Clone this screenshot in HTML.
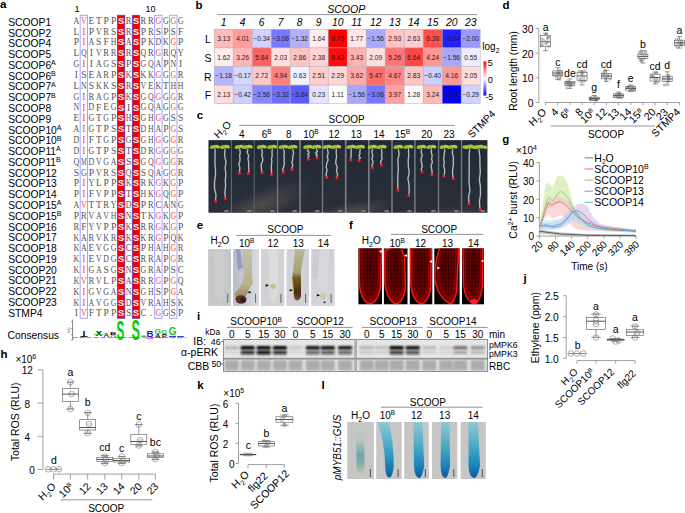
<!DOCTYPE html><html><head><meta charset="utf-8"><style>html,body{margin:0;padding:0;background:#fff;overflow:hidden}svg{display:block}</style></head><body>
<svg width="685" height="513" viewBox="0 0 685 513" font-family="Liberation Sans, sans-serif">
<rect width="685" height="513" fill="#fff"/>
<text x="0.00" y="7.70" font-size="11.5" fill="#000" font-weight="bold">a</text>
<rect x="117.40" y="15.30" width="7.40" height="303.00" fill="#f20000" stroke="#5a3cc8" stroke-width="0.8"/>
<rect x="132.30" y="15.30" width="7.40" height="303.00" fill="#f20000" stroke="#5a3cc8" stroke-width="0.8"/>
<rect x="80.15" y="15.30" width="7.40" height="303.00" fill="none" stroke="#9a9aff" stroke-width="0.9"/>
<rect x="154.65" y="15.30" width="7.40" height="303.00" fill="none" stroke="#9a9aff" stroke-width="0.9"/>
<rect x="169.55" y="15.30" width="7.40" height="303.00" fill="none" stroke="#9a9aff" stroke-width="0.9"/>
<text x="8.20" y="25.80" font-size="10.3">SCOOP1</text>
<text x="8.20" y="36.58" font-size="10.3">SCOOP2</text>
<text x="8.20" y="47.35" font-size="10.3">SCOOP4</text>
<text x="8.20" y="58.12" font-size="10.3">SCOOP5</text>
<text x="8.20" y="68.90" font-size="10.3">SCOOP6<tspan font-size="7.0" dy="-3.7">A</tspan></text>
<text x="8.20" y="79.67" font-size="10.3">SCOOP6<tspan font-size="7.0" dy="-3.7">B</tspan></text>
<text x="8.20" y="90.45" font-size="10.3">SCOOP7<tspan font-size="7.0" dy="-3.7">A</tspan></text>
<text x="8.20" y="101.22" font-size="10.3">SCOOP7<tspan font-size="7.0" dy="-3.7">B</tspan></text>
<text x="8.20" y="112.00" font-size="10.3">SCOOP8</text>
<text x="8.20" y="122.78" font-size="10.3">SCOOP9</text>
<text x="8.20" y="133.55" font-size="10.3">SCOOP10<tspan font-size="7.0" dy="-3.7">A</tspan></text>
<text x="8.20" y="144.33" font-size="10.3">SCOOP10<tspan font-size="7.0" dy="-3.7">B</tspan></text>
<text x="8.20" y="155.10" font-size="10.3">SCOOP11<tspan font-size="7.0" dy="-3.7">A</tspan></text>
<text x="8.20" y="165.88" font-size="10.3">SCOOP11<tspan font-size="7.0" dy="-3.7">B</tspan></text>
<text x="8.20" y="176.65" font-size="10.3">SCOOP12</text>
<text x="8.20" y="187.43" font-size="10.3">SCOOP13</text>
<text x="8.20" y="198.20" font-size="10.3">SCOOP14</text>
<text x="8.20" y="208.98" font-size="10.3">SCOOP15<tspan font-size="7.0" dy="-3.7">A</tspan></text>
<text x="8.20" y="219.75" font-size="10.3">SCOOP15<tspan font-size="7.0" dy="-3.7">B</tspan></text>
<text x="8.20" y="230.53" font-size="10.3">SCOOP16</text>
<text x="8.20" y="241.30" font-size="10.3">SCOOP17</text>
<text x="8.20" y="252.08" font-size="10.3">SCOOP18</text>
<text x="8.20" y="262.85" font-size="10.3">SCOOP19</text>
<text x="8.20" y="273.62" font-size="10.3">SCOOP20</text>
<text x="8.20" y="284.40" font-size="10.3">SCOOP21</text>
<text x="8.20" y="295.18" font-size="10.3">SCOOP22</text>
<text x="8.20" y="305.95" font-size="10.3">SCOOP23</text>
<text x="8.20" y="316.73" font-size="10.3">STMP4</text>
<text x="76.40" y="23.80" font-size="9.6" text-anchor="middle" fill="#555" font-family="Liberation Serif, serif" transform="translate(76.40 23.80) scale(0.822 1) translate(-76.40 -23.80)">A</text>
<text x="83.85" y="23.80" font-size="9.6" text-anchor="middle" fill="#ff4646" font-family="Liberation Serif, serif" transform="translate(83.85 23.80) scale(0.822 1) translate(-83.85 -23.80)">V</text>
<text x="91.30" y="23.80" font-size="9.6" text-anchor="middle" fill="#555" font-family="Liberation Serif, serif" transform="translate(91.30 23.80) scale(0.972 1) translate(-91.30 -23.80)">E</text>
<text x="98.75" y="23.80" font-size="9.6" text-anchor="middle" fill="#555" font-family="Liberation Serif, serif" transform="translate(98.75 23.80) scale(0.972 1) translate(-98.75 -23.80)">T</text>
<text x="106.20" y="23.80" font-size="9.6" text-anchor="middle" fill="#555" font-family="Liberation Serif, serif">P</text>
<text x="113.65" y="23.80" font-size="9.6" text-anchor="middle" fill="#555" font-family="Liberation Serif, serif">P</text>
<text x="121.10" y="23.80" font-size="9.2" text-anchor="middle" fill="#fff" font-weight="bold" font-family="Liberation Sans, sans-serif">S</text>
<text x="128.55" y="23.80" font-size="9.6" text-anchor="middle" fill="#555" font-family="Liberation Serif, serif" transform="translate(128.55 23.80) scale(0.890 1) translate(-128.55 -23.80)">R</text>
<text x="136.00" y="23.80" font-size="9.2" text-anchor="middle" fill="#fff" font-weight="bold" font-family="Liberation Sans, sans-serif">S</text>
<text x="143.45" y="23.80" font-size="9.6" text-anchor="middle" fill="#555" font-family="Liberation Serif, serif" transform="translate(143.45 23.80) scale(0.890 1) translate(-143.45 -23.80)">R</text>
<text x="150.90" y="23.80" font-size="9.6" text-anchor="middle" fill="#555" font-family="Liberation Serif, serif" transform="translate(150.90 23.80) scale(0.890 1) translate(-150.90 -23.80)">R</text>
<text x="158.35" y="23.80" font-size="9.6" text-anchor="middle" fill="#ff4646" font-family="Liberation Serif, serif" transform="translate(158.35 23.80) scale(0.822 1) translate(-158.35 -23.80)">G</text>
<text x="165.80" y="23.80" font-size="9.6" text-anchor="middle" fill="#555" font-family="Liberation Serif, serif" transform="translate(165.80 23.80) scale(0.822 1) translate(-165.80 -23.80)">G</text>
<text x="173.25" y="23.80" font-size="9.6" text-anchor="middle" fill="#ff4646" font-family="Liberation Serif, serif" transform="translate(173.25 23.80) scale(0.822 1) translate(-173.25 -23.80)">G</text>
<text x="180.70" y="23.80" font-size="9.6" text-anchor="middle" fill="#555" font-family="Liberation Serif, serif" transform="translate(180.70 23.80) scale(0.822 1) translate(-180.70 -23.80)">G</text>
<text x="76.40" y="34.64" font-size="9.6" text-anchor="middle" fill="#555" font-family="Liberation Serif, serif" transform="translate(76.40 34.64) scale(0.972 1) translate(-76.40 -34.64)">L</text>
<text x="83.85" y="34.64" font-size="9.6" text-anchor="middle" fill="#ff4646" font-family="Liberation Serif, serif">I</text>
<text x="91.30" y="34.64" font-size="9.6" text-anchor="middle" fill="#555" font-family="Liberation Serif, serif">P</text>
<text x="98.75" y="34.64" font-size="9.6" text-anchor="middle" fill="#555" font-family="Liberation Serif, serif" transform="translate(98.75 34.64) scale(0.822 1) translate(-98.75 -34.64)">V</text>
<text x="106.20" y="34.64" font-size="9.6" text-anchor="middle" fill="#555" font-family="Liberation Serif, serif" transform="translate(106.20 34.64) scale(0.890 1) translate(-106.20 -34.64)">R</text>
<text x="113.65" y="34.64" font-size="9.6" text-anchor="middle" fill="#555" font-family="Liberation Serif, serif">S</text>
<text x="121.10" y="34.64" font-size="9.2" text-anchor="middle" fill="#fff" font-weight="bold" font-family="Liberation Sans, sans-serif">S</text>
<text x="128.55" y="34.64" font-size="9.6" text-anchor="middle" fill="#555" font-family="Liberation Serif, serif" transform="translate(128.55 34.64) scale(0.890 1) translate(-128.55 -34.64)">R</text>
<text x="136.00" y="34.64" font-size="9.2" text-anchor="middle" fill="#fff" font-weight="bold" font-family="Liberation Sans, sans-serif">S</text>
<text x="143.45" y="34.64" font-size="9.6" text-anchor="middle" fill="#555" font-family="Liberation Serif, serif">P</text>
<text x="150.90" y="34.64" font-size="9.6" text-anchor="middle" fill="#555" font-family="Liberation Serif, serif" transform="translate(150.90 34.64) scale(0.890 1) translate(-150.90 -34.64)">R</text>
<text x="158.35" y="34.64" font-size="9.6" text-anchor="middle" fill="#555" font-family="Liberation Serif, serif">S</text>
<text x="165.80" y="34.64" font-size="9.6" text-anchor="middle" fill="#555" font-family="Liberation Serif, serif">P</text>
<text x="173.25" y="34.64" font-size="9.6" text-anchor="middle" fill="#555" font-family="Liberation Serif, serif">S</text>
<text x="180.70" y="34.64" font-size="9.6" text-anchor="middle" fill="#555" font-family="Liberation Serif, serif">F</text>
<text x="76.40" y="45.48" font-size="9.6" text-anchor="middle" fill="#555" font-family="Liberation Serif, serif">P</text>
<text x="83.85" y="45.48" font-size="9.6" text-anchor="middle" fill="#ff4646" font-family="Liberation Serif, serif">I</text>
<text x="91.30" y="45.48" font-size="9.6" text-anchor="middle" fill="#555" font-family="Liberation Serif, serif" transform="translate(91.30 45.48) scale(0.822 1) translate(-91.30 -45.48)">A</text>
<text x="98.75" y="45.48" font-size="9.6" text-anchor="middle" fill="#555" font-family="Liberation Serif, serif">S</text>
<text x="106.20" y="45.48" font-size="9.6" text-anchor="middle" fill="#555" font-family="Liberation Serif, serif">F</text>
<text x="113.65" y="45.48" font-size="9.6" text-anchor="middle" fill="#555" font-family="Liberation Serif, serif" transform="translate(113.65 45.48) scale(0.822 1) translate(-113.65 -45.48)">H</text>
<text x="121.10" y="45.48" font-size="9.2" text-anchor="middle" fill="#fff" font-weight="bold" font-family="Liberation Sans, sans-serif">S</text>
<text x="128.55" y="45.48" font-size="9.6" text-anchor="middle" fill="#555" font-family="Liberation Serif, serif" transform="translate(128.55 45.48) scale(0.822 1) translate(-128.55 -45.48)">A</text>
<text x="136.00" y="45.48" font-size="9.2" text-anchor="middle" fill="#fff" font-weight="bold" font-family="Liberation Sans, sans-serif">S</text>
<text x="143.45" y="45.48" font-size="9.6" text-anchor="middle" fill="#555" font-family="Liberation Serif, serif">P</text>
<text x="150.90" y="45.48" font-size="9.6" text-anchor="middle" fill="#555" font-family="Liberation Serif, serif" transform="translate(150.90 45.48) scale(0.822 1) translate(-150.90 -45.48)">K</text>
<text x="158.35" y="45.48" font-size="9.6" text-anchor="middle" fill="#555" font-family="Liberation Serif, serif" transform="translate(158.35 45.48) scale(0.822 1) translate(-158.35 -45.48)">D</text>
<text x="165.80" y="45.48" font-size="9.6" text-anchor="middle" fill="#555" font-family="Liberation Serif, serif" transform="translate(165.80 45.48) scale(0.822 1) translate(-165.80 -45.48)">K</text>
<text x="173.25" y="45.48" font-size="9.6" text-anchor="middle" fill="#ff4646" font-family="Liberation Serif, serif" transform="translate(173.25 45.48) scale(0.822 1) translate(-173.25 -45.48)">G</text>
<text x="180.70" y="45.48" font-size="9.6" text-anchor="middle" fill="#555" font-family="Liberation Serif, serif">P</text>
<text x="76.40" y="56.31" font-size="9.6" text-anchor="middle" fill="#555" font-family="Liberation Serif, serif" transform="translate(76.40 56.31) scale(0.972 1) translate(-76.40 -56.31)">L</text>
<text x="83.85" y="56.31" font-size="9.6" text-anchor="middle" fill="#555" font-family="Liberation Serif, serif" transform="translate(83.85 56.31) scale(0.822 1) translate(-83.85 -56.31)">Q</text>
<text x="91.30" y="56.31" font-size="9.6" text-anchor="middle" fill="#555" font-family="Liberation Serif, serif">I</text>
<text x="98.75" y="56.31" font-size="9.6" text-anchor="middle" fill="#555" font-family="Liberation Serif, serif" transform="translate(98.75 56.31) scale(0.822 1) translate(-98.75 -56.31)">V</text>
<text x="106.20" y="56.31" font-size="9.6" text-anchor="middle" fill="#555" font-family="Liberation Serif, serif" transform="translate(106.20 56.31) scale(0.890 1) translate(-106.20 -56.31)">R</text>
<text x="113.65" y="56.31" font-size="9.6" text-anchor="middle" fill="#555" font-family="Liberation Serif, serif" transform="translate(113.65 56.31) scale(0.890 1) translate(-113.65 -56.31)">R</text>
<text x="121.10" y="56.31" font-size="9.2" text-anchor="middle" fill="#fff" font-weight="bold" font-family="Liberation Sans, sans-serif">S</text>
<text x="128.55" y="56.31" font-size="9.6" text-anchor="middle" fill="#555" font-family="Liberation Serif, serif" transform="translate(128.55 56.31) scale(0.890 1) translate(-128.55 -56.31)">R</text>
<text x="136.00" y="56.31" font-size="9.2" text-anchor="middle" fill="#fff" font-weight="bold" font-family="Liberation Sans, sans-serif">S</text>
<text x="143.45" y="56.31" font-size="9.6" text-anchor="middle" fill="#555" font-family="Liberation Serif, serif" transform="translate(143.45 56.31) scale(0.822 1) translate(-143.45 -56.31)">Q</text>
<text x="150.90" y="56.31" font-size="9.6" text-anchor="middle" fill="#555" font-family="Liberation Serif, serif" transform="translate(150.90 56.31) scale(0.890 1) translate(-150.90 -56.31)">R</text>
<text x="158.35" y="56.31" font-size="9.6" text-anchor="middle" fill="#ff4646" font-family="Liberation Serif, serif" transform="translate(158.35 56.31) scale(0.822 1) translate(-158.35 -56.31)">G</text>
<text x="165.80" y="56.31" font-size="9.6" text-anchor="middle" fill="#555" font-family="Liberation Serif, serif" transform="translate(165.80 56.31) scale(0.890 1) translate(-165.80 -56.31)">R</text>
<text x="173.25" y="56.31" font-size="9.6" text-anchor="middle" fill="#555" font-family="Liberation Serif, serif" transform="translate(173.25 56.31) scale(0.822 1) translate(-173.25 -56.31)">Q</text>
<text x="180.70" y="56.31" font-size="9.6" text-anchor="middle" fill="#555" font-family="Liberation Serif, serif" transform="translate(180.70 56.31) scale(0.822 1) translate(-180.70 -56.31)">Y</text>
<text x="76.40" y="67.15" font-size="9.6" text-anchor="middle" fill="#555" font-family="Liberation Serif, serif" transform="translate(76.40 67.15) scale(0.822 1) translate(-76.40 -67.15)">G</text>
<text x="83.85" y="67.15" font-size="9.6" text-anchor="middle" fill="#ff4646" font-family="Liberation Serif, serif">I</text>
<text x="91.30" y="67.15" font-size="9.6" text-anchor="middle" fill="#555" font-family="Liberation Serif, serif">I</text>
<text x="98.75" y="67.15" font-size="9.6" text-anchor="middle" fill="#555" font-family="Liberation Serif, serif" transform="translate(98.75 67.15) scale(0.822 1) translate(-98.75 -67.15)">A</text>
<text x="106.20" y="67.15" font-size="9.6" text-anchor="middle" fill="#555" font-family="Liberation Serif, serif" transform="translate(106.20 67.15) scale(0.822 1) translate(-106.20 -67.15)">G</text>
<text x="113.65" y="67.15" font-size="9.6" text-anchor="middle" fill="#555" font-family="Liberation Serif, serif">S</text>
<text x="121.10" y="67.15" font-size="9.2" text-anchor="middle" fill="#fff" font-weight="bold" font-family="Liberation Sans, sans-serif">S</text>
<text x="128.55" y="67.15" font-size="9.6" text-anchor="middle" fill="#555" font-family="Liberation Serif, serif">P</text>
<text x="136.00" y="67.15" font-size="9.2" text-anchor="middle" fill="#fff" font-weight="bold" font-family="Liberation Sans, sans-serif">S</text>
<text x="143.45" y="67.15" font-size="9.6" text-anchor="middle" fill="#555" font-family="Liberation Serif, serif" transform="translate(143.45 67.15) scale(0.822 1) translate(-143.45 -67.15)">G</text>
<text x="150.90" y="67.15" font-size="9.6" text-anchor="middle" fill="#555" font-family="Liberation Serif, serif" transform="translate(150.90 67.15) scale(0.822 1) translate(-150.90 -67.15)">Q</text>
<text x="158.35" y="67.15" font-size="9.6" text-anchor="middle" fill="#555" font-family="Liberation Serif, serif" transform="translate(158.35 67.15) scale(0.822 1) translate(-158.35 -67.15)">A</text>
<text x="165.80" y="67.15" font-size="9.6" text-anchor="middle" fill="#555" font-family="Liberation Serif, serif">P</text>
<text x="173.25" y="67.15" font-size="9.6" text-anchor="middle" fill="#555" font-family="Liberation Serif, serif" transform="translate(173.25 67.15) scale(0.822 1) translate(-173.25 -67.15)">N</text>
<text x="180.70" y="67.15" font-size="9.6" text-anchor="middle" fill="#555" font-family="Liberation Serif, serif">I</text>
<text x="76.40" y="77.99" font-size="9.6" text-anchor="middle" fill="#555" font-family="Liberation Serif, serif">I</text>
<text x="83.85" y="77.99" font-size="9.6" text-anchor="middle" fill="#555" font-family="Liberation Serif, serif">S</text>
<text x="91.30" y="77.99" font-size="9.6" text-anchor="middle" fill="#555" font-family="Liberation Serif, serif" transform="translate(91.30 77.99) scale(0.972 1) translate(-91.30 -77.99)">E</text>
<text x="98.75" y="77.99" font-size="9.6" text-anchor="middle" fill="#555" font-family="Liberation Serif, serif" transform="translate(98.75 77.99) scale(0.822 1) translate(-98.75 -77.99)">A</text>
<text x="106.20" y="77.99" font-size="9.6" text-anchor="middle" fill="#555" font-family="Liberation Serif, serif" transform="translate(106.20 77.99) scale(0.890 1) translate(-106.20 -77.99)">R</text>
<text x="113.65" y="77.99" font-size="9.6" text-anchor="middle" fill="#555" font-family="Liberation Serif, serif">P</text>
<text x="121.10" y="77.99" font-size="9.2" text-anchor="middle" fill="#fff" font-weight="bold" font-family="Liberation Sans, sans-serif">S</text>
<text x="128.55" y="77.99" font-size="9.6" text-anchor="middle" fill="#555" font-family="Liberation Serif, serif" transform="translate(128.55 77.99) scale(0.822 1) translate(-128.55 -77.99)">K</text>
<text x="136.00" y="77.99" font-size="9.2" text-anchor="middle" fill="#fff" font-weight="bold" font-family="Liberation Sans, sans-serif">S</text>
<text x="143.45" y="77.99" font-size="9.6" text-anchor="middle" fill="#555" font-family="Liberation Serif, serif" transform="translate(143.45 77.99) scale(0.822 1) translate(-143.45 -77.99)">K</text>
<text x="150.90" y="77.99" font-size="9.6" text-anchor="middle" fill="#555" font-family="Liberation Serif, serif" transform="translate(150.90 77.99) scale(0.822 1) translate(-150.90 -77.99)">K</text>
<text x="158.35" y="77.99" font-size="9.6" text-anchor="middle" fill="#ff4646" font-family="Liberation Serif, serif" transform="translate(158.35 77.99) scale(0.822 1) translate(-158.35 -77.99)">G</text>
<text x="165.80" y="77.99" font-size="9.6" text-anchor="middle" fill="#555" font-family="Liberation Serif, serif" transform="translate(165.80 77.99) scale(0.822 1) translate(-165.80 -77.99)">G</text>
<text x="173.25" y="77.99" font-size="9.6" text-anchor="middle" fill="#ff4646" font-family="Liberation Serif, serif" transform="translate(173.25 77.99) scale(0.822 1) translate(-173.25 -77.99)">G</text>
<text x="180.70" y="77.99" font-size="9.6" text-anchor="middle" fill="#555" font-family="Liberation Serif, serif" transform="translate(180.70 77.99) scale(0.890 1) translate(-180.70 -77.99)">R</text>
<text x="76.40" y="88.83" font-size="9.6" text-anchor="middle" fill="#555" font-family="Liberation Serif, serif" transform="translate(76.40 88.83) scale(0.972 1) translate(-76.40 -88.83)">L</text>
<text x="83.85" y="88.83" font-size="9.6" text-anchor="middle" fill="#555" font-family="Liberation Serif, serif" transform="translate(83.85 88.83) scale(0.822 1) translate(-83.85 -88.83)">N</text>
<text x="91.30" y="88.83" font-size="9.6" text-anchor="middle" fill="#555" font-family="Liberation Serif, serif">S</text>
<text x="98.75" y="88.83" font-size="9.6" text-anchor="middle" fill="#555" font-family="Liberation Serif, serif" transform="translate(98.75 88.83) scale(0.822 1) translate(-98.75 -88.83)">K</text>
<text x="106.20" y="88.83" font-size="9.6" text-anchor="middle" fill="#555" font-family="Liberation Serif, serif" transform="translate(106.20 88.83) scale(0.822 1) translate(-106.20 -88.83)">K</text>
<text x="113.65" y="88.83" font-size="9.6" text-anchor="middle" fill="#555" font-family="Liberation Serif, serif">S</text>
<text x="121.10" y="88.83" font-size="9.2" text-anchor="middle" fill="#fff" font-weight="bold" font-family="Liberation Sans, sans-serif">S</text>
<text x="128.55" y="88.83" font-size="9.6" text-anchor="middle" fill="#555" font-family="Liberation Serif, serif" transform="translate(128.55 88.83) scale(0.890 1) translate(-128.55 -88.83)">R</text>
<text x="136.00" y="88.83" font-size="9.2" text-anchor="middle" fill="#fff" font-weight="bold" font-family="Liberation Sans, sans-serif">S</text>
<text x="143.45" y="88.83" font-size="9.6" text-anchor="middle" fill="#555" font-family="Liberation Serif, serif" transform="translate(143.45 88.83) scale(0.822 1) translate(-143.45 -88.83)">V</text>
<text x="150.90" y="88.83" font-size="9.6" text-anchor="middle" fill="#555" font-family="Liberation Serif, serif" transform="translate(150.90 88.83) scale(0.972 1) translate(-150.90 -88.83)">E</text>
<text x="158.35" y="88.83" font-size="9.6" text-anchor="middle" fill="#555" font-family="Liberation Serif, serif" transform="translate(158.35 88.83) scale(0.822 1) translate(-158.35 -88.83)">K</text>
<text x="165.80" y="88.83" font-size="9.6" text-anchor="middle" fill="#555" font-family="Liberation Serif, serif" transform="translate(165.80 88.83) scale(0.972 1) translate(-165.80 -88.83)">T</text>
<text x="173.25" y="88.83" font-size="9.6" text-anchor="middle" fill="#555" font-family="Liberation Serif, serif" transform="translate(173.25 88.83) scale(0.822 1) translate(-173.25 -88.83)">H</text>
<text x="180.70" y="88.83" font-size="9.6" text-anchor="middle" fill="#555" font-family="Liberation Serif, serif" transform="translate(180.70 88.83) scale(0.822 1) translate(-180.70 -88.83)">H</text>
<text x="76.40" y="99.67" font-size="9.6" text-anchor="middle" fill="#555" font-family="Liberation Serif, serif" transform="translate(76.40 99.67) scale(0.822 1) translate(-76.40 -99.67)">G</text>
<text x="83.85" y="99.67" font-size="9.6" text-anchor="middle" fill="#ff4646" font-family="Liberation Serif, serif">I</text>
<text x="91.30" y="99.67" font-size="9.6" text-anchor="middle" fill="#555" font-family="Liberation Serif, serif" transform="translate(91.30 99.67) scale(0.890 1) translate(-91.30 -99.67)">R</text>
<text x="98.75" y="99.67" font-size="9.6" text-anchor="middle" fill="#555" font-family="Liberation Serif, serif" transform="translate(98.75 99.67) scale(0.822 1) translate(-98.75 -99.67)">A</text>
<text x="106.20" y="99.67" font-size="9.6" text-anchor="middle" fill="#555" font-family="Liberation Serif, serif" transform="translate(106.20 99.67) scale(0.822 1) translate(-106.20 -99.67)">G</text>
<text x="113.65" y="99.67" font-size="9.6" text-anchor="middle" fill="#555" font-family="Liberation Serif, serif">P</text>
<text x="121.10" y="99.67" font-size="9.2" text-anchor="middle" fill="#fff" font-weight="bold" font-family="Liberation Sans, sans-serif">S</text>
<text x="128.55" y="99.67" font-size="9.6" text-anchor="middle" fill="#555" font-family="Liberation Serif, serif" transform="translate(128.55 99.67) scale(0.822 1) translate(-128.55 -99.67)">K</text>
<text x="136.00" y="99.67" font-size="9.2" text-anchor="middle" fill="#fff" font-weight="bold" font-family="Liberation Sans, sans-serif">S</text>
<text x="143.45" y="99.67" font-size="9.6" text-anchor="middle" fill="#555" font-family="Liberation Serif, serif" transform="translate(143.45 99.67) scale(0.822 1) translate(-143.45 -99.67)">G</text>
<text x="150.90" y="99.67" font-size="9.6" text-anchor="middle" fill="#555" font-family="Liberation Serif, serif" transform="translate(150.90 99.67) scale(0.822 1) translate(-150.90 -99.67)">Q</text>
<text x="158.35" y="99.67" font-size="9.6" text-anchor="middle" fill="#ff4646" font-family="Liberation Serif, serif" transform="translate(158.35 99.67) scale(0.822 1) translate(-158.35 -99.67)">G</text>
<text x="165.80" y="99.67" font-size="9.6" text-anchor="middle" fill="#555" font-family="Liberation Serif, serif" transform="translate(165.80 99.67) scale(0.822 1) translate(-165.80 -99.67)">G</text>
<text x="173.25" y="99.67" font-size="9.6" text-anchor="middle" fill="#ff4646" font-family="Liberation Serif, serif" transform="translate(173.25 99.67) scale(0.822 1) translate(-173.25 -99.67)">G</text>
<text x="180.70" y="99.67" font-size="9.6" text-anchor="middle" fill="#555" font-family="Liberation Serif, serif" transform="translate(180.70 99.67) scale(0.890 1) translate(-180.70 -99.67)">R</text>
<text x="76.40" y="110.50" font-size="9.6" text-anchor="middle" fill="#555" font-family="Liberation Serif, serif" transform="translate(76.40 110.50) scale(0.822 1) translate(-76.40 -110.50)">N</text>
<text x="83.85" y="110.50" font-size="9.6" text-anchor="middle" fill="#ff4646" font-family="Liberation Serif, serif">I</text>
<text x="91.30" y="110.50" font-size="9.6" text-anchor="middle" fill="#555" font-family="Liberation Serif, serif" transform="translate(91.30 110.50) scale(0.822 1) translate(-91.30 -110.50)">D</text>
<text x="98.75" y="110.50" font-size="9.6" text-anchor="middle" fill="#555" font-family="Liberation Serif, serif">F</text>
<text x="106.20" y="110.50" font-size="9.6" text-anchor="middle" fill="#555" font-family="Liberation Serif, serif" transform="translate(106.20 110.50) scale(0.972 1) translate(-106.20 -110.50)">E</text>
<text x="113.65" y="110.50" font-size="9.6" text-anchor="middle" fill="#555" font-family="Liberation Serif, serif" transform="translate(113.65 110.50) scale(0.822 1) translate(-113.65 -110.50)">G</text>
<text x="121.10" y="110.50" font-size="9.2" text-anchor="middle" fill="#fff" font-weight="bold" font-family="Liberation Sans, sans-serif">S</text>
<text x="128.55" y="110.50" font-size="9.6" text-anchor="middle" fill="#555" font-family="Liberation Serif, serif">I</text>
<text x="136.00" y="110.50" font-size="9.2" text-anchor="middle" fill="#fff" font-weight="bold" font-family="Liberation Sans, sans-serif">S</text>
<text x="143.45" y="110.50" font-size="9.6" text-anchor="middle" fill="#555" font-family="Liberation Serif, serif" transform="translate(143.45 110.50) scale(0.822 1) translate(-143.45 -110.50)">G</text>
<text x="150.90" y="110.50" font-size="9.6" text-anchor="middle" fill="#555" font-family="Liberation Serif, serif" transform="translate(150.90 110.50) scale(0.822 1) translate(-150.90 -110.50)">Q</text>
<text x="158.35" y="110.50" font-size="9.6" text-anchor="middle" fill="#555" font-family="Liberation Serif, serif" transform="translate(158.35 110.50) scale(0.822 1) translate(-158.35 -110.50)">A</text>
<text x="165.80" y="110.50" font-size="9.6" text-anchor="middle" fill="#555" font-family="Liberation Serif, serif" transform="translate(165.80 110.50) scale(0.822 1) translate(-165.80 -110.50)">G</text>
<text x="173.25" y="110.50" font-size="9.6" text-anchor="middle" fill="#ff4646" font-family="Liberation Serif, serif" transform="translate(173.25 110.50) scale(0.822 1) translate(-173.25 -110.50)">G</text>
<text x="180.70" y="110.50" font-size="9.6" text-anchor="middle" fill="#555" font-family="Liberation Serif, serif" transform="translate(180.70 110.50) scale(0.822 1) translate(-180.70 -110.50)">G</text>
<text x="76.40" y="121.34" font-size="9.6" text-anchor="middle" fill="#555" font-family="Liberation Serif, serif" transform="translate(76.40 121.34) scale(0.972 1) translate(-76.40 -121.34)">E</text>
<text x="83.85" y="121.34" font-size="9.6" text-anchor="middle" fill="#ff4646" font-family="Liberation Serif, serif">I</text>
<text x="91.30" y="121.34" font-size="9.6" text-anchor="middle" fill="#555" font-family="Liberation Serif, serif" transform="translate(91.30 121.34) scale(0.822 1) translate(-91.30 -121.34)">G</text>
<text x="98.75" y="121.34" font-size="9.6" text-anchor="middle" fill="#555" font-family="Liberation Serif, serif" transform="translate(98.75 121.34) scale(0.972 1) translate(-98.75 -121.34)">T</text>
<text x="106.20" y="121.34" font-size="9.6" text-anchor="middle" fill="#555" font-family="Liberation Serif, serif" transform="translate(106.20 121.34) scale(0.822 1) translate(-106.20 -121.34)">G</text>
<text x="113.65" y="121.34" font-size="9.6" text-anchor="middle" fill="#555" font-family="Liberation Serif, serif">P</text>
<text x="121.10" y="121.34" font-size="9.2" text-anchor="middle" fill="#fff" font-weight="bold" font-family="Liberation Sans, sans-serif">S</text>
<text x="128.55" y="121.34" font-size="9.6" text-anchor="middle" fill="#555" font-family="Liberation Serif, serif" transform="translate(128.55 121.34) scale(0.822 1) translate(-128.55 -121.34)">H</text>
<text x="136.00" y="121.34" font-size="9.2" text-anchor="middle" fill="#fff" font-weight="bold" font-family="Liberation Sans, sans-serif">S</text>
<text x="143.45" y="121.34" font-size="9.6" text-anchor="middle" fill="#555" font-family="Liberation Serif, serif" transform="translate(143.45 121.34) scale(0.822 1) translate(-143.45 -121.34)">G</text>
<text x="150.90" y="121.34" font-size="9.6" text-anchor="middle" fill="#555" font-family="Liberation Serif, serif" transform="translate(150.90 121.34) scale(0.822 1) translate(-150.90 -121.34)">H</text>
<text x="158.35" y="121.34" font-size="9.6" text-anchor="middle" fill="#ff4646" font-family="Liberation Serif, serif" transform="translate(158.35 121.34) scale(0.822 1) translate(-158.35 -121.34)">G</text>
<text x="165.80" y="121.34" font-size="9.6" text-anchor="middle" fill="#555" font-family="Liberation Serif, serif" transform="translate(165.80 121.34) scale(0.822 1) translate(-165.80 -121.34)">G</text>
<text x="173.25" y="121.34" font-size="9.6" text-anchor="middle" fill="#555" font-family="Liberation Serif, serif">S</text>
<text x="180.70" y="121.34" font-size="9.6" text-anchor="middle" fill="#555" font-family="Liberation Serif, serif">S</text>
<text x="76.40" y="132.18" font-size="9.6" text-anchor="middle" fill="#555" font-family="Liberation Serif, serif" transform="translate(76.40 132.18) scale(0.822 1) translate(-76.40 -132.18)">A</text>
<text x="83.85" y="132.18" font-size="9.6" text-anchor="middle" fill="#ff4646" font-family="Liberation Serif, serif">I</text>
<text x="91.30" y="132.18" font-size="9.6" text-anchor="middle" fill="#555" font-family="Liberation Serif, serif" transform="translate(91.30 132.18) scale(0.822 1) translate(-91.30 -132.18)">G</text>
<text x="98.75" y="132.18" font-size="9.6" text-anchor="middle" fill="#555" font-family="Liberation Serif, serif" transform="translate(98.75 132.18) scale(0.972 1) translate(-98.75 -132.18)">T</text>
<text x="106.20" y="132.18" font-size="9.6" text-anchor="middle" fill="#555" font-family="Liberation Serif, serif">P</text>
<text x="113.65" y="132.18" font-size="9.6" text-anchor="middle" fill="#555" font-family="Liberation Serif, serif">S</text>
<text x="121.10" y="132.18" font-size="9.2" text-anchor="middle" fill="#fff" font-weight="bold" font-family="Liberation Sans, sans-serif">S</text>
<text x="128.55" y="132.18" font-size="9.6" text-anchor="middle" fill="#555" font-family="Liberation Serif, serif" transform="translate(128.55 132.18) scale(0.972 1) translate(-128.55 -132.18)">T</text>
<text x="136.00" y="132.18" font-size="9.2" text-anchor="middle" fill="#fff" font-weight="bold" font-family="Liberation Sans, sans-serif">S</text>
<text x="143.45" y="132.18" font-size="9.6" text-anchor="middle" fill="#555" font-family="Liberation Serif, serif" transform="translate(143.45 132.18) scale(0.822 1) translate(-143.45 -132.18)">D</text>
<text x="150.90" y="132.18" font-size="9.6" text-anchor="middle" fill="#555" font-family="Liberation Serif, serif" transform="translate(150.90 132.18) scale(0.822 1) translate(-150.90 -132.18)">H</text>
<text x="158.35" y="132.18" font-size="9.6" text-anchor="middle" fill="#555" font-family="Liberation Serif, serif" transform="translate(158.35 132.18) scale(0.822 1) translate(-158.35 -132.18)">A</text>
<text x="165.80" y="132.18" font-size="9.6" text-anchor="middle" fill="#555" font-family="Liberation Serif, serif">P</text>
<text x="173.25" y="132.18" font-size="9.6" text-anchor="middle" fill="#ff4646" font-family="Liberation Serif, serif" transform="translate(173.25 132.18) scale(0.822 1) translate(-173.25 -132.18)">G</text>
<text x="180.70" y="132.18" font-size="9.6" text-anchor="middle" fill="#555" font-family="Liberation Serif, serif">S</text>
<text x="76.40" y="143.02" font-size="9.6" text-anchor="middle" fill="#555" font-family="Liberation Serif, serif" transform="translate(76.40 143.02) scale(0.822 1) translate(-76.40 -143.02)">D</text>
<text x="83.85" y="143.02" font-size="9.6" text-anchor="middle" fill="#ff4646" font-family="Liberation Serif, serif">I</text>
<text x="91.30" y="143.02" font-size="9.6" text-anchor="middle" fill="#555" font-family="Liberation Serif, serif">F</text>
<text x="98.75" y="143.02" font-size="9.6" text-anchor="middle" fill="#555" font-family="Liberation Serif, serif" transform="translate(98.75 143.02) scale(0.972 1) translate(-98.75 -143.02)">T</text>
<text x="106.20" y="143.02" font-size="9.6" text-anchor="middle" fill="#555" font-family="Liberation Serif, serif" transform="translate(106.20 143.02) scale(0.822 1) translate(-106.20 -143.02)">G</text>
<text x="113.65" y="143.02" font-size="9.6" text-anchor="middle" fill="#555" font-family="Liberation Serif, serif">P</text>
<text x="121.10" y="143.02" font-size="9.2" text-anchor="middle" fill="#fff" font-weight="bold" font-family="Liberation Sans, sans-serif">S</text>
<text x="128.55" y="143.02" font-size="9.6" text-anchor="middle" fill="#555" font-family="Liberation Serif, serif" transform="translate(128.55 143.02) scale(0.822 1) translate(-128.55 -143.02)">G</text>
<text x="136.00" y="143.02" font-size="9.2" text-anchor="middle" fill="#fff" font-weight="bold" font-family="Liberation Sans, sans-serif">S</text>
<text x="143.45" y="143.02" font-size="9.6" text-anchor="middle" fill="#555" font-family="Liberation Serif, serif" transform="translate(143.45 143.02) scale(0.822 1) translate(-143.45 -143.02)">G</text>
<text x="150.90" y="143.02" font-size="9.6" text-anchor="middle" fill="#555" font-family="Liberation Serif, serif" transform="translate(150.90 143.02) scale(0.822 1) translate(-150.90 -143.02)">H</text>
<text x="158.35" y="143.02" font-size="9.6" text-anchor="middle" fill="#ff4646" font-family="Liberation Serif, serif" transform="translate(158.35 143.02) scale(0.822 1) translate(-158.35 -143.02)">G</text>
<text x="165.80" y="143.02" font-size="9.6" text-anchor="middle" fill="#555" font-family="Liberation Serif, serif" transform="translate(165.80 143.02) scale(0.822 1) translate(-165.80 -143.02)">G</text>
<text x="173.25" y="143.02" font-size="9.6" text-anchor="middle" fill="#ff4646" font-family="Liberation Serif, serif" transform="translate(173.25 143.02) scale(0.822 1) translate(-173.25 -143.02)">G</text>
<text x="180.70" y="143.02" font-size="9.6" text-anchor="middle" fill="#555" font-family="Liberation Serif, serif" transform="translate(180.70 143.02) scale(0.890 1) translate(-180.70 -143.02)">R</text>
<text x="76.40" y="153.86" font-size="9.6" text-anchor="middle" fill="#555" font-family="Liberation Serif, serif" transform="translate(76.40 153.86) scale(0.822 1) translate(-76.40 -153.86)">D</text>
<text x="83.85" y="153.86" font-size="9.6" text-anchor="middle" fill="#ff4646" font-family="Liberation Serif, serif">I</text>
<text x="91.30" y="153.86" font-size="9.6" text-anchor="middle" fill="#555" font-family="Liberation Serif, serif" transform="translate(91.30 153.86) scale(0.822 1) translate(-91.30 -153.86)">G</text>
<text x="98.75" y="153.86" font-size="9.6" text-anchor="middle" fill="#555" font-family="Liberation Serif, serif" transform="translate(98.75 153.86) scale(0.972 1) translate(-98.75 -153.86)">T</text>
<text x="106.20" y="153.86" font-size="9.6" text-anchor="middle" fill="#555" font-family="Liberation Serif, serif">P</text>
<text x="113.65" y="153.86" font-size="9.6" text-anchor="middle" fill="#555" font-family="Liberation Serif, serif">S</text>
<text x="121.10" y="153.86" font-size="9.2" text-anchor="middle" fill="#fff" font-weight="bold" font-family="Liberation Sans, sans-serif">S</text>
<text x="128.55" y="153.86" font-size="9.6" text-anchor="middle" fill="#555" font-family="Liberation Serif, serif" transform="translate(128.55 153.86) scale(0.972 1) translate(-128.55 -153.86)">T</text>
<text x="136.00" y="153.86" font-size="9.2" text-anchor="middle" fill="#fff" font-weight="bold" font-family="Liberation Sans, sans-serif">S</text>
<text x="143.45" y="153.86" font-size="9.6" text-anchor="middle" fill="#555" font-family="Liberation Serif, serif" transform="translate(143.45 153.86) scale(0.822 1) translate(-143.45 -153.86)">D</text>
<text x="150.90" y="153.86" font-size="9.6" text-anchor="middle" fill="#555" font-family="Liberation Serif, serif" transform="translate(150.90 153.86) scale(0.890 1) translate(-150.90 -153.86)">R</text>
<text x="158.35" y="153.86" font-size="9.6" text-anchor="middle" fill="#ff4646" font-family="Liberation Serif, serif" transform="translate(158.35 153.86) scale(0.822 1) translate(-158.35 -153.86)">G</text>
<text x="165.80" y="153.86" font-size="9.6" text-anchor="middle" fill="#555" font-family="Liberation Serif, serif" transform="translate(165.80 153.86) scale(0.822 1) translate(-165.80 -153.86)">G</text>
<text x="173.25" y="153.86" font-size="9.6" text-anchor="middle" fill="#ff4646" font-family="Liberation Serif, serif" transform="translate(173.25 153.86) scale(0.822 1) translate(-173.25 -153.86)">G</text>
<text x="180.70" y="153.86" font-size="9.6" text-anchor="middle" fill="#555" font-family="Liberation Serif, serif" transform="translate(180.70 153.86) scale(0.822 1) translate(-180.70 -153.86)">G</text>
<text x="76.40" y="164.69" font-size="9.6" text-anchor="middle" fill="#555" font-family="Liberation Serif, serif" transform="translate(76.40 164.69) scale(0.822 1) translate(-76.40 -164.69)">Q</text>
<text x="83.85" y="164.69" font-size="9.6" text-anchor="middle" fill="#555" font-family="Liberation Serif, serif" transform="translate(83.85 164.69) scale(0.668 1) translate(-83.85 -164.69)">M</text>
<text x="91.30" y="164.69" font-size="9.6" text-anchor="middle" fill="#555" font-family="Liberation Serif, serif" transform="translate(91.30 164.69) scale(0.822 1) translate(-91.30 -164.69)">D</text>
<text x="98.75" y="164.69" font-size="9.6" text-anchor="middle" fill="#555" font-family="Liberation Serif, serif" transform="translate(98.75 164.69) scale(0.822 1) translate(-98.75 -164.69)">V</text>
<text x="106.20" y="164.69" font-size="9.6" text-anchor="middle" fill="#555" font-family="Liberation Serif, serif" transform="translate(106.20 164.69) scale(0.822 1) translate(-106.20 -164.69)">G</text>
<text x="113.65" y="164.69" font-size="9.6" text-anchor="middle" fill="#555" font-family="Liberation Serif, serif" transform="translate(113.65 164.69) scale(0.822 1) translate(-113.65 -164.69)">A</text>
<text x="121.10" y="164.69" font-size="9.2" text-anchor="middle" fill="#fff" font-weight="bold" font-family="Liberation Sans, sans-serif">S</text>
<text x="128.55" y="164.69" font-size="9.6" text-anchor="middle" fill="#555" font-family="Liberation Serif, serif">S</text>
<text x="136.00" y="164.69" font-size="9.2" text-anchor="middle" fill="#fff" font-weight="bold" font-family="Liberation Sans, sans-serif">S</text>
<text x="143.45" y="164.69" font-size="9.6" text-anchor="middle" fill="#555" font-family="Liberation Serif, serif" transform="translate(143.45 164.69) scale(0.822 1) translate(-143.45 -164.69)">G</text>
<text x="150.90" y="164.69" font-size="9.6" text-anchor="middle" fill="#555" font-family="Liberation Serif, serif" transform="translate(150.90 164.69) scale(0.822 1) translate(-150.90 -164.69)">Q</text>
<text x="158.35" y="164.69" font-size="9.6" text-anchor="middle" fill="#ff4646" font-family="Liberation Serif, serif" transform="translate(158.35 164.69) scale(0.822 1) translate(-158.35 -164.69)">G</text>
<text x="165.80" y="164.69" font-size="9.6" text-anchor="middle" fill="#555" font-family="Liberation Serif, serif" transform="translate(165.80 164.69) scale(0.822 1) translate(-165.80 -164.69)">G</text>
<text x="173.25" y="164.69" font-size="9.6" text-anchor="middle" fill="#ff4646" font-family="Liberation Serif, serif" transform="translate(173.25 164.69) scale(0.822 1) translate(-173.25 -164.69)">G</text>
<text x="180.70" y="164.69" font-size="9.6" text-anchor="middle" fill="#555" font-family="Liberation Serif, serif" transform="translate(180.70 164.69) scale(0.890 1) translate(-180.70 -164.69)">R</text>
<text x="76.40" y="175.53" font-size="9.6" text-anchor="middle" fill="#555" font-family="Liberation Serif, serif">S</text>
<text x="83.85" y="175.53" font-size="9.6" text-anchor="middle" fill="#555" font-family="Liberation Serif, serif" transform="translate(83.85 175.53) scale(0.822 1) translate(-83.85 -175.53)">G</text>
<text x="91.30" y="175.53" font-size="9.6" text-anchor="middle" fill="#555" font-family="Liberation Serif, serif">P</text>
<text x="98.75" y="175.53" font-size="9.6" text-anchor="middle" fill="#555" font-family="Liberation Serif, serif" transform="translate(98.75 175.53) scale(0.822 1) translate(-98.75 -175.53)">V</text>
<text x="106.20" y="175.53" font-size="9.6" text-anchor="middle" fill="#555" font-family="Liberation Serif, serif" transform="translate(106.20 175.53) scale(0.890 1) translate(-106.20 -175.53)">R</text>
<text x="113.65" y="175.53" font-size="9.6" text-anchor="middle" fill="#555" font-family="Liberation Serif, serif">S</text>
<text x="121.10" y="175.53" font-size="9.2" text-anchor="middle" fill="#fff" font-weight="bold" font-family="Liberation Sans, sans-serif">S</text>
<text x="128.55" y="175.53" font-size="9.6" text-anchor="middle" fill="#555" font-family="Liberation Serif, serif" transform="translate(128.55 175.53) scale(0.822 1) translate(-128.55 -175.53)">Q</text>
<text x="136.00" y="175.53" font-size="9.2" text-anchor="middle" fill="#fff" font-weight="bold" font-family="Liberation Sans, sans-serif">S</text>
<text x="143.45" y="175.53" font-size="9.6" text-anchor="middle" fill="#555" font-family="Liberation Serif, serif">S</text>
<text x="150.90" y="175.53" font-size="9.6" text-anchor="middle" fill="#555" font-family="Liberation Serif, serif" transform="translate(150.90 175.53) scale(0.822 1) translate(-150.90 -175.53)">Q</text>
<text x="158.35" y="175.53" font-size="9.6" text-anchor="middle" fill="#555" font-family="Liberation Serif, serif" transform="translate(158.35 175.53) scale(0.822 1) translate(-158.35 -175.53)">A</text>
<text x="165.80" y="175.53" font-size="9.6" text-anchor="middle" fill="#555" font-family="Liberation Serif, serif" transform="translate(165.80 175.53) scale(0.822 1) translate(-165.80 -175.53)">G</text>
<text x="173.25" y="175.53" font-size="9.6" text-anchor="middle" fill="#ff4646" font-family="Liberation Serif, serif" transform="translate(173.25 175.53) scale(0.822 1) translate(-173.25 -175.53)">G</text>
<text x="180.70" y="175.53" font-size="9.6" text-anchor="middle" fill="#555" font-family="Liberation Serif, serif" transform="translate(180.70 175.53) scale(0.890 1) translate(-180.70 -175.53)">R</text>
<text x="76.40" y="186.37" font-size="9.6" text-anchor="middle" fill="#555" font-family="Liberation Serif, serif">P</text>
<text x="83.85" y="186.37" font-size="9.6" text-anchor="middle" fill="#ff4646" font-family="Liberation Serif, serif">I</text>
<text x="91.30" y="186.37" font-size="9.6" text-anchor="middle" fill="#555" font-family="Liberation Serif, serif" transform="translate(91.30 186.37) scale(0.822 1) translate(-91.30 -186.37)">Y</text>
<text x="98.75" y="186.37" font-size="9.6" text-anchor="middle" fill="#555" font-family="Liberation Serif, serif" transform="translate(98.75 186.37) scale(0.972 1) translate(-98.75 -186.37)">L</text>
<text x="106.20" y="186.37" font-size="9.6" text-anchor="middle" fill="#555" font-family="Liberation Serif, serif">P</text>
<text x="113.65" y="186.37" font-size="9.6" text-anchor="middle" fill="#555" font-family="Liberation Serif, serif">P</text>
<text x="121.10" y="186.37" font-size="9.2" text-anchor="middle" fill="#fff" font-weight="bold" font-family="Liberation Sans, sans-serif">S</text>
<text x="128.55" y="186.37" font-size="9.6" text-anchor="middle" fill="#555" font-family="Liberation Serif, serif" transform="translate(128.55 186.37) scale(0.822 1) translate(-128.55 -186.37)">K</text>
<text x="136.00" y="186.37" font-size="9.2" text-anchor="middle" fill="#fff" font-weight="bold" font-family="Liberation Sans, sans-serif">S</text>
<text x="143.45" y="186.37" font-size="9.6" text-anchor="middle" fill="#555" font-family="Liberation Serif, serif" transform="translate(143.45 186.37) scale(0.890 1) translate(-143.45 -186.37)">R</text>
<text x="150.90" y="186.37" font-size="9.6" text-anchor="middle" fill="#555" font-family="Liberation Serif, serif" transform="translate(150.90 186.37) scale(0.822 1) translate(-150.90 -186.37)">K</text>
<text x="158.35" y="186.37" font-size="9.6" text-anchor="middle" fill="#ff4646" font-family="Liberation Serif, serif" transform="translate(158.35 186.37) scale(0.822 1) translate(-158.35 -186.37)">G</text>
<text x="165.80" y="186.37" font-size="9.6" text-anchor="middle" fill="#555" font-family="Liberation Serif, serif" transform="translate(165.80 186.37) scale(0.822 1) translate(-165.80 -186.37)">K</text>
<text x="173.25" y="186.37" font-size="9.6" text-anchor="middle" fill="#ff4646" font-family="Liberation Serif, serif" transform="translate(173.25 186.37) scale(0.822 1) translate(-173.25 -186.37)">G</text>
<text x="180.70" y="186.37" font-size="9.6" text-anchor="middle" fill="#555" font-family="Liberation Serif, serif">P</text>
<text x="76.40" y="197.21" font-size="9.6" text-anchor="middle" fill="#555" font-family="Liberation Serif, serif">P</text>
<text x="83.85" y="197.21" font-size="9.6" text-anchor="middle" fill="#ff4646" font-family="Liberation Serif, serif">I</text>
<text x="91.30" y="197.21" font-size="9.6" text-anchor="middle" fill="#555" font-family="Liberation Serif, serif">F</text>
<text x="98.75" y="197.21" font-size="9.6" text-anchor="middle" fill="#555" font-family="Liberation Serif, serif" transform="translate(98.75 197.21) scale(0.822 1) translate(-98.75 -197.21)">V</text>
<text x="106.20" y="197.21" font-size="9.6" text-anchor="middle" fill="#555" font-family="Liberation Serif, serif">P</text>
<text x="113.65" y="197.21" font-size="9.6" text-anchor="middle" fill="#555" font-family="Liberation Serif, serif">P</text>
<text x="121.10" y="197.21" font-size="9.2" text-anchor="middle" fill="#fff" font-weight="bold" font-family="Liberation Sans, sans-serif">S</text>
<text x="128.55" y="197.21" font-size="9.6" text-anchor="middle" fill="#555" font-family="Liberation Serif, serif" transform="translate(128.55 197.21) scale(0.972 1) translate(-128.55 -197.21)">T</text>
<text x="136.00" y="197.21" font-size="9.2" text-anchor="middle" fill="#fff" font-weight="bold" font-family="Liberation Sans, sans-serif">S</text>
<text x="143.45" y="197.21" font-size="9.6" text-anchor="middle" fill="#555" font-family="Liberation Serif, serif" transform="translate(143.45 197.21) scale(0.822 1) translate(-143.45 -197.21)">H</text>
<text x="150.90" y="197.21" font-size="9.6" text-anchor="middle" fill="#555" font-family="Liberation Serif, serif" transform="translate(150.90 197.21) scale(0.822 1) translate(-150.90 -197.21)">K</text>
<text x="158.35" y="197.21" font-size="9.6" text-anchor="middle" fill="#ff4646" font-family="Liberation Serif, serif" transform="translate(158.35 197.21) scale(0.822 1) translate(-158.35 -197.21)">G</text>
<text x="165.80" y="197.21" font-size="9.6" text-anchor="middle" fill="#555" font-family="Liberation Serif, serif" transform="translate(165.80 197.21) scale(0.822 1) translate(-165.80 -197.21)">Q</text>
<text x="173.25" y="197.21" font-size="9.6" text-anchor="middle" fill="#ff4646" font-family="Liberation Serif, serif" transform="translate(173.25 197.21) scale(0.822 1) translate(-173.25 -197.21)">G</text>
<text x="180.70" y="197.21" font-size="9.6" text-anchor="middle" fill="#555" font-family="Liberation Serif, serif">P</text>
<text x="76.40" y="208.05" font-size="9.6" text-anchor="middle" fill="#555" font-family="Liberation Serif, serif" transform="translate(76.40 208.05) scale(0.822 1) translate(-76.40 -208.05)">A</text>
<text x="83.85" y="208.05" font-size="9.6" text-anchor="middle" fill="#ff4646" font-family="Liberation Serif, serif" transform="translate(83.85 208.05) scale(0.822 1) translate(-83.85 -208.05)">V</text>
<text x="91.30" y="208.05" font-size="9.6" text-anchor="middle" fill="#555" font-family="Liberation Serif, serif" transform="translate(91.30 208.05) scale(0.972 1) translate(-91.30 -208.05)">T</text>
<text x="98.75" y="208.05" font-size="9.6" text-anchor="middle" fill="#555" font-family="Liberation Serif, serif" transform="translate(98.75 208.05) scale(0.972 1) translate(-98.75 -208.05)">T</text>
<text x="106.20" y="208.05" font-size="9.6" text-anchor="middle" fill="#555" font-family="Liberation Serif, serif" transform="translate(106.20 208.05) scale(0.890 1) translate(-106.20 -208.05)">R</text>
<text x="113.65" y="208.05" font-size="9.6" text-anchor="middle" fill="#555" font-family="Liberation Serif, serif" transform="translate(113.65 208.05) scale(0.822 1) translate(-113.65 -208.05)">Y</text>
<text x="121.10" y="208.05" font-size="9.2" text-anchor="middle" fill="#fff" font-weight="bold" font-family="Liberation Sans, sans-serif">S</text>
<text x="128.55" y="208.05" font-size="9.6" text-anchor="middle" fill="#555" font-family="Liberation Serif, serif" transform="translate(128.55 208.05) scale(0.822 1) translate(-128.55 -208.05)">D</text>
<text x="136.00" y="208.05" font-size="9.2" text-anchor="middle" fill="#fff" font-weight="bold" font-family="Liberation Sans, sans-serif">S</text>
<text x="143.45" y="208.05" font-size="9.6" text-anchor="middle" fill="#555" font-family="Liberation Serif, serif">P</text>
<text x="150.90" y="208.05" font-size="9.6" text-anchor="middle" fill="#555" font-family="Liberation Serif, serif" transform="translate(150.90 208.05) scale(0.890 1) translate(-150.90 -208.05)">R</text>
<text x="158.35" y="208.05" font-size="9.6" text-anchor="middle" fill="#555" font-family="Liberation Serif, serif" transform="translate(158.35 208.05) scale(0.890 1) translate(-158.35 -208.05)">C</text>
<text x="165.80" y="208.05" font-size="9.6" text-anchor="middle" fill="#555" font-family="Liberation Serif, serif" transform="translate(165.80 208.05) scale(0.822 1) translate(-165.80 -208.05)">A</text>
<text x="173.25" y="208.05" font-size="9.6" text-anchor="middle" fill="#555" font-family="Liberation Serif, serif" transform="translate(173.25 208.05) scale(0.822 1) translate(-173.25 -208.05)">N</text>
<text x="180.70" y="208.05" font-size="9.6" text-anchor="middle" fill="#555" font-family="Liberation Serif, serif" transform="translate(180.70 208.05) scale(0.822 1) translate(-180.70 -208.05)">G</text>
<text x="76.40" y="218.88" font-size="9.6" text-anchor="middle" fill="#555" font-family="Liberation Serif, serif">P</text>
<text x="83.85" y="218.88" font-size="9.6" text-anchor="middle" fill="#555" font-family="Liberation Serif, serif" transform="translate(83.85 218.88) scale(0.890 1) translate(-83.85 -218.88)">R</text>
<text x="91.30" y="218.88" font-size="9.6" text-anchor="middle" fill="#555" font-family="Liberation Serif, serif" transform="translate(91.30 218.88) scale(0.822 1) translate(-91.30 -218.88)">V</text>
<text x="98.75" y="218.88" font-size="9.6" text-anchor="middle" fill="#555" font-family="Liberation Serif, serif" transform="translate(98.75 218.88) scale(0.822 1) translate(-98.75 -218.88)">A</text>
<text x="106.20" y="218.88" font-size="9.6" text-anchor="middle" fill="#555" font-family="Liberation Serif, serif" transform="translate(106.20 218.88) scale(0.822 1) translate(-106.20 -218.88)">V</text>
<text x="113.65" y="218.88" font-size="9.6" text-anchor="middle" fill="#555" font-family="Liberation Serif, serif" transform="translate(113.65 218.88) scale(0.822 1) translate(-113.65 -218.88)">H</text>
<text x="121.10" y="218.88" font-size="9.2" text-anchor="middle" fill="#fff" font-weight="bold" font-family="Liberation Sans, sans-serif">S</text>
<text x="128.55" y="218.88" font-size="9.6" text-anchor="middle" fill="#555" font-family="Liberation Serif, serif" transform="translate(128.55 218.88) scale(0.822 1) translate(-128.55 -218.88)">N</text>
<text x="136.00" y="218.88" font-size="9.2" text-anchor="middle" fill="#fff" font-weight="bold" font-family="Liberation Sans, sans-serif">S</text>
<text x="143.45" y="218.88" font-size="9.6" text-anchor="middle" fill="#555" font-family="Liberation Serif, serif" transform="translate(143.45 218.88) scale(0.972 1) translate(-143.45 -218.88)">T</text>
<text x="150.90" y="218.88" font-size="9.6" text-anchor="middle" fill="#555" font-family="Liberation Serif, serif" transform="translate(150.90 218.88) scale(0.822 1) translate(-150.90 -218.88)">K</text>
<text x="158.35" y="218.88" font-size="9.6" text-anchor="middle" fill="#ff4646" font-family="Liberation Serif, serif" transform="translate(158.35 218.88) scale(0.822 1) translate(-158.35 -218.88)">G</text>
<text x="165.80" y="218.88" font-size="9.6" text-anchor="middle" fill="#555" font-family="Liberation Serif, serif" transform="translate(165.80 218.88) scale(0.822 1) translate(-165.80 -218.88)">K</text>
<text x="173.25" y="218.88" font-size="9.6" text-anchor="middle" fill="#ff4646" font-family="Liberation Serif, serif" transform="translate(173.25 218.88) scale(0.822 1) translate(-173.25 -218.88)">G</text>
<text x="180.70" y="218.88" font-size="9.6" text-anchor="middle" fill="#555" font-family="Liberation Serif, serif">P</text>
<text x="76.40" y="229.72" font-size="9.6" text-anchor="middle" fill="#555" font-family="Liberation Serif, serif" transform="translate(76.40 229.72) scale(0.890 1) translate(-76.40 -229.72)">R</text>
<text x="83.85" y="229.72" font-size="9.6" text-anchor="middle" fill="#555" font-family="Liberation Serif, serif">F</text>
<text x="91.30" y="229.72" font-size="9.6" text-anchor="middle" fill="#555" font-family="Liberation Serif, serif" transform="translate(91.30 229.72) scale(0.822 1) translate(-91.30 -229.72)">Y</text>
<text x="98.75" y="229.72" font-size="9.6" text-anchor="middle" fill="#555" font-family="Liberation Serif, serif" transform="translate(98.75 229.72) scale(0.822 1) translate(-98.75 -229.72)">V</text>
<text x="106.20" y="229.72" font-size="9.6" text-anchor="middle" fill="#555" font-family="Liberation Serif, serif">P</text>
<text x="113.65" y="229.72" font-size="9.6" text-anchor="middle" fill="#555" font-family="Liberation Serif, serif">P</text>
<text x="121.10" y="229.72" font-size="9.2" text-anchor="middle" fill="#fff" font-weight="bold" font-family="Liberation Sans, sans-serif">S</text>
<text x="128.55" y="229.72" font-size="9.6" text-anchor="middle" fill="#555" font-family="Liberation Serif, serif" transform="translate(128.55 229.72) scale(0.822 1) translate(-128.55 -229.72)">K</text>
<text x="136.00" y="229.72" font-size="9.2" text-anchor="middle" fill="#fff" font-weight="bold" font-family="Liberation Sans, sans-serif">S</text>
<text x="143.45" y="229.72" font-size="9.6" text-anchor="middle" fill="#555" font-family="Liberation Serif, serif" transform="translate(143.45 229.72) scale(0.890 1) translate(-143.45 -229.72)">R</text>
<text x="150.90" y="229.72" font-size="9.6" text-anchor="middle" fill="#555" font-family="Liberation Serif, serif" transform="translate(150.90 229.72) scale(0.890 1) translate(-150.90 -229.72)">R</text>
<text x="158.35" y="229.72" font-size="9.6" text-anchor="middle" fill="#ff4646" font-family="Liberation Serif, serif" transform="translate(158.35 229.72) scale(0.822 1) translate(-158.35 -229.72)">G</text>
<text x="165.80" y="229.72" font-size="9.6" text-anchor="middle" fill="#555" font-family="Liberation Serif, serif" transform="translate(165.80 229.72) scale(0.822 1) translate(-165.80 -229.72)">K</text>
<text x="173.25" y="229.72" font-size="9.6" text-anchor="middle" fill="#ff4646" font-family="Liberation Serif, serif" transform="translate(173.25 229.72) scale(0.822 1) translate(-173.25 -229.72)">G</text>
<text x="180.70" y="229.72" font-size="9.6" text-anchor="middle" fill="#555" font-family="Liberation Serif, serif">P</text>
<text x="76.40" y="240.56" font-size="9.6" text-anchor="middle" fill="#555" font-family="Liberation Serif, serif" transform="translate(76.40 240.56) scale(0.822 1) translate(-76.40 -240.56)">K</text>
<text x="83.85" y="240.56" font-size="9.6" text-anchor="middle" fill="#555" font-family="Liberation Serif, serif" transform="translate(83.85 240.56) scale(0.822 1) translate(-83.85 -240.56)">A</text>
<text x="91.30" y="240.56" font-size="9.6" text-anchor="middle" fill="#555" font-family="Liberation Serif, serif" transform="translate(91.30 240.56) scale(0.890 1) translate(-91.30 -240.56)">R</text>
<text x="98.75" y="240.56" font-size="9.6" text-anchor="middle" fill="#555" font-family="Liberation Serif, serif" transform="translate(98.75 240.56) scale(0.822 1) translate(-98.75 -240.56)">V</text>
<text x="106.20" y="240.56" font-size="9.6" text-anchor="middle" fill="#555" font-family="Liberation Serif, serif" transform="translate(106.20 240.56) scale(0.822 1) translate(-106.20 -240.56)">K</text>
<text x="113.65" y="240.56" font-size="9.6" text-anchor="middle" fill="#555" font-family="Liberation Serif, serif" transform="translate(113.65 240.56) scale(0.890 1) translate(-113.65 -240.56)">R</text>
<text x="121.10" y="240.56" font-size="9.2" text-anchor="middle" fill="#fff" font-weight="bold" font-family="Liberation Sans, sans-serif">S</text>
<text x="128.55" y="240.56" font-size="9.6" text-anchor="middle" fill="#555" font-family="Liberation Serif, serif" transform="translate(128.55 240.56) scale(0.822 1) translate(-128.55 -240.56)">K</text>
<text x="136.00" y="240.56" font-size="9.2" text-anchor="middle" fill="#fff" font-weight="bold" font-family="Liberation Sans, sans-serif">S</text>
<text x="143.45" y="240.56" font-size="9.6" text-anchor="middle" fill="#555" font-family="Liberation Serif, serif" transform="translate(143.45 240.56) scale(0.822 1) translate(-143.45 -240.56)">K</text>
<text x="150.90" y="240.56" font-size="9.6" text-anchor="middle" fill="#555" font-family="Liberation Serif, serif" transform="translate(150.90 240.56) scale(0.890 1) translate(-150.90 -240.56)">R</text>
<text x="158.35" y="240.56" font-size="9.6" text-anchor="middle" fill="#ff4646" font-family="Liberation Serif, serif" transform="translate(158.35 240.56) scale(0.822 1) translate(-158.35 -240.56)">G</text>
<text x="165.80" y="240.56" font-size="9.6" text-anchor="middle" fill="#555" font-family="Liberation Serif, serif">P</text>
<text x="173.25" y="240.56" font-size="9.6" text-anchor="middle" fill="#555" font-family="Liberation Serif, serif" transform="translate(173.25 240.56) scale(0.822 1) translate(-173.25 -240.56)">Q</text>
<text x="180.70" y="240.56" font-size="9.6" text-anchor="middle" fill="#555" font-family="Liberation Serif, serif" transform="translate(180.70 240.56) scale(0.822 1) translate(-180.70 -240.56)">K</text>
<text x="76.40" y="251.40" font-size="9.6" text-anchor="middle" fill="#555" font-family="Liberation Serif, serif" transform="translate(76.40 251.40) scale(0.822 1) translate(-76.40 -251.40)">K</text>
<text x="83.85" y="251.40" font-size="9.6" text-anchor="middle" fill="#555" font-family="Liberation Serif, serif" transform="translate(83.85 251.40) scale(0.822 1) translate(-83.85 -251.40)">A</text>
<text x="91.30" y="251.40" font-size="9.6" text-anchor="middle" fill="#555" font-family="Liberation Serif, serif" transform="translate(91.30 251.40) scale(0.972 1) translate(-91.30 -251.40)">E</text>
<text x="98.75" y="251.40" font-size="9.6" text-anchor="middle" fill="#555" font-family="Liberation Serif, serif" transform="translate(98.75 251.40) scale(0.822 1) translate(-98.75 -251.40)">V</text>
<text x="106.20" y="251.40" font-size="9.6" text-anchor="middle" fill="#555" font-family="Liberation Serif, serif" transform="translate(106.20 251.40) scale(0.822 1) translate(-106.20 -251.40)">G</text>
<text x="113.65" y="251.40" font-size="9.6" text-anchor="middle" fill="#555" font-family="Liberation Serif, serif" transform="translate(113.65 251.40) scale(0.822 1) translate(-113.65 -251.40)">G</text>
<text x="121.10" y="251.40" font-size="9.2" text-anchor="middle" fill="#fff" font-weight="bold" font-family="Liberation Sans, sans-serif">S</text>
<text x="128.55" y="251.40" font-size="9.6" text-anchor="middle" fill="#555" font-family="Liberation Serif, serif" transform="translate(128.55 251.40) scale(0.890 1) translate(-128.55 -251.40)">C</text>
<text x="136.00" y="251.40" font-size="9.2" text-anchor="middle" fill="#fff" font-weight="bold" font-family="Liberation Sans, sans-serif">S</text>
<text x="143.45" y="251.40" font-size="9.6" text-anchor="middle" fill="#555" font-family="Liberation Serif, serif">P</text>
<text x="150.90" y="251.40" font-size="9.6" text-anchor="middle" fill="#555" font-family="Liberation Serif, serif" transform="translate(150.90 251.40) scale(0.822 1) translate(-150.90 -251.40)">H</text>
<text x="158.35" y="251.40" font-size="9.6" text-anchor="middle" fill="#555" font-family="Liberation Serif, serif" transform="translate(158.35 251.40) scale(0.822 1) translate(-158.35 -251.40)">A</text>
<text x="165.80" y="251.40" font-size="9.6" text-anchor="middle" fill="#555" font-family="Liberation Serif, serif" transform="translate(165.80 251.40) scale(0.822 1) translate(-165.80 -251.40)">H</text>
<text x="173.25" y="251.40" font-size="9.6" text-anchor="middle" fill="#ff4646" font-family="Liberation Serif, serif" transform="translate(173.25 251.40) scale(0.822 1) translate(-173.25 -251.40)">G</text>
<text x="180.70" y="251.40" font-size="9.6" text-anchor="middle" fill="#555" font-family="Liberation Serif, serif" transform="translate(180.70 251.40) scale(0.890 1) translate(-180.70 -251.40)">R</text>
<text x="76.40" y="262.24" font-size="9.6" text-anchor="middle" fill="#555" font-family="Liberation Serif, serif" transform="translate(76.40 262.24) scale(0.822 1) translate(-76.40 -262.24)">K</text>
<text x="83.85" y="262.24" font-size="9.6" text-anchor="middle" fill="#ff4646" font-family="Liberation Serif, serif">I</text>
<text x="91.30" y="262.24" font-size="9.6" text-anchor="middle" fill="#555" font-family="Liberation Serif, serif" transform="translate(91.30 262.24) scale(0.972 1) translate(-91.30 -262.24)">E</text>
<text x="98.75" y="262.24" font-size="9.6" text-anchor="middle" fill="#555" font-family="Liberation Serif, serif" transform="translate(98.75 262.24) scale(0.822 1) translate(-98.75 -262.24)">V</text>
<text x="106.20" y="262.24" font-size="9.6" text-anchor="middle" fill="#555" font-family="Liberation Serif, serif" transform="translate(106.20 262.24) scale(0.822 1) translate(-106.20 -262.24)">D</text>
<text x="113.65" y="262.24" font-size="9.6" text-anchor="middle" fill="#555" font-family="Liberation Serif, serif" transform="translate(113.65 262.24) scale(0.822 1) translate(-113.65 -262.24)">G</text>
<text x="121.10" y="262.24" font-size="9.2" text-anchor="middle" fill="#fff" font-weight="bold" font-family="Liberation Sans, sans-serif">S</text>
<text x="128.55" y="262.24" font-size="9.6" text-anchor="middle" fill="#555" font-family="Liberation Serif, serif" transform="translate(128.55 262.24) scale(0.890 1) translate(-128.55 -262.24)">C</text>
<text x="136.00" y="262.24" font-size="9.2" text-anchor="middle" fill="#fff" font-weight="bold" font-family="Liberation Sans, sans-serif">S</text>
<text x="143.45" y="262.24" font-size="9.6" text-anchor="middle" fill="#555" font-family="Liberation Serif, serif" transform="translate(143.45 262.24) scale(0.890 1) translate(-143.45 -262.24)">R</text>
<text x="150.90" y="262.24" font-size="9.6" text-anchor="middle" fill="#555" font-family="Liberation Serif, serif" transform="translate(150.90 262.24) scale(0.890 1) translate(-150.90 -262.24)">R</text>
<text x="158.35" y="262.24" font-size="9.6" text-anchor="middle" fill="#555" font-family="Liberation Serif, serif" transform="translate(158.35 262.24) scale(0.822 1) translate(-158.35 -262.24)">A</text>
<text x="165.80" y="262.24" font-size="9.6" text-anchor="middle" fill="#555" font-family="Liberation Serif, serif">P</text>
<text x="173.25" y="262.24" font-size="9.6" text-anchor="middle" fill="#ff4646" font-family="Liberation Serif, serif" transform="translate(173.25 262.24) scale(0.822 1) translate(-173.25 -262.24)">G</text>
<text x="180.70" y="262.24" font-size="9.6" text-anchor="middle" fill="#555" font-family="Liberation Serif, serif" transform="translate(180.70 262.24) scale(0.890 1) translate(-180.70 -262.24)">R</text>
<text x="76.40" y="273.07" font-size="9.6" text-anchor="middle" fill="#555" font-family="Liberation Serif, serif" transform="translate(76.40 273.07) scale(0.822 1) translate(-76.40 -273.07)">K</text>
<text x="83.85" y="273.07" font-size="9.6" text-anchor="middle" fill="#ff4646" font-family="Liberation Serif, serif">I</text>
<text x="91.30" y="273.07" font-size="9.6" text-anchor="middle" fill="#555" font-family="Liberation Serif, serif" transform="translate(91.30 273.07) scale(0.822 1) translate(-91.30 -273.07)">G</text>
<text x="98.75" y="273.07" font-size="9.6" text-anchor="middle" fill="#555" font-family="Liberation Serif, serif" transform="translate(98.75 273.07) scale(0.822 1) translate(-98.75 -273.07)">A</text>
<text x="106.20" y="273.07" font-size="9.6" text-anchor="middle" fill="#555" font-family="Liberation Serif, serif">S</text>
<text x="113.65" y="273.07" font-size="9.6" text-anchor="middle" fill="#555" font-family="Liberation Serif, serif" transform="translate(113.65 273.07) scale(0.822 1) translate(-113.65 -273.07)">G</text>
<text x="121.10" y="273.07" font-size="9.2" text-anchor="middle" fill="#fff" font-weight="bold" font-family="Liberation Sans, sans-serif">S</text>
<text x="128.55" y="273.07" font-size="9.6" text-anchor="middle" fill="#555" font-family="Liberation Serif, serif" transform="translate(128.55 273.07) scale(0.822 1) translate(-128.55 -273.07)">N</text>
<text x="136.00" y="273.07" font-size="9.2" text-anchor="middle" fill="#fff" font-weight="bold" font-family="Liberation Sans, sans-serif">S</text>
<text x="143.45" y="273.07" font-size="9.6" text-anchor="middle" fill="#555" font-family="Liberation Serif, serif" transform="translate(143.45 273.07) scale(0.822 1) translate(-143.45 -273.07)">G</text>
<text x="150.90" y="273.07" font-size="9.6" text-anchor="middle" fill="#555" font-family="Liberation Serif, serif" transform="translate(150.90 273.07) scale(0.890 1) translate(-150.90 -273.07)">R</text>
<text x="158.35" y="273.07" font-size="9.6" text-anchor="middle" fill="#555" font-family="Liberation Serif, serif" transform="translate(158.35 273.07) scale(0.822 1) translate(-158.35 -273.07)">A</text>
<text x="165.80" y="273.07" font-size="9.6" text-anchor="middle" fill="#555" font-family="Liberation Serif, serif">P</text>
<text x="173.25" y="273.07" font-size="9.6" text-anchor="middle" fill="#555" font-family="Liberation Serif, serif">S</text>
<text x="180.70" y="273.07" font-size="9.6" text-anchor="middle" fill="#555" font-family="Liberation Serif, serif" transform="translate(180.70 273.07) scale(0.890 1) translate(-180.70 -273.07)">C</text>
<text x="76.40" y="283.91" font-size="9.6" text-anchor="middle" fill="#555" font-family="Liberation Serif, serif" transform="translate(76.40 283.91) scale(0.822 1) translate(-76.40 -283.91)">K</text>
<text x="83.85" y="283.91" font-size="9.6" text-anchor="middle" fill="#ff4646" font-family="Liberation Serif, serif" transform="translate(83.85 283.91) scale(0.822 1) translate(-83.85 -283.91)">V</text>
<text x="91.30" y="283.91" font-size="9.6" text-anchor="middle" fill="#555" font-family="Liberation Serif, serif" transform="translate(91.30 283.91) scale(0.890 1) translate(-91.30 -283.91)">R</text>
<text x="98.75" y="283.91" font-size="9.6" text-anchor="middle" fill="#555" font-family="Liberation Serif, serif" transform="translate(98.75 283.91) scale(0.822 1) translate(-98.75 -283.91)">V</text>
<text x="106.20" y="283.91" font-size="9.6" text-anchor="middle" fill="#555" font-family="Liberation Serif, serif" transform="translate(106.20 283.91) scale(0.972 1) translate(-106.20 -283.91)">L</text>
<text x="113.65" y="283.91" font-size="9.6" text-anchor="middle" fill="#555" font-family="Liberation Serif, serif">P</text>
<text x="121.10" y="283.91" font-size="9.2" text-anchor="middle" fill="#fff" font-weight="bold" font-family="Liberation Sans, sans-serif">S</text>
<text x="128.55" y="283.91" font-size="9.6" text-anchor="middle" fill="#555" font-family="Liberation Serif, serif" transform="translate(128.55 283.91) scale(0.822 1) translate(-128.55 -283.91)">A</text>
<text x="136.00" y="283.91" font-size="9.2" text-anchor="middle" fill="#fff" font-weight="bold" font-family="Liberation Sans, sans-serif">S</text>
<text x="143.45" y="283.91" font-size="9.6" text-anchor="middle" fill="#555" font-family="Liberation Serif, serif" transform="translate(143.45 283.91) scale(0.890 1) translate(-143.45 -283.91)">R</text>
<text x="150.90" y="283.91" font-size="9.6" text-anchor="middle" fill="#555" font-family="Liberation Serif, serif" transform="translate(150.90 283.91) scale(0.890 1) translate(-150.90 -283.91)">R</text>
<text x="158.35" y="283.91" font-size="9.6" text-anchor="middle" fill="#ff4646" font-family="Liberation Serif, serif" transform="translate(158.35 283.91) scale(0.822 1) translate(-158.35 -283.91)">G</text>
<text x="165.80" y="283.91" font-size="9.6" text-anchor="middle" fill="#555" font-family="Liberation Serif, serif">P</text>
<text x="173.25" y="283.91" font-size="9.6" text-anchor="middle" fill="#ff4646" font-family="Liberation Serif, serif" transform="translate(173.25 283.91) scale(0.822 1) translate(-173.25 -283.91)">G</text>
<text x="180.70" y="283.91" font-size="9.6" text-anchor="middle" fill="#555" font-family="Liberation Serif, serif" transform="translate(180.70 283.91) scale(0.822 1) translate(-180.70 -283.91)">Q</text>
<text x="76.40" y="294.75" font-size="9.6" text-anchor="middle" fill="#555" font-family="Liberation Serif, serif" transform="translate(76.40 294.75) scale(0.822 1) translate(-76.40 -294.75)">K</text>
<text x="83.85" y="294.75" font-size="9.6" text-anchor="middle" fill="#ff4646" font-family="Liberation Serif, serif">I</text>
<text x="91.30" y="294.75" font-size="9.6" text-anchor="middle" fill="#555" font-family="Liberation Serif, serif" transform="translate(91.30 294.75) scale(0.822 1) translate(-91.30 -294.75)">G</text>
<text x="98.75" y="294.75" font-size="9.6" text-anchor="middle" fill="#555" font-family="Liberation Serif, serif" transform="translate(98.75 294.75) scale(0.822 1) translate(-98.75 -294.75)">V</text>
<text x="106.20" y="294.75" font-size="9.6" text-anchor="middle" fill="#555" font-family="Liberation Serif, serif" transform="translate(106.20 294.75) scale(0.822 1) translate(-106.20 -294.75)">G</text>
<text x="113.65" y="294.75" font-size="9.6" text-anchor="middle" fill="#555" font-family="Liberation Serif, serif" transform="translate(113.65 294.75) scale(0.822 1) translate(-113.65 -294.75)">A</text>
<text x="121.10" y="294.75" font-size="9.2" text-anchor="middle" fill="#fff" font-weight="bold" font-family="Liberation Sans, sans-serif">S</text>
<text x="128.55" y="294.75" font-size="9.6" text-anchor="middle" fill="#555" font-family="Liberation Serif, serif" transform="translate(128.55 294.75) scale(0.822 1) translate(-128.55 -294.75)">N</text>
<text x="136.00" y="294.75" font-size="9.2" text-anchor="middle" fill="#fff" font-weight="bold" font-family="Liberation Sans, sans-serif">S</text>
<text x="143.45" y="294.75" font-size="9.6" text-anchor="middle" fill="#555" font-family="Liberation Serif, serif" transform="translate(143.45 294.75) scale(0.822 1) translate(-143.45 -294.75)">G</text>
<text x="150.90" y="294.75" font-size="9.6" text-anchor="middle" fill="#555" font-family="Liberation Serif, serif" transform="translate(150.90 294.75) scale(0.822 1) translate(-150.90 -294.75)">H</text>
<text x="158.35" y="294.75" font-size="9.6" text-anchor="middle" fill="#555" font-family="Liberation Serif, serif">S</text>
<text x="165.80" y="294.75" font-size="9.6" text-anchor="middle" fill="#555" font-family="Liberation Serif, serif">P</text>
<text x="173.25" y="294.75" font-size="9.6" text-anchor="middle" fill="#ff4646" font-family="Liberation Serif, serif" transform="translate(173.25 294.75) scale(0.822 1) translate(-173.25 -294.75)">G</text>
<text x="180.70" y="294.75" font-size="9.6" text-anchor="middle" fill="#555" font-family="Liberation Serif, serif" transform="translate(180.70 294.75) scale(0.822 1) translate(-180.70 -294.75)">A</text>
<text x="76.40" y="305.59" font-size="9.6" text-anchor="middle" fill="#555" font-family="Liberation Serif, serif" transform="translate(76.40 305.59) scale(0.822 1) translate(-76.40 -305.59)">K</text>
<text x="83.85" y="305.59" font-size="9.6" text-anchor="middle" fill="#ff4646" font-family="Liberation Serif, serif">I</text>
<text x="91.30" y="305.59" font-size="9.6" text-anchor="middle" fill="#555" font-family="Liberation Serif, serif" transform="translate(91.30 305.59) scale(0.822 1) translate(-91.30 -305.59)">A</text>
<text x="98.75" y="305.59" font-size="9.6" text-anchor="middle" fill="#555" font-family="Liberation Serif, serif" transform="translate(98.75 305.59) scale(0.822 1) translate(-98.75 -305.59)">V</text>
<text x="106.20" y="305.59" font-size="9.6" text-anchor="middle" fill="#555" font-family="Liberation Serif, serif" transform="translate(106.20 305.59) scale(0.822 1) translate(-106.20 -305.59)">G</text>
<text x="113.65" y="305.59" font-size="9.6" text-anchor="middle" fill="#555" font-family="Liberation Serif, serif" transform="translate(113.65 305.59) scale(0.822 1) translate(-113.65 -305.59)">G</text>
<text x="121.10" y="305.59" font-size="9.2" text-anchor="middle" fill="#fff" font-weight="bold" font-family="Liberation Sans, sans-serif">S</text>
<text x="128.55" y="305.59" font-size="9.6" text-anchor="middle" fill="#555" font-family="Liberation Serif, serif" transform="translate(128.55 305.59) scale(0.822 1) translate(-128.55 -305.59)">D</text>
<text x="136.00" y="305.59" font-size="9.2" text-anchor="middle" fill="#fff" font-weight="bold" font-family="Liberation Sans, sans-serif">S</text>
<text x="143.45" y="305.59" font-size="9.6" text-anchor="middle" fill="#555" font-family="Liberation Serif, serif" transform="translate(143.45 305.59) scale(0.822 1) translate(-143.45 -305.59)">V</text>
<text x="150.90" y="305.59" font-size="9.6" text-anchor="middle" fill="#555" font-family="Liberation Serif, serif" transform="translate(150.90 305.59) scale(0.890 1) translate(-150.90 -305.59)">R</text>
<text x="158.35" y="305.59" font-size="9.6" text-anchor="middle" fill="#555" font-family="Liberation Serif, serif" transform="translate(158.35 305.59) scale(0.822 1) translate(-158.35 -305.59)">A</text>
<text x="165.80" y="305.59" font-size="9.6" text-anchor="middle" fill="#555" font-family="Liberation Serif, serif" transform="translate(165.80 305.59) scale(0.822 1) translate(-165.80 -305.59)">H</text>
<text x="173.25" y="305.59" font-size="9.6" text-anchor="middle" fill="#555" font-family="Liberation Serif, serif">S</text>
<text x="180.70" y="305.59" font-size="9.6" text-anchor="middle" fill="#555" font-family="Liberation Serif, serif" transform="translate(180.70 305.59) scale(0.822 1) translate(-180.70 -305.59)">K</text>
<text x="76.40" y="316.43" font-size="9.6" text-anchor="middle" fill="#555" font-family="Liberation Serif, serif">I</text>
<text x="83.85" y="316.43" font-size="9.6" text-anchor="middle" fill="#ff4646" font-family="Liberation Serif, serif" transform="translate(83.85 316.43) scale(0.822 1) translate(-83.85 -316.43)">V</text>
<text x="91.30" y="316.43" font-size="9.6" text-anchor="middle" fill="#555" font-family="Liberation Serif, serif">F</text>
<text x="98.75" y="316.43" font-size="9.6" text-anchor="middle" fill="#555" font-family="Liberation Serif, serif" transform="translate(98.75 316.43) scale(0.972 1) translate(-98.75 -316.43)">T</text>
<text x="106.20" y="316.43" font-size="9.6" text-anchor="middle" fill="#555" font-family="Liberation Serif, serif">P</text>
<text x="113.65" y="316.43" font-size="9.6" text-anchor="middle" fill="#555" font-family="Liberation Serif, serif">P</text>
<text x="121.10" y="316.43" font-size="9.2" text-anchor="middle" fill="#fff" font-weight="bold" font-family="Liberation Sans, sans-serif">S</text>
<text x="128.55" y="316.43" font-size="9.6" text-anchor="middle" fill="#555" font-family="Liberation Serif, serif">S</text>
<text x="136.00" y="316.43" font-size="9.2" text-anchor="middle" fill="#fff" font-weight="bold" font-family="Liberation Sans, sans-serif">S</text>
<text x="143.45" y="316.43" font-size="9.6" text-anchor="middle" fill="#555" font-family="Liberation Serif, serif" transform="translate(143.45 316.43) scale(0.890 1) translate(-143.45 -316.43)">C</text>
<text x="150.90" y="316.43" font-size="9.6" text-anchor="middle" fill="#555" font-family="Liberation Serif, serif">.</text>
<text x="158.35" y="316.43" font-size="9.6" text-anchor="middle" fill="#ff4646" font-family="Liberation Serif, serif" transform="translate(158.35 316.43) scale(0.822 1) translate(-158.35 -316.43)">G</text>
<text x="165.80" y="316.43" font-size="9.6" text-anchor="middle" fill="#555" font-family="Liberation Serif, serif" transform="translate(165.80 316.43) scale(0.822 1) translate(-165.80 -316.43)">G</text>
<text x="173.25" y="316.43" font-size="9.6" text-anchor="middle" fill="#555" font-family="Liberation Serif, serif">S</text>
<text x="180.70" y="316.43" font-size="9.6" text-anchor="middle" fill="#555" font-family="Liberation Serif, serif">P</text>
<text x="77.00" y="12.40" font-size="9" text-anchor="middle">1</text>
<text x="150.50" y="12.40" font-size="9" text-anchor="middle">10</text>
<text x="7.50" y="339.30" font-size="10.3">Consensus</text>
<line x1="72.60" y1="319.50" x2="72.60" y2="340.20" stroke="#333" stroke-width="0.6"/>
<line x1="71.00" y1="322.00" x2="72.60" y2="322.00" stroke="#333" stroke-width="0.5"/>
<line x1="71.00" y1="328.50" x2="72.60" y2="328.50" stroke="#333" stroke-width="0.5"/>
<line x1="71.00" y1="334.50" x2="72.60" y2="334.50" stroke="#333" stroke-width="0.5"/>
<line x1="71.00" y1="340.00" x2="72.60" y2="340.00" stroke="#333" stroke-width="0.5"/>
<text x="69.50" y="330.00" font-size="3.5" text-anchor="middle" fill="#555" transform="rotate(-90 69.50 330.00)">bits</text>
<line x1="72.60" y1="337.60" x2="186.00" y2="337.60" stroke="#6a6aff" stroke-width="0.8" stroke-dasharray="5 2"/>
<text x="116.60" y="339.60" font-size="28.06" font-weight="bold" fill="#00cc00" textLength="7.80" lengthAdjust="spacingAndGlyphs">S</text>
<text x="131.60" y="339.90" font-size="28.89" font-weight="bold" fill="#00cc00" textLength="8.40" lengthAdjust="spacingAndGlyphs">S</text>
<text x="82.60" y="336.00" font-size="6.67" font-weight="bold" fill="#111" textLength="3.00" lengthAdjust="spacingAndGlyphs">I</text>
<line x1="80.50" y1="336.60" x2="87.50" y2="336.60" stroke="#111" stroke-width="1.0"/>
<text x="95.80" y="336.30" font-size="7.36" font-weight="bold" fill="#111" textLength="6.20" lengthAdjust="spacingAndGlyphs">X</text>
<line x1="94.00" y1="334.50" x2="103.00" y2="334.50" stroke="#20cc20" stroke-width="1.4" opacity="0.7"/>
<text x="103.50" y="337.20" font-size="4.44" font-weight="bold" fill="#2233aa" textLength="5.50" lengthAdjust="spacingAndGlyphs">A</text>
<text x="110.00" y="335.00" font-size="4.17" font-weight="bold" fill="#111" textLength="6.40" lengthAdjust="spacingAndGlyphs">B</text>
<text x="110.00" y="337.60" font-size="3.61" font-weight="bold" fill="#20c020" textLength="6.40" lengthAdjust="spacingAndGlyphs">G</text>
<text x="146.60" y="337.00" font-size="9.31" font-weight="bold" fill="#1a1acc" textLength="7.00" lengthAdjust="spacingAndGlyphs">B</text>
<line x1="146.60" y1="338.30" x2="153.60" y2="338.30" stroke="#e040e0" stroke-width="1.0"/>
<text x="154.50" y="333.90" font-size="7.08" font-weight="bold" fill="#10c810" textLength="6.50" lengthAdjust="spacingAndGlyphs">G</text>
<text x="155.00" y="337.50" font-size="4.58" font-weight="bold" fill="#111" textLength="5.50" lengthAdjust="spacingAndGlyphs">A</text>
<text x="161.30" y="333.90" font-size="5.00" font-weight="bold" fill="#10c810" textLength="6.10" lengthAdjust="spacingAndGlyphs">G</text>
<text x="161.80" y="337.50" font-size="4.58" font-weight="bold" fill="#111" textLength="5.20" lengthAdjust="spacingAndGlyphs">P</text>
<text x="168.80" y="335.00" font-size="10.69" font-weight="bold" fill="#10c810" textLength="7.80" lengthAdjust="spacingAndGlyphs">G</text>
<line x1="169.00" y1="336.60" x2="176.00" y2="336.60" stroke="#4040e0" stroke-width="1.2"/>
<line x1="141.00" y1="336.20" x2="146.00" y2="336.20" stroke="#20c020" stroke-width="1.2"/>
<line x1="177.00" y1="336.60" x2="184.00" y2="336.60" stroke="#3050e0" stroke-width="1.2"/>
<text x="76.40" y="342.30" font-size="2.5" text-anchor="middle" fill="#777">▪</text>
<text x="83.85" y="342.30" font-size="2.5" text-anchor="middle" fill="#777">▪</text>
<text x="91.30" y="342.30" font-size="2.5" text-anchor="middle" fill="#777">▪</text>
<text x="98.75" y="342.30" font-size="2.5" text-anchor="middle" fill="#777">▪</text>
<text x="106.20" y="342.30" font-size="2.5" text-anchor="middle" fill="#777">▪</text>
<text x="113.65" y="342.30" font-size="2.5" text-anchor="middle" fill="#777">▪</text>
<text x="121.10" y="342.30" font-size="2.5" text-anchor="middle" fill="#777">▪</text>
<text x="128.55" y="342.30" font-size="2.5" text-anchor="middle" fill="#777">▪</text>
<text x="136.00" y="342.30" font-size="2.5" text-anchor="middle" fill="#777">▪</text>
<text x="143.45" y="342.30" font-size="2.5" text-anchor="middle" fill="#777">▪</text>
<text x="150.90" y="342.30" font-size="2.5" text-anchor="middle" fill="#777">▪</text>
<text x="158.35" y="342.30" font-size="2.5" text-anchor="middle" fill="#777">▪</text>
<text x="165.80" y="342.30" font-size="2.5" text-anchor="middle" fill="#777">▪</text>
<text x="173.25" y="342.30" font-size="2.5" text-anchor="middle" fill="#777">▪</text>
<text x="180.70" y="342.30" font-size="2.5" text-anchor="middle" fill="#777">▪</text>
<text x="187.00" y="344.00" font-size="5" fill="#777">,</text>
<text x="195.50" y="8.60" font-size="11.5" fill="#000" font-weight="bold">b</text>
<rect x="214.20" y="29.30" width="19.00" height="18.60" fill="rgb(255,186,186)" stroke="#b0b0b0" stroke-width="0.5"/>
<text x="223.70" y="40.90" font-size="6.6" text-anchor="middle" fill="#222">3.13</text>
<rect x="233.20" y="29.30" width="19.00" height="18.60" fill="rgb(255,157,157)" stroke="#b0b0b0" stroke-width="0.5"/>
<text x="242.70" y="40.90" font-size="6.6" text-anchor="middle" fill="#222">4.01</text>
<rect x="252.20" y="29.30" width="19.00" height="18.60" fill="rgb(209,209,255)" stroke="#b0b0b0" stroke-width="0.5"/>
<text x="261.70" y="40.90" font-size="6.6" text-anchor="middle" fill="#222">−0.34</text>
<rect x="271.20" y="29.30" width="19.00" height="18.60" fill="rgb(119,119,255)" stroke="#b0b0b0" stroke-width="0.5"/>
<text x="280.70" y="40.90" font-size="6.6" text-anchor="middle" fill="#222">−3.06</text>
<rect x="290.20" y="29.30" width="19.00" height="18.60" fill="rgb(176,176,255)" stroke="#b0b0b0" stroke-width="0.5"/>
<text x="299.70" y="40.90" font-size="6.6" text-anchor="middle" fill="#222">−1.32</text>
<rect x="309.20" y="29.30" width="19.00" height="18.60" fill="rgb(255,236,236)" stroke="#b0b0b0" stroke-width="0.5"/>
<text x="318.70" y="40.90" font-size="6.6" text-anchor="middle" fill="#222">1.64</text>
<rect x="328.20" y="29.30" width="19.00" height="18.60" fill="rgb(255,0,0)" stroke="#b0b0b0" stroke-width="0.5"/>
<text x="337.70" y="40.90" font-size="6.6" text-anchor="middle" fill="#222">8.75</text>
<rect x="347.20" y="29.30" width="19.00" height="18.60" fill="rgb(255,231,231)" stroke="#b0b0b0" stroke-width="0.5"/>
<text x="356.70" y="40.90" font-size="6.6" text-anchor="middle" fill="#222">1.77</text>
<rect x="366.20" y="29.30" width="19.00" height="18.60" fill="rgb(168,168,255)" stroke="#b0b0b0" stroke-width="0.5"/>
<text x="375.70" y="40.90" font-size="6.6" text-anchor="middle" fill="#222">−1.56</text>
<rect x="385.20" y="29.30" width="19.00" height="18.60" fill="rgb(255,193,193)" stroke="#b0b0b0" stroke-width="0.5"/>
<text x="394.70" y="40.90" font-size="6.6" text-anchor="middle" fill="#222">2.93</text>
<rect x="404.20" y="29.30" width="19.00" height="18.60" fill="rgb(255,203,203)" stroke="#b0b0b0" stroke-width="0.5"/>
<text x="413.70" y="40.90" font-size="6.6" text-anchor="middle" fill="#222">2.63</text>
<rect x="423.20" y="29.30" width="19.00" height="18.60" fill="rgb(255,79,79)" stroke="#b0b0b0" stroke-width="0.5"/>
<text x="432.70" y="40.90" font-size="6.6" text-anchor="middle" fill="#222">6.38</text>
<rect x="442.20" y="29.30" width="19.00" height="18.60" fill="rgb(33,33,255)" stroke="#b0b0b0" stroke-width="0.5"/>
<text x="451.70" y="40.90" font-size="6.6" text-anchor="middle" fill="#222">−5.64</text>
<rect x="461.20" y="29.30" width="19.00" height="18.60" fill="rgb(154,154,255)" stroke="#b0b0b0" stroke-width="0.5"/>
<text x="470.70" y="40.90" font-size="6.6" text-anchor="middle" fill="#222">−2.00</text>
<rect x="214.20" y="47.90" width="19.00" height="18.60" fill="rgb(255,236,236)" stroke="#b0b0b0" stroke-width="0.5"/>
<text x="223.70" y="59.50" font-size="6.6" text-anchor="middle" fill="#222">1.62</text>
<rect x="233.20" y="47.90" width="19.00" height="18.60" fill="rgb(255,182,182)" stroke="#b0b0b0" stroke-width="0.5"/>
<text x="242.70" y="59.50" font-size="6.6" text-anchor="middle" fill="#222">3.26</text>
<rect x="252.20" y="47.90" width="19.00" height="18.60" fill="rgb(255,96,96)" stroke="#b0b0b0" stroke-width="0.5"/>
<text x="261.70" y="59.50" font-size="6.6" text-anchor="middle" fill="#222">5.84</text>
<rect x="271.20" y="47.90" width="19.00" height="18.60" fill="rgb(255,223,223)" stroke="#b0b0b0" stroke-width="0.5"/>
<text x="280.70" y="59.50" font-size="6.6" text-anchor="middle" fill="#222">2.03</text>
<rect x="290.20" y="47.90" width="19.00" height="18.60" fill="rgb(255,195,195)" stroke="#b0b0b0" stroke-width="0.5"/>
<text x="299.70" y="59.50" font-size="6.6" text-anchor="middle" fill="#222">2.86</text>
<rect x="309.20" y="47.90" width="19.00" height="18.60" fill="rgb(255,211,211)" stroke="#b0b0b0" stroke-width="0.5"/>
<text x="318.70" y="59.50" font-size="6.6" text-anchor="middle" fill="#222">2.38</text>
<rect x="328.20" y="47.90" width="19.00" height="18.60" fill="rgb(255,11,11)" stroke="#b0b0b0" stroke-width="0.5"/>
<text x="337.70" y="59.50" font-size="6.6" text-anchor="middle" fill="#222">8.42</text>
<rect x="347.20" y="47.90" width="19.00" height="18.60" fill="rgb(255,176,176)" stroke="#b0b0b0" stroke-width="0.5"/>
<text x="356.70" y="59.50" font-size="6.6" text-anchor="middle" fill="#222">3.43</text>
<rect x="366.20" y="47.90" width="19.00" height="18.60" fill="rgb(255,221,221)" stroke="#b0b0b0" stroke-width="0.5"/>
<text x="375.70" y="59.50" font-size="6.6" text-anchor="middle" fill="#222">2.09</text>
<rect x="385.20" y="47.90" width="19.00" height="18.60" fill="rgb(255,116,116)" stroke="#b0b0b0" stroke-width="0.5"/>
<text x="394.70" y="59.50" font-size="6.6" text-anchor="middle" fill="#222">5.26</text>
<rect x="404.20" y="47.90" width="19.00" height="18.60" fill="rgb(255,70,70)" stroke="#b0b0b0" stroke-width="0.5"/>
<text x="413.70" y="59.50" font-size="6.6" text-anchor="middle" fill="#222">6.64</text>
<rect x="423.20" y="47.90" width="19.00" height="18.60" fill="rgb(255,149,149)" stroke="#b0b0b0" stroke-width="0.5"/>
<text x="432.70" y="59.50" font-size="6.6" text-anchor="middle" fill="#222">4.24</text>
<rect x="442.20" y="47.90" width="19.00" height="18.60" fill="rgb(168,168,255)" stroke="#b0b0b0" stroke-width="0.5"/>
<text x="451.70" y="59.50" font-size="6.6" text-anchor="middle" fill="#222">−1.56</text>
<rect x="461.20" y="47.90" width="19.00" height="18.60" fill="rgb(238,238,255)" stroke="#b0b0b0" stroke-width="0.5"/>
<text x="470.70" y="59.50" font-size="6.6" text-anchor="middle" fill="#222">0.55</text>
<rect x="214.20" y="66.50" width="19.00" height="18.60" fill="rgb(181,181,255)" stroke="#b0b0b0" stroke-width="0.5"/>
<text x="223.70" y="78.10" font-size="6.6" text-anchor="middle" fill="#222">−1.18</text>
<rect x="233.20" y="66.50" width="19.00" height="18.60" fill="rgb(214,214,255)" stroke="#b0b0b0" stroke-width="0.5"/>
<text x="242.70" y="78.10" font-size="6.6" text-anchor="middle" fill="#222">−0.17</text>
<rect x="252.20" y="66.50" width="19.00" height="18.60" fill="rgb(255,200,200)" stroke="#b0b0b0" stroke-width="0.5"/>
<text x="261.70" y="78.10" font-size="6.6" text-anchor="middle" fill="#222">2.72</text>
<rect x="271.20" y="66.50" width="19.00" height="18.60" fill="rgb(255,126,126)" stroke="#b0b0b0" stroke-width="0.5"/>
<text x="280.70" y="78.10" font-size="6.6" text-anchor="middle" fill="#222">4.94</text>
<rect x="290.20" y="66.50" width="19.00" height="18.60" fill="rgb(241,241,255)" stroke="#b0b0b0" stroke-width="0.5"/>
<text x="299.70" y="78.10" font-size="6.6" text-anchor="middle" fill="#222">0.63</text>
<rect x="309.20" y="66.50" width="19.00" height="18.60" fill="rgb(255,207,207)" stroke="#b0b0b0" stroke-width="0.5"/>
<text x="318.70" y="78.10" font-size="6.6" text-anchor="middle" fill="#222">2.51</text>
<rect x="328.20" y="66.50" width="19.00" height="18.60" fill="rgb(255,214,214)" stroke="#b0b0b0" stroke-width="0.5"/>
<text x="337.70" y="78.10" font-size="6.6" text-anchor="middle" fill="#222">2.29</text>
<rect x="347.20" y="66.50" width="19.00" height="18.60" fill="rgb(255,170,170)" stroke="#b0b0b0" stroke-width="0.5"/>
<text x="356.70" y="78.10" font-size="6.6" text-anchor="middle" fill="#222">3.62</text>
<rect x="366.20" y="66.50" width="19.00" height="18.60" fill="rgb(255,109,109)" stroke="#b0b0b0" stroke-width="0.5"/>
<text x="375.70" y="78.10" font-size="6.6" text-anchor="middle" fill="#222">5.47</text>
<rect x="385.20" y="66.50" width="19.00" height="18.60" fill="rgb(255,135,135)" stroke="#b0b0b0" stroke-width="0.5"/>
<text x="394.70" y="78.10" font-size="6.6" text-anchor="middle" fill="#222">4.67</text>
<rect x="404.20" y="66.50" width="19.00" height="18.60" fill="rgb(255,196,196)" stroke="#b0b0b0" stroke-width="0.5"/>
<text x="413.70" y="78.10" font-size="6.6" text-anchor="middle" fill="#222">2.83</text>
<rect x="423.20" y="66.50" width="19.00" height="18.60" fill="rgb(207,207,255)" stroke="#b0b0b0" stroke-width="0.5"/>
<text x="432.70" y="78.10" font-size="6.6" text-anchor="middle" fill="#222">−0.40</text>
<rect x="442.20" y="66.50" width="19.00" height="18.60" fill="rgb(255,152,152)" stroke="#b0b0b0" stroke-width="0.5"/>
<text x="451.70" y="78.10" font-size="6.6" text-anchor="middle" fill="#222">4.16</text>
<rect x="461.20" y="66.50" width="19.00" height="18.60" fill="rgb(255,222,222)" stroke="#b0b0b0" stroke-width="0.5"/>
<text x="470.70" y="78.10" font-size="6.6" text-anchor="middle" fill="#222">2.05</text>
<rect x="214.20" y="85.10" width="19.00" height="18.60" fill="rgb(255,219,219)" stroke="#b0b0b0" stroke-width="0.5"/>
<text x="223.70" y="96.70" font-size="6.6" text-anchor="middle" fill="#222">2.13</text>
<rect x="233.20" y="85.10" width="19.00" height="18.60" fill="rgb(206,206,255)" stroke="#b0b0b0" stroke-width="0.5"/>
<text x="242.70" y="96.70" font-size="6.6" text-anchor="middle" fill="#222">−0.42</text>
<rect x="252.20" y="85.10" width="19.00" height="18.60" fill="rgb(135,135,255)" stroke="#b0b0b0" stroke-width="0.5"/>
<text x="261.70" y="96.70" font-size="6.6" text-anchor="middle" fill="#222">−2.56</text>
<rect x="271.20" y="85.10" width="19.00" height="18.60" fill="rgb(110,110,255)" stroke="#b0b0b0" stroke-width="0.5"/>
<text x="280.70" y="96.70" font-size="6.6" text-anchor="middle" fill="#222">−3.32</text>
<rect x="290.20" y="85.10" width="19.00" height="18.60" fill="rgb(93,93,255)" stroke="#b0b0b0" stroke-width="0.5"/>
<text x="299.70" y="96.70" font-size="6.6" text-anchor="middle" fill="#222">−3.84</text>
<rect x="309.20" y="85.10" width="19.00" height="18.60" fill="rgb(228,228,255)" stroke="#b0b0b0" stroke-width="0.5"/>
<text x="318.70" y="96.70" font-size="6.6" text-anchor="middle" fill="#222">0.23</text>
<rect x="328.20" y="85.10" width="19.00" height="18.60" fill="rgb(255,253,253)" stroke="#b0b0b0" stroke-width="0.5"/>
<text x="337.70" y="96.70" font-size="6.6" text-anchor="middle" fill="#222">1.11</text>
<rect x="347.20" y="85.10" width="19.00" height="18.60" fill="rgb(168,168,255)" stroke="#b0b0b0" stroke-width="0.5"/>
<text x="356.70" y="96.70" font-size="6.6" text-anchor="middle" fill="#222">−1.56</text>
<rect x="366.20" y="85.10" width="19.00" height="18.60" fill="rgb(119,119,255)" stroke="#b0b0b0" stroke-width="0.5"/>
<text x="375.70" y="96.70" font-size="6.6" text-anchor="middle" fill="#222">−3.06</text>
<rect x="385.20" y="85.10" width="19.00" height="18.60" fill="rgb(255,158,158)" stroke="#b0b0b0" stroke-width="0.5"/>
<text x="394.70" y="96.70" font-size="6.6" text-anchor="middle" fill="#222">3.97</text>
<rect x="404.20" y="85.10" width="19.00" height="18.60" fill="rgb(255,248,248)" stroke="#b0b0b0" stroke-width="0.5"/>
<text x="413.70" y="96.70" font-size="6.6" text-anchor="middle" fill="#222">1.28</text>
<rect x="423.20" y="85.10" width="19.00" height="18.60" fill="rgb(255,183,183)" stroke="#b0b0b0" stroke-width="0.5"/>
<text x="432.70" y="96.70" font-size="6.6" text-anchor="middle" fill="#222">3.24</text>
<rect x="442.20" y="85.10" width="19.00" height="18.60" fill="rgb(0,0,255)" stroke="#b0b0b0" stroke-width="0.5"/>
<text x="451.70" y="96.70" font-size="6.6" text-anchor="middle" fill="#222">−6.64</text>
<rect x="461.20" y="85.10" width="19.00" height="18.60" fill="rgb(210,210,255)" stroke="#b0b0b0" stroke-width="0.5"/>
<text x="470.70" y="96.70" font-size="6.6" text-anchor="middle" fill="#222">−0.29</text>
<text x="223.70" y="26.30" font-size="10.3" text-anchor="middle" font-style="italic">1</text>
<text x="242.70" y="26.30" font-size="10.3" text-anchor="middle" font-style="italic">4</text>
<text x="261.70" y="26.30" font-size="10.3" text-anchor="middle" font-style="italic">6</text>
<text x="280.70" y="26.30" font-size="10.3" text-anchor="middle" font-style="italic">7</text>
<text x="299.70" y="26.30" font-size="10.3" text-anchor="middle" font-style="italic">8</text>
<text x="318.70" y="26.30" font-size="10.3" text-anchor="middle" font-style="italic">9</text>
<text x="337.70" y="26.30" font-size="10.3" text-anchor="middle" font-style="italic">10</text>
<text x="356.70" y="26.30" font-size="10.3" text-anchor="middle" font-style="italic">11</text>
<text x="375.70" y="26.30" font-size="10.3" text-anchor="middle" font-style="italic">12</text>
<text x="394.70" y="26.30" font-size="10.3" text-anchor="middle" font-style="italic">13</text>
<text x="413.70" y="26.30" font-size="10.3" text-anchor="middle" font-style="italic">14</text>
<text x="432.70" y="26.30" font-size="10.3" text-anchor="middle" font-style="italic">15</text>
<text x="451.70" y="26.30" font-size="10.3" text-anchor="middle" font-style="italic">20</text>
<text x="470.70" y="26.30" font-size="10.3" text-anchor="middle" font-style="italic">23</text>
<text x="207.90" y="42.90" font-size="10.5" text-anchor="middle">L</text>
<text x="207.90" y="61.80" font-size="10.5" text-anchor="middle">S</text>
<text x="207.90" y="81.20" font-size="10.5" text-anchor="middle">R</text>
<text x="207.90" y="98.80" font-size="10.5" text-anchor="middle">F</text>
<line x1="217.30" y1="14.60" x2="477.00" y2="14.60" stroke="#777" stroke-width="0.8"/>
<text x="346.30" y="12.80" font-size="10.6" text-anchor="middle" font-style="italic">SCOOP</text>
<text x="482.30" y="50.20" font-size="10">log<tspan font-size="7" dy="2.8">2</tspan></text>
<defs><linearGradient id="cb" x1="0" y1="0" x2="0" y2="1"><stop offset="0" stop-color="#ff0000"/><stop offset="0.5" stop-color="#ffffff"/><stop offset="1" stop-color="#0000ff"/></linearGradient></defs>
<rect x="483.40" y="61.50" width="3.00" height="34.00" fill="url(#cb)"/>
<text x="487.80" y="65.60" font-size="9">5</text>
<text x="487.80" y="82.90" font-size="9">0</text>
<text x="485.30" y="99.90" font-size="9">-5</text>
<text x="196.80" y="119.00" font-size="11.5" fill="#000" font-weight="bold">c</text>
<rect x="208.60" y="140.20" width="278.70" height="72.40" fill="#767a82"/>
<defs><radialGradient id="haze" cx="0.5" cy="0.85" r="0.6"><stop offset="0" stop-color="#55504e" stop-opacity="0.55"/><stop offset="1" stop-color="#55504e" stop-opacity="0"/></radialGradient><linearGradient id="dk" x1="0" y1="0" x2="0" y2="1"><stop offset="0" stop-color="#222a37"/><stop offset="0.6" stop-color="#262c38"/><stop offset="1" stop-color="#2b2e36"/></linearGradient></defs>
<rect x="208.60" y="140.20" width="22.30" height="72.40" fill="url(#dk)"/>
<polyline points="215.0,149.5 215.1,156.0 214.9,162.4 215.4,168.9 215.5,175.4 214.5,181.9 214.5,188.4 216.0,194.8 215.5,201.3" fill="none" stroke="#c8ccca" stroke-width="1.35" opacity="0.9"/>
<ellipse cx="212.8" cy="147.0" rx="2.9" ry="1.8" fill="#9cc034" transform="rotate(-15 212.8 147)"/>
<ellipse cx="217.2" cy="146.6" rx="2.8" ry="1.7" fill="#b0cc40" transform="rotate(12 217.2 146.6)"/>
<line x1="215.0" y1="147.5" x2="215.0" y2="150" stroke="#b8b860" stroke-width="1"/>
<circle cx="215.5" cy="201.3" r="1.5" fill="#ff1a1a"/>
<polyline points="225.0,149.5 224.6,155.6 226.0,161.8 225.1,167.9 225.9,174.0 225.3,180.1 225.6,186.2 224.8,192.4 225.5,198.5" fill="none" stroke="#c8ccca" stroke-width="1.35" opacity="0.9"/>
<ellipse cx="222.8" cy="147.0" rx="2.9" ry="1.8" fill="#9cc034" transform="rotate(-15 222.8 147)"/>
<ellipse cx="227.2" cy="146.6" rx="2.8" ry="1.7" fill="#b0cc40" transform="rotate(12 227.2 146.6)"/>
<line x1="225.0" y1="147.5" x2="225.0" y2="150" stroke="#b8b860" stroke-width="1"/>
<circle cx="225.5" cy="198.5" r="1.5" fill="#ff1a1a"/>
<line x1="224.30" y1="211.00" x2="228.50" y2="211.00" stroke="#d8d8d8" stroke-width="0.9"/>
<rect x="231.70" y="140.20" width="22.10" height="72.40" fill="url(#dk)"/>
<polyline points="239.7,149.5 240.3,152.5 239.6,155.5 240.0,158.5 239.8,161.5 238.7,164.5 239.9,167.5 239.6,170.5 239.4,173.5" fill="none" stroke="#c8ccca" stroke-width="1.35" opacity="0.9"/>
<ellipse cx="237.5" cy="147.0" rx="2.9" ry="1.8" fill="#9cc034" transform="rotate(-15 237.5 147)"/>
<ellipse cx="241.9" cy="146.6" rx="2.8" ry="1.7" fill="#b0cc40" transform="rotate(12 241.9 146.6)"/>
<line x1="239.7" y1="147.5" x2="239.7" y2="150" stroke="#b8b860" stroke-width="1"/>
<circle cx="239.4" cy="173.5" r="1.5" fill="#ff1a1a"/>
<polyline points="247.9,149.5 247.1,152.5 248.7,155.5 248.0,158.5 248.5,161.5 248.8,164.5 248.6,167.5 249.0,170.5 248.3,173.5" fill="none" stroke="#c8ccca" stroke-width="1.35" opacity="0.9"/>
<ellipse cx="245.7" cy="147.0" rx="2.9" ry="1.8" fill="#9cc034" transform="rotate(-15 245.7 147)"/>
<ellipse cx="250.1" cy="146.6" rx="2.8" ry="1.7" fill="#b0cc40" transform="rotate(12 250.1 146.6)"/>
<line x1="247.9" y1="147.5" x2="247.9" y2="150" stroke="#b8b860" stroke-width="1"/>
<circle cx="248.3" cy="173.5" r="1.5" fill="#ff1a1a"/>
<line x1="247.20" y1="211.00" x2="251.40" y2="211.00" stroke="#d8d8d8" stroke-width="0.9"/>
<rect x="254.50" y="140.20" width="22.40" height="72.40" fill="url(#dk)"/>
<polyline points="261.8,149.5 262.4,152.4 261.7,155.3 262.7,158.2 262.6,161.1 261.2,164.0 261.3,166.9 261.5,169.8 262.0,172.7" fill="none" stroke="#c8ccca" stroke-width="1.35" opacity="0.9"/>
<ellipse cx="259.6" cy="147.0" rx="2.9" ry="1.8" fill="#9cc034" transform="rotate(-15 259.6 147)"/>
<ellipse cx="264.0" cy="146.6" rx="2.8" ry="1.7" fill="#b0cc40" transform="rotate(12 264.0 146.6)"/>
<line x1="261.8" y1="147.5" x2="261.8" y2="150" stroke="#b8b860" stroke-width="1"/>
<circle cx="262.0" cy="172.7" r="1.5" fill="#ff1a1a"/>
<polyline points="272.2,149.5 272.0,152.6 272.2,155.8 271.5,158.9 271.8,162.1 271.4,165.2 271.3,168.3 271.6,171.5 271.3,174.6" fill="none" stroke="#c8ccca" stroke-width="1.35" opacity="0.9"/>
<ellipse cx="270.0" cy="147.0" rx="2.9" ry="1.8" fill="#9cc034" transform="rotate(-15 270.0 147)"/>
<ellipse cx="274.4" cy="146.6" rx="2.8" ry="1.7" fill="#b0cc40" transform="rotate(12 274.4 146.6)"/>
<line x1="272.2" y1="147.5" x2="272.2" y2="150" stroke="#b8b860" stroke-width="1"/>
<circle cx="271.3" cy="174.6" r="1.5" fill="#ff1a1a"/>
<line x1="270.30" y1="211.00" x2="274.50" y2="211.00" stroke="#d8d8d8" stroke-width="0.9"/>
<rect x="278.20" y="140.20" width="21.00" height="72.40" fill="url(#dk)"/>
<polyline points="283.6,149.5 284.3,152.3 283.9,155.2 284.3,158.0 284.1,160.8 284.3,163.7 283.8,166.5 282.8,169.4 283.4,172.2" fill="none" stroke="#c8ccca" stroke-width="1.35" opacity="0.9"/>
<ellipse cx="281.4" cy="147.0" rx="2.9" ry="1.8" fill="#9cc034" transform="rotate(-15 281.4 147)"/>
<ellipse cx="285.8" cy="146.6" rx="2.8" ry="1.7" fill="#b0cc40" transform="rotate(12 285.8 146.6)"/>
<line x1="283.6" y1="147.5" x2="283.6" y2="150" stroke="#b8b860" stroke-width="1"/>
<circle cx="283.4" cy="172.2" r="1.5" fill="#ff1a1a"/>
<polyline points="292.7,149.5 293.5,152.0 293.3,154.6 292.6,157.1 292.7,159.7 291.8,162.2 292.8,164.7 292.2,167.3 292.0,169.8" fill="none" stroke="#c8ccca" stroke-width="1.35" opacity="0.9"/>
<ellipse cx="290.5" cy="147.0" rx="2.9" ry="1.8" fill="#9cc034" transform="rotate(-15 290.5 147)"/>
<ellipse cx="294.9" cy="146.6" rx="2.8" ry="1.7" fill="#b0cc40" transform="rotate(12 294.9 146.6)"/>
<line x1="292.7" y1="147.5" x2="292.7" y2="150" stroke="#b8b860" stroke-width="1"/>
<circle cx="292.0" cy="169.8" r="1.5" fill="#ff1a1a"/>
<line x1="292.60" y1="211.00" x2="296.80" y2="211.00" stroke="#d8d8d8" stroke-width="0.9"/>
<rect x="300.90" y="140.20" width="21.00" height="72.40" fill="url(#dk)"/>
<polyline points="308.2,149.5 307.4,150.7 308.9,151.9 309.2,153.1 307.6,154.3 309.0,155.6 308.3,156.8 307.9,158.0 308.6,159.2" fill="none" stroke="#c8ccca" stroke-width="1.35" opacity="0.9"/>
<ellipse cx="306.0" cy="147.0" rx="2.9" ry="1.8" fill="#9cc034" transform="rotate(-15 306.0 147)"/>
<ellipse cx="310.4" cy="146.6" rx="2.8" ry="1.7" fill="#b0cc40" transform="rotate(12 310.4 146.6)"/>
<line x1="308.2" y1="147.5" x2="308.2" y2="150" stroke="#b8b860" stroke-width="1"/>
<circle cx="308.6" cy="159.2" r="1.5" fill="#ff1a1a"/>
<polyline points="316.6,149.5 317.1,150.6 317.4,151.6 315.9,152.7 317.0,153.8 316.0,154.8 317.3,155.9 316.6,156.9 317.0,158.0" fill="none" stroke="#c8ccca" stroke-width="1.35" opacity="0.9"/>
<ellipse cx="314.4" cy="147.0" rx="2.9" ry="1.8" fill="#9cc034" transform="rotate(-15 314.4 147)"/>
<ellipse cx="318.8" cy="146.6" rx="2.8" ry="1.7" fill="#b0cc40" transform="rotate(12 318.8 146.6)"/>
<line x1="316.6" y1="147.5" x2="316.6" y2="150" stroke="#b8b860" stroke-width="1"/>
<circle cx="317.0" cy="158.0" r="1.5" fill="#ff1a1a"/>
<line x1="315.30" y1="211.00" x2="319.50" y2="211.00" stroke="#d8d8d8" stroke-width="0.9"/>
<rect x="323.20" y="140.20" width="21.60" height="72.40" fill="url(#dk)"/>
<polyline points="327.5,149.5 328.2,153.0 327.3,156.5 328.1,160.0 326.7,163.5 326.2,167.0 327.1,170.5 326.0,174.0 326.7,177.5" fill="none" stroke="#c8ccca" stroke-width="1.35" opacity="0.9"/>
<ellipse cx="325.3" cy="147.0" rx="2.9" ry="1.8" fill="#9cc034" transform="rotate(-15 325.3 147)"/>
<ellipse cx="329.7" cy="146.6" rx="2.8" ry="1.7" fill="#b0cc40" transform="rotate(12 329.7 146.6)"/>
<line x1="327.5" y1="147.5" x2="327.5" y2="150" stroke="#b8b860" stroke-width="1"/>
<circle cx="326.7" cy="177.5" r="1.5" fill="#ff1a1a"/>
<polyline points="336.3,149.5 336.2,153.0 336.6,156.6 335.9,160.1 335.8,163.7 337.3,167.2 336.4,170.7 337.6,174.3 336.9,177.8" fill="none" stroke="#c8ccca" stroke-width="1.35" opacity="0.9"/>
<ellipse cx="334.1" cy="147.0" rx="2.9" ry="1.8" fill="#9cc034" transform="rotate(-15 334.1 147)"/>
<ellipse cx="338.5" cy="146.6" rx="2.8" ry="1.7" fill="#b0cc40" transform="rotate(12 338.5 146.6)"/>
<line x1="336.3" y1="147.5" x2="336.3" y2="150" stroke="#b8b860" stroke-width="1"/>
<circle cx="336.9" cy="177.8" r="1.5" fill="#ff1a1a"/>
<line x1="338.20" y1="211.00" x2="342.40" y2="211.00" stroke="#d8d8d8" stroke-width="0.9"/>
<rect x="346.60" y="140.20" width="21.40" height="72.40" fill="url(#dk)"/>
<polyline points="351.4,149.5 351.1,150.8 351.1,152.1 351.1,153.4 351.3,154.8 351.1,156.1 350.9,157.4 350.9,158.7 350.6,160.0" fill="none" stroke="#c8ccca" stroke-width="1.35" opacity="0.9"/>
<ellipse cx="349.2" cy="147.0" rx="2.9" ry="1.8" fill="#9cc034" transform="rotate(-15 349.2 147)"/>
<ellipse cx="353.6" cy="146.6" rx="2.8" ry="1.7" fill="#b0cc40" transform="rotate(12 353.6 146.6)"/>
<line x1="351.4" y1="147.5" x2="351.4" y2="150" stroke="#b8b860" stroke-width="1"/>
<circle cx="350.6" cy="160.0" r="1.5" fill="#ff1a1a"/>
<polyline points="360.1,149.5 360.0,150.9 359.7,152.2 360.1,153.6 359.2,154.9 359.2,156.3 360.3,157.7 359.3,159.0 359.2,160.4" fill="none" stroke="#c8ccca" stroke-width="1.35" opacity="0.9"/>
<ellipse cx="357.9" cy="147.0" rx="2.9" ry="1.8" fill="#9cc034" transform="rotate(-15 357.9 147)"/>
<ellipse cx="362.3" cy="146.6" rx="2.8" ry="1.7" fill="#b0cc40" transform="rotate(12 362.3 146.6)"/>
<line x1="360.1" y1="147.5" x2="360.1" y2="150" stroke="#b8b860" stroke-width="1"/>
<circle cx="359.2" cy="160.4" r="1.5" fill="#ff1a1a"/>
<line x1="361.40" y1="211.00" x2="365.60" y2="211.00" stroke="#d8d8d8" stroke-width="0.9"/>
<rect x="369.70" y="140.20" width="21.50" height="72.40" fill="url(#dk)"/>
<polyline points="372.7,149.5 371.8,151.8 372.5,154.1 372.8,156.4 371.8,158.7 372.8,160.9 372.9,163.2 371.8,165.5 372.6,167.8" fill="none" stroke="#c8ccca" stroke-width="1.35" opacity="0.9"/>
<ellipse cx="370.5" cy="147.0" rx="2.9" ry="1.8" fill="#9cc034" transform="rotate(-15 370.5 147)"/>
<ellipse cx="374.9" cy="146.6" rx="2.8" ry="1.7" fill="#b0cc40" transform="rotate(12 374.9 146.6)"/>
<line x1="372.7" y1="147.5" x2="372.7" y2="150" stroke="#b8b860" stroke-width="1"/>
<circle cx="372.6" cy="167.8" r="1.5" fill="#ff1a1a"/>
<polyline points="381.8,149.5 381.7,151.5 382.0,153.4 381.4,155.4 382.0,157.3 382.0,159.3 380.7,161.3 380.7,163.2 381.5,165.2" fill="none" stroke="#c8ccca" stroke-width="1.35" opacity="0.9"/>
<ellipse cx="379.6" cy="147.0" rx="2.9" ry="1.8" fill="#9cc034" transform="rotate(-15 379.6 147)"/>
<ellipse cx="384.0" cy="146.6" rx="2.8" ry="1.7" fill="#b0cc40" transform="rotate(12 384.0 146.6)"/>
<line x1="381.8" y1="147.5" x2="381.8" y2="150" stroke="#b8b860" stroke-width="1"/>
<circle cx="381.5" cy="165.2" r="1.5" fill="#ff1a1a"/>
<line x1="384.60" y1="211.00" x2="388.80" y2="211.00" stroke="#d8d8d8" stroke-width="0.9"/>
<rect x="392.80" y="140.20" width="21.30" height="72.40" fill="url(#dk)"/>
<polyline points="398.4,149.5 399.1,154.6 397.8,159.6 398.1,164.7 398.3,169.8 397.8,174.8 397.8,179.9 397.7,184.9 398.0,190.0" fill="none" stroke="#c8ccca" stroke-width="1.35" opacity="0.9"/>
<ellipse cx="396.2" cy="147.0" rx="2.9" ry="1.8" fill="#9cc034" transform="rotate(-15 396.2 147)"/>
<ellipse cx="400.6" cy="146.6" rx="2.8" ry="1.7" fill="#b0cc40" transform="rotate(12 400.6 146.6)"/>
<line x1="398.4" y1="147.5" x2="398.4" y2="150" stroke="#b8b860" stroke-width="1"/>
<circle cx="398.0" cy="190.0" r="1.5" fill="#ff1a1a"/>
<polyline points="408.5,149.5 408.7,155.3 408.2,161.0 408.4,166.8 409.2,172.6 407.9,178.3 408.9,184.1 409.2,189.8 408.8,195.6" fill="none" stroke="#c8ccca" stroke-width="1.35" opacity="0.9"/>
<ellipse cx="406.3" cy="147.0" rx="2.9" ry="1.8" fill="#9cc034" transform="rotate(-15 406.3 147)"/>
<ellipse cx="410.7" cy="146.6" rx="2.8" ry="1.7" fill="#b0cc40" transform="rotate(12 410.7 146.6)"/>
<line x1="408.5" y1="147.5" x2="408.5" y2="150" stroke="#b8b860" stroke-width="1"/>
<circle cx="408.8" cy="195.6" r="1.5" fill="#ff1a1a"/>
<line x1="407.50" y1="211.00" x2="411.70" y2="211.00" stroke="#d8d8d8" stroke-width="0.9"/>
<rect x="415.60" y="140.20" width="22.30" height="72.40" fill="url(#dk)"/>
<polyline points="421.6,149.5 421.2,152.3 422.3,155.1 421.3,157.9 421.2,160.7 421.7,163.5 422.3,166.3 421.2,169.1 422.0,171.9" fill="none" stroke="#c8ccca" stroke-width="1.35" opacity="0.9"/>
<ellipse cx="419.4" cy="147.0" rx="2.9" ry="1.8" fill="#9cc034" transform="rotate(-15 419.4 147)"/>
<ellipse cx="423.8" cy="146.6" rx="2.8" ry="1.7" fill="#b0cc40" transform="rotate(12 423.8 146.6)"/>
<line x1="421.6" y1="147.5" x2="421.6" y2="150" stroke="#b8b860" stroke-width="1"/>
<circle cx="422.0" cy="171.9" r="1.5" fill="#ff1a1a"/>
<polyline points="431.5,149.5 431.3,152.7 432.2,155.8 431.6,158.9 432.4,162.1 431.2,165.2 431.5,168.4 432.1,171.5 431.9,174.7" fill="none" stroke="#c8ccca" stroke-width="1.35" opacity="0.9"/>
<ellipse cx="429.3" cy="147.0" rx="2.9" ry="1.8" fill="#9cc034" transform="rotate(-15 429.3 147)"/>
<ellipse cx="433.7" cy="146.6" rx="2.8" ry="1.7" fill="#b0cc40" transform="rotate(12 433.7 146.6)"/>
<line x1="431.5" y1="147.5" x2="431.5" y2="150" stroke="#b8b860" stroke-width="1"/>
<circle cx="431.9" cy="174.7" r="1.5" fill="#ff1a1a"/>
<line x1="431.30" y1="211.00" x2="435.50" y2="211.00" stroke="#d8d8d8" stroke-width="0.9"/>
<rect x="439.20" y="140.20" width="21.70" height="72.40" fill="url(#dk)"/>
<polyline points="444.7,149.5 444.5,152.8 444.0,156.1 443.7,159.4 444.3,162.8 443.6,166.1 444.6,169.4 444.6,172.7 443.9,176.0" fill="none" stroke="#c8ccca" stroke-width="1.35" opacity="0.9"/>
<ellipse cx="442.5" cy="147.0" rx="2.9" ry="1.8" fill="#9cc034" transform="rotate(-15 442.5 147)"/>
<ellipse cx="446.9" cy="146.6" rx="2.8" ry="1.7" fill="#b0cc40" transform="rotate(12 446.9 146.6)"/>
<line x1="444.7" y1="147.5" x2="444.7" y2="150" stroke="#b8b860" stroke-width="1"/>
<circle cx="443.9" cy="176.0" r="1.5" fill="#ff1a1a"/>
<polyline points="452.7,149.5 452.3,153.2 453.4,156.8 453.2,160.4 453.5,164.1 452.8,167.8 452.5,171.4 452.8,175.0 453.3,178.7" fill="none" stroke="#c8ccca" stroke-width="1.35" opacity="0.9"/>
<ellipse cx="450.5" cy="147.0" rx="2.9" ry="1.8" fill="#9cc034" transform="rotate(-15 450.5 147)"/>
<ellipse cx="454.9" cy="146.6" rx="2.8" ry="1.7" fill="#b0cc40" transform="rotate(12 454.9 146.6)"/>
<line x1="452.7" y1="147.5" x2="452.7" y2="150" stroke="#b8b860" stroke-width="1"/>
<circle cx="453.3" cy="178.7" r="1.5" fill="#ff1a1a"/>
<line x1="454.30" y1="211.00" x2="458.50" y2="211.00" stroke="#d8d8d8" stroke-width="0.9"/>
<rect x="462.20" y="140.20" width="25.10" height="72.40" fill="url(#dk)"/>
<polyline points="469.6,149.5 469.1,156.3 469.2,163.1 469.2,169.9 469.1,176.7 469.1,183.4 469.9,190.2 468.5,197.0 469.0,203.8" fill="none" stroke="#c8ccca" stroke-width="1.35" opacity="0.9"/>
<ellipse cx="467.4" cy="147.0" rx="2.9" ry="1.8" fill="#9cc034" transform="rotate(-15 467.4 147)"/>
<ellipse cx="471.8" cy="146.6" rx="2.8" ry="1.7" fill="#b0cc40" transform="rotate(12 471.8 146.6)"/>
<line x1="469.6" y1="147.5" x2="469.6" y2="150" stroke="#b8b860" stroke-width="1"/>
<circle cx="469.0" cy="203.8" r="1.5" fill="#ff1a1a"/>
<polyline points="479.0,149.5 479.9,157.0 479.9,164.4 480.3,171.9 479.4,179.3 480.4,186.8 480.5,194.3 479.4,201.7 480.0,209.2" fill="none" stroke="#c8ccca" stroke-width="1.35" opacity="0.9"/>
<ellipse cx="476.8" cy="147.0" rx="2.9" ry="1.8" fill="#9cc034" transform="rotate(-15 476.8 147)"/>
<ellipse cx="481.2" cy="146.6" rx="2.8" ry="1.7" fill="#b0cc40" transform="rotate(12 481.2 146.6)"/>
<line x1="479.0" y1="147.5" x2="479.0" y2="150" stroke="#b8b860" stroke-width="1"/>
<circle cx="480.0" cy="209.2" r="1.5" fill="#ff1a1a"/>
<line x1="480.70" y1="211.00" x2="484.90" y2="211.00" stroke="#d8d8d8" stroke-width="0.9"/>
<ellipse cx="465.5" cy="147.0" rx="3.2" ry="1.8" fill="#a4c63c"/>
<ellipse cx="470.5" cy="146.4" rx="3.0" ry="1.8" fill="#a4c63c"/>
<ellipse cx="475.8" cy="147.2" rx="3.2" ry="1.8" fill="#a4c63c"/>
<ellipse cx="481.0" cy="146.5" rx="3.0" ry="1.8" fill="#a4c63c"/>
<ellipse cx="485.2" cy="147.3" rx="2.2" ry="1.8" fill="#a4c63c"/>
<clipPath id="cclip"><rect x="208.6" y="140.2" width="22.30" height="72.40"/><rect x="231.7" y="140.2" width="22.10" height="72.40"/><rect x="254.5" y="140.2" width="22.40" height="72.40"/><rect x="278.2" y="140.2" width="21.00" height="72.40"/><rect x="300.9" y="140.2" width="21.00" height="72.40"/><rect x="323.2" y="140.2" width="21.60" height="72.40"/><rect x="346.6" y="140.2" width="21.40" height="72.40"/><rect x="369.7" y="140.2" width="21.50" height="72.40"/><rect x="392.8" y="140.2" width="21.30" height="72.40"/><rect x="415.6" y="140.2" width="22.30" height="72.40"/><rect x="439.2" y="140.2" width="21.70" height="72.40"/><rect x="462.2" y="140.2" width="25.10" height="72.40"/></clipPath>
<defs><radialGradient id="hz2"><stop offset="0" stop-color="#7a6e68" stop-opacity="0.45"/><stop offset="1" stop-color="#7a6e68" stop-opacity="0"/></radialGradient></defs>
<g clip-path="url(#cclip)"><ellipse cx="262" cy="205" rx="55" ry="16" fill="url(#hz2)" transform="rotate(-22 262 205)"/><ellipse cx="350" cy="212" rx="45" ry="10" fill="url(#hz2)" transform="rotate(-12 350 212)"/><ellipse cx="455" cy="214" rx="40" ry="8" fill="url(#hz2)" opacity="0.6"/></g>
<text x="218.20" y="139.00" font-size="10.5" transform="rotate(-45 218.20 139.00)">H<tspan font-size="7" dy="2.7">2</tspan><tspan dy="-2.7">O</tspan></text>
<text x="241.75" y="137.80" font-size="10" text-anchor="middle">4</text>
<text x="266.70" y="137.80" font-size="10" text-anchor="middle">6<tspan font-size="6.5" dy="-3.6">B</tspan></text>
<text x="288.70" y="137.80" font-size="10" text-anchor="middle">8</text>
<text x="310.90" y="137.80" font-size="10" text-anchor="middle">10<tspan font-size="6.5" dy="-3.6">B</tspan></text>
<text x="334.00" y="137.80" font-size="10" text-anchor="middle">12</text>
<text x="356.30" y="137.80" font-size="10" text-anchor="middle">13</text>
<text x="378.95" y="137.80" font-size="10" text-anchor="middle">14</text>
<text x="402.45" y="137.80" font-size="10" text-anchor="middle">15<tspan font-size="6.5" dy="-3.6">B</tspan></text>
<text x="426.75" y="137.80" font-size="10" text-anchor="middle">20</text>
<text x="449.05" y="137.80" font-size="10" text-anchor="middle">23</text>
<text x="472.00" y="138.50" font-size="10.2" transform="rotate(-45 472.00 138.50)">STMP4</text>
<line x1="239.20" y1="125.40" x2="454.60" y2="125.40" stroke="#777" stroke-width="0.8"/>
<text x="346.60" y="122.90" font-size="10" text-anchor="middle">SCOOP</text>
<text x="502.50" y="9.20" font-size="11.5" fill="#000" font-weight="bold">d</text>
<text x="517.30" y="70.90" font-size="10.3" text-anchor="middle" transform="rotate(-90 517.30 70.90)">Root length (mm)</text>
<line x1="538.80" y1="28.40" x2="538.80" y2="102.50" stroke="#888" stroke-width="0.8"/>
<line x1="535.80" y1="28.40" x2="538.80" y2="28.40" stroke="#888" stroke-width="0.8"/>
<text x="533.50" y="32.80" font-size="10.3" text-anchor="end">30</text>
<line x1="535.80" y1="53.10" x2="538.80" y2="53.10" stroke="#888" stroke-width="0.8"/>
<text x="533.50" y="57.50" font-size="10.3" text-anchor="end">20</text>
<line x1="535.80" y1="77.80" x2="538.80" y2="77.80" stroke="#888" stroke-width="0.8"/>
<text x="533.50" y="82.20" font-size="10.3" text-anchor="end">10</text>
<line x1="535.80" y1="102.50" x2="538.80" y2="102.50" stroke="#888" stroke-width="0.8"/>
<text x="533.50" y="106.90" font-size="10.3" text-anchor="end">0</text>
<line x1="545.40" y1="102.50" x2="679.60" y2="102.50" stroke="#888" stroke-width="0.8"/>
<line x1="545.60" y1="33.70" x2="545.60" y2="35.40" stroke="#555" stroke-width="0.6"/>
<line x1="545.60" y1="46.70" x2="545.60" y2="50.70" stroke="#555" stroke-width="0.6"/>
<line x1="543.10" y1="33.70" x2="548.10" y2="33.70" stroke="#555" stroke-width="0.6"/>
<line x1="543.10" y1="50.70" x2="548.10" y2="50.70" stroke="#555" stroke-width="0.6"/>
<rect x="540.60" y="35.40" width="10.00" height="11.30" fill="#fff" stroke="#555" stroke-width="0.6"/>
<line x1="540.60" y1="41.90" x2="550.60" y2="41.90" stroke="#333" stroke-width="0.84"/>
<circle cx="546.8" cy="40.8" r="1.1" fill="none" stroke="#6a6a6a" stroke-width="0.45"/>
<circle cx="545.7" cy="33.7" r="1.1" fill="none" stroke="#6a6a6a" stroke-width="0.45"/>
<circle cx="543.5" cy="40.1" r="1.1" fill="none" stroke="#6a6a6a" stroke-width="0.45"/>
<circle cx="542.3" cy="44.8" r="1.1" fill="none" stroke="#6a6a6a" stroke-width="0.45"/>
<circle cx="548.0" cy="38.1" r="1.1" fill="none" stroke="#6a6a6a" stroke-width="0.45"/>
<circle cx="542.1" cy="39.2" r="1.1" fill="none" stroke="#6a6a6a" stroke-width="0.45"/>
<circle cx="548.8" cy="46.4" r="1.1" fill="none" stroke="#6a6a6a" stroke-width="0.45"/>
<circle cx="548.6" cy="37.3" r="1.1" fill="none" stroke="#6a6a6a" stroke-width="0.45"/>
<circle cx="541.9" cy="45.6" r="1.1" fill="none" stroke="#6a6a6a" stroke-width="0.45"/>
<circle cx="547.5" cy="37.8" r="1.1" fill="none" stroke="#6a6a6a" stroke-width="0.45"/>
<circle cx="546.8" cy="42.7" r="1.1" fill="none" stroke="#6a6a6a" stroke-width="0.45"/>
<circle cx="545.8" cy="44.2" r="1.1" fill="none" stroke="#6a6a6a" stroke-width="0.45"/>
<circle cx="546.5" cy="33.7" r="1.1" fill="none" stroke="#6a6a6a" stroke-width="0.45"/>
<text x="545.60" y="30.90" font-size="10.5" text-anchor="middle">a</text>
<line x1="545.60" y1="102.50" x2="545.60" y2="105.20" stroke="#888" stroke-width="0.8"/>
<text x="547.10" y="112.70" font-size="10.6" text-anchor="end" transform="rotate(-45 547.10 112.70)">H<tspan font-size="7" dy="2.8">2</tspan><tspan dy="-2.8">O</tspan></text>
<line x1="557.76" y1="67.70" x2="557.76" y2="70.90" stroke="#555" stroke-width="0.6"/>
<line x1="557.76" y1="75.80" x2="557.76" y2="79.60" stroke="#555" stroke-width="0.6"/>
<line x1="555.26" y1="67.70" x2="560.26" y2="67.70" stroke="#555" stroke-width="0.6"/>
<line x1="555.26" y1="79.60" x2="560.26" y2="79.60" stroke="#555" stroke-width="0.6"/>
<rect x="552.76" y="70.90" width="10.00" height="4.90" fill="#fff" stroke="#555" stroke-width="0.6"/>
<line x1="552.76" y1="73.00" x2="562.76" y2="73.00" stroke="#333" stroke-width="0.84"/>
<circle cx="556.6" cy="77.0" r="1.1" fill="none" stroke="#6a6a6a" stroke-width="0.45"/>
<circle cx="557.6" cy="73.3" r="1.1" fill="none" stroke="#6a6a6a" stroke-width="0.45"/>
<circle cx="559.9" cy="79.3" r="1.1" fill="none" stroke="#6a6a6a" stroke-width="0.45"/>
<circle cx="558.0" cy="72.2" r="1.1" fill="none" stroke="#6a6a6a" stroke-width="0.45"/>
<circle cx="560.2" cy="74.9" r="1.1" fill="none" stroke="#6a6a6a" stroke-width="0.45"/>
<circle cx="561.0" cy="75.9" r="1.1" fill="none" stroke="#6a6a6a" stroke-width="0.45"/>
<circle cx="560.1" cy="78.0" r="1.1" fill="none" stroke="#6a6a6a" stroke-width="0.45"/>
<circle cx="558.7" cy="73.5" r="1.1" fill="none" stroke="#6a6a6a" stroke-width="0.45"/>
<circle cx="560.5" cy="73.0" r="1.1" fill="none" stroke="#6a6a6a" stroke-width="0.45"/>
<circle cx="556.0" cy="75.6" r="1.1" fill="none" stroke="#6a6a6a" stroke-width="0.45"/>
<circle cx="558.0" cy="74.1" r="1.1" fill="none" stroke="#6a6a6a" stroke-width="0.45"/>
<circle cx="559.9" cy="70.4" r="1.1" fill="none" stroke="#6a6a6a" stroke-width="0.45"/>
<circle cx="554.0" cy="74.9" r="1.1" fill="none" stroke="#6a6a6a" stroke-width="0.45"/>
<text x="557.76" y="65.60" font-size="10.5" text-anchor="middle">c</text>
<line x1="557.76" y1="102.50" x2="557.76" y2="105.20" stroke="#888" stroke-width="0.8"/>
<text x="559.26" y="112.70" font-size="10.6" text-anchor="end" transform="rotate(-45 559.26 112.70)">4</text>
<line x1="569.92" y1="78.80" x2="569.92" y2="81.40" stroke="#555" stroke-width="0.6"/>
<line x1="569.92" y1="85.30" x2="569.92" y2="88.40" stroke="#555" stroke-width="0.6"/>
<line x1="567.42" y1="78.80" x2="572.42" y2="78.80" stroke="#555" stroke-width="0.6"/>
<line x1="567.42" y1="88.40" x2="572.42" y2="88.40" stroke="#555" stroke-width="0.6"/>
<rect x="564.92" y="81.40" width="10.00" height="3.90" fill="#fff" stroke="#555" stroke-width="0.6"/>
<line x1="564.92" y1="83.00" x2="574.92" y2="83.00" stroke="#333" stroke-width="0.84"/>
<circle cx="567.1" cy="84.5" r="1.1" fill="none" stroke="#6a6a6a" stroke-width="0.45"/>
<circle cx="566.6" cy="83.8" r="1.1" fill="none" stroke="#6a6a6a" stroke-width="0.45"/>
<circle cx="566.8" cy="88.0" r="1.1" fill="none" stroke="#6a6a6a" stroke-width="0.45"/>
<circle cx="569.9" cy="82.6" r="1.1" fill="none" stroke="#6a6a6a" stroke-width="0.45"/>
<circle cx="568.8" cy="82.5" r="1.1" fill="none" stroke="#6a6a6a" stroke-width="0.45"/>
<circle cx="571.0" cy="85.3" r="1.1" fill="none" stroke="#6a6a6a" stroke-width="0.45"/>
<circle cx="567.6" cy="81.4" r="1.1" fill="none" stroke="#6a6a6a" stroke-width="0.45"/>
<circle cx="568.6" cy="82.2" r="1.1" fill="none" stroke="#6a6a6a" stroke-width="0.45"/>
<circle cx="571.6" cy="85.5" r="1.1" fill="none" stroke="#6a6a6a" stroke-width="0.45"/>
<circle cx="569.0" cy="85.5" r="1.1" fill="none" stroke="#6a6a6a" stroke-width="0.45"/>
<circle cx="569.0" cy="84.7" r="1.1" fill="none" stroke="#6a6a6a" stroke-width="0.45"/>
<circle cx="570.7" cy="84.1" r="1.1" fill="none" stroke="#6a6a6a" stroke-width="0.45"/>
<circle cx="572.2" cy="83.8" r="1.1" fill="none" stroke="#6a6a6a" stroke-width="0.45"/>
<text x="569.92" y="77.00" font-size="10.5" text-anchor="middle">de</text>
<line x1="569.92" y1="102.50" x2="569.92" y2="105.20" stroke="#888" stroke-width="0.8"/>
<text x="571.42" y="112.70" font-size="10.6" text-anchor="end" transform="rotate(-45 571.42 112.70)">6<tspan font-size="6.0" dy="-3.4">B</tspan></text>
<line x1="582.08" y1="70.90" x2="582.08" y2="72.30" stroke="#555" stroke-width="0.6"/>
<line x1="582.08" y1="80.50" x2="582.08" y2="84.90" stroke="#555" stroke-width="0.6"/>
<line x1="579.58" y1="70.90" x2="584.58" y2="70.90" stroke="#555" stroke-width="0.6"/>
<line x1="579.58" y1="84.90" x2="584.58" y2="84.90" stroke="#555" stroke-width="0.6"/>
<rect x="577.08" y="72.30" width="10.00" height="8.20" fill="#fff" stroke="#555" stroke-width="0.6"/>
<line x1="577.08" y1="76.00" x2="587.08" y2="76.00" stroke="#333" stroke-width="0.84"/>
<circle cx="583.0" cy="73.0" r="1.1" fill="none" stroke="#6a6a6a" stroke-width="0.45"/>
<circle cx="582.1" cy="73.3" r="1.1" fill="none" stroke="#6a6a6a" stroke-width="0.45"/>
<circle cx="583.6" cy="77.8" r="1.1" fill="none" stroke="#6a6a6a" stroke-width="0.45"/>
<circle cx="581.8" cy="71.7" r="1.1" fill="none" stroke="#6a6a6a" stroke-width="0.45"/>
<circle cx="580.1" cy="79.0" r="1.1" fill="none" stroke="#6a6a6a" stroke-width="0.45"/>
<circle cx="578.8" cy="71.1" r="1.1" fill="none" stroke="#6a6a6a" stroke-width="0.45"/>
<circle cx="581.5" cy="75.2" r="1.1" fill="none" stroke="#6a6a6a" stroke-width="0.45"/>
<circle cx="585.4" cy="70.9" r="1.1" fill="none" stroke="#6a6a6a" stroke-width="0.45"/>
<circle cx="581.1" cy="79.6" r="1.1" fill="none" stroke="#6a6a6a" stroke-width="0.45"/>
<circle cx="580.3" cy="81.4" r="1.1" fill="none" stroke="#6a6a6a" stroke-width="0.45"/>
<circle cx="581.8" cy="72.7" r="1.1" fill="none" stroke="#6a6a6a" stroke-width="0.45"/>
<circle cx="583.3" cy="81.0" r="1.1" fill="none" stroke="#6a6a6a" stroke-width="0.45"/>
<circle cx="585.0" cy="80.9" r="1.1" fill="none" stroke="#6a6a6a" stroke-width="0.45"/>
<text x="582.08" y="68.20" font-size="10.5" text-anchor="middle">cd</text>
<line x1="582.08" y1="102.50" x2="582.08" y2="105.20" stroke="#888" stroke-width="0.8"/>
<text x="583.58" y="112.70" font-size="10.6" text-anchor="end" transform="rotate(-45 583.58 112.70)">8</text>
<line x1="594.24" y1="95.50" x2="594.24" y2="97.20" stroke="#555" stroke-width="0.6"/>
<line x1="594.24" y1="99.80" x2="594.24" y2="100.50" stroke="#555" stroke-width="0.6"/>
<line x1="591.74" y1="95.50" x2="596.74" y2="95.50" stroke="#555" stroke-width="0.6"/>
<line x1="591.74" y1="100.50" x2="596.74" y2="100.50" stroke="#555" stroke-width="0.6"/>
<rect x="589.24" y="97.20" width="10.00" height="2.60" fill="#fff" stroke="#555" stroke-width="0.6"/>
<line x1="589.24" y1="98.50" x2="599.24" y2="98.50" stroke="#333" stroke-width="0.84"/>
<circle cx="596.0" cy="99.0" r="1.1" fill="none" stroke="#6a6a6a" stroke-width="0.45"/>
<circle cx="594.7" cy="96.7" r="1.1" fill="none" stroke="#6a6a6a" stroke-width="0.45"/>
<circle cx="590.5" cy="99.8" r="1.1" fill="none" stroke="#6a6a6a" stroke-width="0.45"/>
<circle cx="591.5" cy="99.5" r="1.1" fill="none" stroke="#6a6a6a" stroke-width="0.45"/>
<circle cx="591.1" cy="98.6" r="1.1" fill="none" stroke="#6a6a6a" stroke-width="0.45"/>
<circle cx="591.2" cy="98.1" r="1.1" fill="none" stroke="#6a6a6a" stroke-width="0.45"/>
<circle cx="590.6" cy="99.1" r="1.1" fill="none" stroke="#6a6a6a" stroke-width="0.45"/>
<circle cx="596.8" cy="98.0" r="1.1" fill="none" stroke="#6a6a6a" stroke-width="0.45"/>
<circle cx="595.6" cy="100.2" r="1.1" fill="none" stroke="#6a6a6a" stroke-width="0.45"/>
<circle cx="596.8" cy="100.2" r="1.1" fill="none" stroke="#6a6a6a" stroke-width="0.45"/>
<circle cx="596.5" cy="100.1" r="1.1" fill="none" stroke="#6a6a6a" stroke-width="0.45"/>
<circle cx="590.7" cy="98.0" r="1.1" fill="none" stroke="#6a6a6a" stroke-width="0.45"/>
<circle cx="595.9" cy="98.7" r="1.1" fill="none" stroke="#6a6a6a" stroke-width="0.45"/>
<text x="594.24" y="91.00" font-size="10.5" text-anchor="middle">g</text>
<line x1="594.24" y1="102.50" x2="594.24" y2="105.20" stroke="#888" stroke-width="0.8"/>
<text x="595.74" y="112.70" font-size="10.6" text-anchor="end" transform="rotate(-45 595.74 112.70)">10<tspan font-size="6.0" dy="-3.4">B</tspan></text>
<line x1="606.40" y1="70.50" x2="606.40" y2="73.50" stroke="#555" stroke-width="0.6"/>
<line x1="606.40" y1="78.80" x2="606.40" y2="81.50" stroke="#555" stroke-width="0.6"/>
<line x1="603.90" y1="70.50" x2="608.90" y2="70.50" stroke="#555" stroke-width="0.6"/>
<line x1="603.90" y1="81.50" x2="608.90" y2="81.50" stroke="#555" stroke-width="0.6"/>
<rect x="601.40" y="73.50" width="10.00" height="5.30" fill="#fff" stroke="#555" stroke-width="0.6"/>
<line x1="601.40" y1="76.00" x2="611.40" y2="76.00" stroke="#333" stroke-width="0.84"/>
<circle cx="603.4" cy="72.9" r="1.1" fill="none" stroke="#6a6a6a" stroke-width="0.45"/>
<circle cx="603.1" cy="76.1" r="1.1" fill="none" stroke="#6a6a6a" stroke-width="0.45"/>
<circle cx="605.1" cy="70.5" r="1.1" fill="none" stroke="#6a6a6a" stroke-width="0.45"/>
<circle cx="604.4" cy="71.4" r="1.1" fill="none" stroke="#6a6a6a" stroke-width="0.45"/>
<circle cx="604.0" cy="74.1" r="1.1" fill="none" stroke="#6a6a6a" stroke-width="0.45"/>
<circle cx="608.3" cy="76.2" r="1.1" fill="none" stroke="#6a6a6a" stroke-width="0.45"/>
<circle cx="605.6" cy="80.0" r="1.1" fill="none" stroke="#6a6a6a" stroke-width="0.45"/>
<circle cx="605.3" cy="74.3" r="1.1" fill="none" stroke="#6a6a6a" stroke-width="0.45"/>
<circle cx="605.8" cy="78.2" r="1.1" fill="none" stroke="#6a6a6a" stroke-width="0.45"/>
<circle cx="610.0" cy="79.0" r="1.1" fill="none" stroke="#6a6a6a" stroke-width="0.45"/>
<circle cx="605.7" cy="77.8" r="1.1" fill="none" stroke="#6a6a6a" stroke-width="0.45"/>
<circle cx="607.9" cy="76.1" r="1.1" fill="none" stroke="#6a6a6a" stroke-width="0.45"/>
<circle cx="608.3" cy="74.5" r="1.1" fill="none" stroke="#6a6a6a" stroke-width="0.45"/>
<text x="606.40" y="67.70" font-size="10.5" text-anchor="middle">cd</text>
<line x1="606.40" y1="102.50" x2="606.40" y2="105.20" stroke="#888" stroke-width="0.8"/>
<text x="607.90" y="112.70" font-size="10.6" text-anchor="end" transform="rotate(-45 607.90 112.70)">12</text>
<line x1="618.56" y1="92.00" x2="618.56" y2="93.80" stroke="#555" stroke-width="0.6"/>
<line x1="618.56" y1="97.30" x2="618.56" y2="98.00" stroke="#555" stroke-width="0.6"/>
<line x1="616.06" y1="92.00" x2="621.06" y2="92.00" stroke="#555" stroke-width="0.6"/>
<line x1="616.06" y1="98.00" x2="621.06" y2="98.00" stroke="#555" stroke-width="0.6"/>
<rect x="613.56" y="93.80" width="10.00" height="3.50" fill="#fff" stroke="#555" stroke-width="0.6"/>
<line x1="613.56" y1="95.50" x2="623.56" y2="95.50" stroke="#333" stroke-width="0.84"/>
<circle cx="618.4" cy="94.7" r="1.1" fill="none" stroke="#6a6a6a" stroke-width="0.45"/>
<circle cx="619.6" cy="93.9" r="1.1" fill="none" stroke="#6a6a6a" stroke-width="0.45"/>
<circle cx="615.5" cy="96.2" r="1.1" fill="none" stroke="#6a6a6a" stroke-width="0.45"/>
<circle cx="620.4" cy="95.0" r="1.1" fill="none" stroke="#6a6a6a" stroke-width="0.45"/>
<circle cx="618.1" cy="97.1" r="1.1" fill="none" stroke="#6a6a6a" stroke-width="0.45"/>
<circle cx="620.2" cy="94.6" r="1.1" fill="none" stroke="#6a6a6a" stroke-width="0.45"/>
<circle cx="616.3" cy="96.0" r="1.1" fill="none" stroke="#6a6a6a" stroke-width="0.45"/>
<circle cx="619.2" cy="96.6" r="1.1" fill="none" stroke="#6a6a6a" stroke-width="0.45"/>
<circle cx="620.0" cy="95.1" r="1.1" fill="none" stroke="#6a6a6a" stroke-width="0.45"/>
<circle cx="622.0" cy="96.6" r="1.1" fill="none" stroke="#6a6a6a" stroke-width="0.45"/>
<circle cx="617.9" cy="94.9" r="1.1" fill="none" stroke="#6a6a6a" stroke-width="0.45"/>
<circle cx="621.2" cy="97.8" r="1.1" fill="none" stroke="#6a6a6a" stroke-width="0.45"/>
<circle cx="616.4" cy="94.5" r="1.1" fill="none" stroke="#6a6a6a" stroke-width="0.45"/>
<text x="618.56" y="87.60" font-size="10.5" text-anchor="middle">f</text>
<line x1="618.56" y1="102.50" x2="618.56" y2="105.20" stroke="#888" stroke-width="0.8"/>
<text x="620.06" y="112.70" font-size="10.6" text-anchor="end" transform="rotate(-45 620.06 112.70)">13</text>
<line x1="630.72" y1="85.00" x2="630.72" y2="86.70" stroke="#555" stroke-width="0.6"/>
<line x1="630.72" y1="90.20" x2="630.72" y2="91.50" stroke="#555" stroke-width="0.6"/>
<line x1="628.22" y1="85.00" x2="633.22" y2="85.00" stroke="#555" stroke-width="0.6"/>
<line x1="628.22" y1="91.50" x2="633.22" y2="91.50" stroke="#555" stroke-width="0.6"/>
<rect x="625.72" y="86.70" width="10.00" height="3.50" fill="#fff" stroke="#555" stroke-width="0.6"/>
<line x1="625.72" y1="88.50" x2="635.72" y2="88.50" stroke="#333" stroke-width="0.84"/>
<circle cx="627.1" cy="87.8" r="1.1" fill="none" stroke="#6a6a6a" stroke-width="0.45"/>
<circle cx="628.2" cy="86.9" r="1.1" fill="none" stroke="#6a6a6a" stroke-width="0.45"/>
<circle cx="629.7" cy="88.7" r="1.1" fill="none" stroke="#6a6a6a" stroke-width="0.45"/>
<circle cx="628.0" cy="87.2" r="1.1" fill="none" stroke="#6a6a6a" stroke-width="0.45"/>
<circle cx="634.5" cy="91.0" r="1.1" fill="none" stroke="#6a6a6a" stroke-width="0.45"/>
<circle cx="630.5" cy="86.3" r="1.1" fill="none" stroke="#6a6a6a" stroke-width="0.45"/>
<circle cx="633.3" cy="88.7" r="1.1" fill="none" stroke="#6a6a6a" stroke-width="0.45"/>
<circle cx="630.6" cy="89.4" r="1.1" fill="none" stroke="#6a6a6a" stroke-width="0.45"/>
<circle cx="632.4" cy="86.6" r="1.1" fill="none" stroke="#6a6a6a" stroke-width="0.45"/>
<circle cx="632.5" cy="89.5" r="1.1" fill="none" stroke="#6a6a6a" stroke-width="0.45"/>
<circle cx="634.2" cy="87.2" r="1.1" fill="none" stroke="#6a6a6a" stroke-width="0.45"/>
<circle cx="628.7" cy="87.3" r="1.1" fill="none" stroke="#6a6a6a" stroke-width="0.45"/>
<circle cx="632.4" cy="88.7" r="1.1" fill="none" stroke="#6a6a6a" stroke-width="0.45"/>
<text x="630.72" y="82.30" font-size="10.5" text-anchor="middle">e</text>
<line x1="630.72" y1="102.50" x2="630.72" y2="105.20" stroke="#888" stroke-width="0.8"/>
<text x="632.22" y="112.70" font-size="10.6" text-anchor="end" transform="rotate(-45 632.22 112.70)">14</text>
<line x1="642.88" y1="50.70" x2="642.88" y2="54.20" stroke="#555" stroke-width="0.6"/>
<line x1="642.88" y1="58.60" x2="642.88" y2="63.00" stroke="#555" stroke-width="0.6"/>
<line x1="640.38" y1="50.70" x2="645.38" y2="50.70" stroke="#555" stroke-width="0.6"/>
<line x1="640.38" y1="63.00" x2="645.38" y2="63.00" stroke="#555" stroke-width="0.6"/>
<rect x="637.88" y="54.20" width="10.00" height="4.40" fill="#fff" stroke="#555" stroke-width="0.6"/>
<line x1="637.88" y1="56.40" x2="647.88" y2="56.40" stroke="#333" stroke-width="0.84"/>
<circle cx="645.6" cy="52.9" r="1.1" fill="none" stroke="#6a6a6a" stroke-width="0.45"/>
<circle cx="640.9" cy="50.7" r="1.1" fill="none" stroke="#6a6a6a" stroke-width="0.45"/>
<circle cx="640.5" cy="57.3" r="1.1" fill="none" stroke="#6a6a6a" stroke-width="0.45"/>
<circle cx="644.4" cy="58.6" r="1.1" fill="none" stroke="#6a6a6a" stroke-width="0.45"/>
<circle cx="641.0" cy="60.6" r="1.1" fill="none" stroke="#6a6a6a" stroke-width="0.45"/>
<circle cx="645.7" cy="51.3" r="1.1" fill="none" stroke="#6a6a6a" stroke-width="0.45"/>
<circle cx="644.6" cy="55.1" r="1.1" fill="none" stroke="#6a6a6a" stroke-width="0.45"/>
<circle cx="639.7" cy="59.4" r="1.1" fill="none" stroke="#6a6a6a" stroke-width="0.45"/>
<circle cx="641.3" cy="61.3" r="1.1" fill="none" stroke="#6a6a6a" stroke-width="0.45"/>
<circle cx="641.8" cy="59.6" r="1.1" fill="none" stroke="#6a6a6a" stroke-width="0.45"/>
<circle cx="639.1" cy="52.4" r="1.1" fill="none" stroke="#6a6a6a" stroke-width="0.45"/>
<circle cx="641.6" cy="54.2" r="1.1" fill="none" stroke="#6a6a6a" stroke-width="0.45"/>
<circle cx="640.7" cy="53.1" r="1.1" fill="none" stroke="#6a6a6a" stroke-width="0.45"/>
<text x="642.88" y="48.10" font-size="10.5" text-anchor="middle">b</text>
<line x1="642.88" y1="102.50" x2="642.88" y2="105.20" stroke="#888" stroke-width="0.8"/>
<text x="644.38" y="112.70" font-size="10.6" text-anchor="end" transform="rotate(-45 644.38 112.70)">15<tspan font-size="6.0" dy="-3.4">B</tspan></text>
<line x1="655.04" y1="72.00" x2="655.04" y2="74.10" stroke="#555" stroke-width="0.6"/>
<line x1="655.04" y1="81.10" x2="655.04" y2="84.00" stroke="#555" stroke-width="0.6"/>
<line x1="652.54" y1="72.00" x2="657.54" y2="72.00" stroke="#555" stroke-width="0.6"/>
<line x1="652.54" y1="84.00" x2="657.54" y2="84.00" stroke="#555" stroke-width="0.6"/>
<rect x="650.04" y="74.10" width="10.00" height="7.00" fill="#fff" stroke="#555" stroke-width="0.6"/>
<line x1="650.04" y1="77.50" x2="660.04" y2="77.50" stroke="#333" stroke-width="0.84"/>
<circle cx="655.7" cy="78.9" r="1.1" fill="none" stroke="#6a6a6a" stroke-width="0.45"/>
<circle cx="655.4" cy="80.5" r="1.1" fill="none" stroke="#6a6a6a" stroke-width="0.45"/>
<circle cx="652.1" cy="76.8" r="1.1" fill="none" stroke="#6a6a6a" stroke-width="0.45"/>
<circle cx="652.1" cy="76.9" r="1.1" fill="none" stroke="#6a6a6a" stroke-width="0.45"/>
<circle cx="658.0" cy="82.0" r="1.1" fill="none" stroke="#6a6a6a" stroke-width="0.45"/>
<circle cx="658.4" cy="78.7" r="1.1" fill="none" stroke="#6a6a6a" stroke-width="0.45"/>
<circle cx="654.1" cy="76.9" r="1.1" fill="none" stroke="#6a6a6a" stroke-width="0.45"/>
<circle cx="653.5" cy="78.3" r="1.1" fill="none" stroke="#6a6a6a" stroke-width="0.45"/>
<circle cx="656.4" cy="72.6" r="1.1" fill="none" stroke="#6a6a6a" stroke-width="0.45"/>
<circle cx="653.3" cy="74.5" r="1.1" fill="none" stroke="#6a6a6a" stroke-width="0.45"/>
<circle cx="657.0" cy="73.1" r="1.1" fill="none" stroke="#6a6a6a" stroke-width="0.45"/>
<circle cx="655.3" cy="82.0" r="1.1" fill="none" stroke="#6a6a6a" stroke-width="0.45"/>
<circle cx="652.1" cy="76.5" r="1.1" fill="none" stroke="#6a6a6a" stroke-width="0.45"/>
<text x="655.04" y="69.50" font-size="10.5" text-anchor="middle">cd</text>
<line x1="655.04" y1="102.50" x2="655.04" y2="105.20" stroke="#888" stroke-width="0.8"/>
<text x="656.54" y="112.70" font-size="10.6" text-anchor="end" transform="rotate(-45 656.54 112.70)">20</text>
<line x1="667.20" y1="71.80" x2="667.20" y2="76.20" stroke="#555" stroke-width="0.6"/>
<line x1="667.20" y1="81.50" x2="667.20" y2="85.00" stroke="#555" stroke-width="0.6"/>
<line x1="664.70" y1="71.80" x2="669.70" y2="71.80" stroke="#555" stroke-width="0.6"/>
<line x1="664.70" y1="85.00" x2="669.70" y2="85.00" stroke="#555" stroke-width="0.6"/>
<rect x="662.20" y="76.20" width="10.00" height="5.30" fill="#fff" stroke="#555" stroke-width="0.6"/>
<line x1="662.20" y1="79.00" x2="672.20" y2="79.00" stroke="#333" stroke-width="0.84"/>
<circle cx="668.9" cy="75.8" r="1.1" fill="none" stroke="#6a6a6a" stroke-width="0.45"/>
<circle cx="668.6" cy="79.0" r="1.1" fill="none" stroke="#6a6a6a" stroke-width="0.45"/>
<circle cx="668.3" cy="76.9" r="1.1" fill="none" stroke="#6a6a6a" stroke-width="0.45"/>
<circle cx="668.2" cy="78.0" r="1.1" fill="none" stroke="#6a6a6a" stroke-width="0.45"/>
<circle cx="668.4" cy="81.8" r="1.1" fill="none" stroke="#6a6a6a" stroke-width="0.45"/>
<circle cx="664.3" cy="85.0" r="1.1" fill="none" stroke="#6a6a6a" stroke-width="0.45"/>
<circle cx="665.9" cy="80.5" r="1.1" fill="none" stroke="#6a6a6a" stroke-width="0.45"/>
<circle cx="668.9" cy="78.1" r="1.1" fill="none" stroke="#6a6a6a" stroke-width="0.45"/>
<circle cx="668.3" cy="75.4" r="1.1" fill="none" stroke="#6a6a6a" stroke-width="0.45"/>
<circle cx="666.9" cy="76.4" r="1.1" fill="none" stroke="#6a6a6a" stroke-width="0.45"/>
<circle cx="663.9" cy="78.1" r="1.1" fill="none" stroke="#6a6a6a" stroke-width="0.45"/>
<circle cx="668.8" cy="80.7" r="1.1" fill="none" stroke="#6a6a6a" stroke-width="0.45"/>
<circle cx="669.0" cy="79.0" r="1.1" fill="none" stroke="#6a6a6a" stroke-width="0.45"/>
<text x="667.20" y="69.20" font-size="10.5" text-anchor="middle">d</text>
<line x1="667.20" y1="102.50" x2="667.20" y2="105.20" stroke="#888" stroke-width="0.8"/>
<text x="668.70" y="112.70" font-size="10.6" text-anchor="end" transform="rotate(-45 668.70 112.70)">23</text>
<line x1="679.36" y1="36.70" x2="679.36" y2="40.20" stroke="#555" stroke-width="0.6"/>
<line x1="679.36" y1="45.50" x2="679.36" y2="48.10" stroke="#555" stroke-width="0.6"/>
<line x1="676.86" y1="36.70" x2="681.86" y2="36.70" stroke="#555" stroke-width="0.6"/>
<line x1="676.86" y1="48.10" x2="681.86" y2="48.10" stroke="#555" stroke-width="0.6"/>
<rect x="674.36" y="40.20" width="10.00" height="5.30" fill="#fff" stroke="#555" stroke-width="0.6"/>
<line x1="674.36" y1="42.80" x2="684.36" y2="42.80" stroke="#333" stroke-width="0.84"/>
<circle cx="678.3" cy="39.3" r="1.1" fill="none" stroke="#6a6a6a" stroke-width="0.45"/>
<circle cx="682.2" cy="42.6" r="1.1" fill="none" stroke="#6a6a6a" stroke-width="0.45"/>
<circle cx="675.9" cy="45.6" r="1.1" fill="none" stroke="#6a6a6a" stroke-width="0.45"/>
<circle cx="681.4" cy="40.7" r="1.1" fill="none" stroke="#6a6a6a" stroke-width="0.45"/>
<circle cx="678.3" cy="42.8" r="1.1" fill="none" stroke="#6a6a6a" stroke-width="0.45"/>
<circle cx="679.7" cy="41.4" r="1.1" fill="none" stroke="#6a6a6a" stroke-width="0.45"/>
<circle cx="681.4" cy="45.4" r="1.1" fill="none" stroke="#6a6a6a" stroke-width="0.45"/>
<circle cx="676.4" cy="39.5" r="1.1" fill="none" stroke="#6a6a6a" stroke-width="0.45"/>
<circle cx="677.6" cy="47.3" r="1.1" fill="none" stroke="#6a6a6a" stroke-width="0.45"/>
<circle cx="681.5" cy="44.0" r="1.1" fill="none" stroke="#6a6a6a" stroke-width="0.45"/>
<circle cx="681.1" cy="43.7" r="1.1" fill="none" stroke="#6a6a6a" stroke-width="0.45"/>
<circle cx="678.7" cy="43.6" r="1.1" fill="none" stroke="#6a6a6a" stroke-width="0.45"/>
<circle cx="681.2" cy="44.5" r="1.1" fill="none" stroke="#6a6a6a" stroke-width="0.45"/>
<text x="679.36" y="33.70" font-size="10.5" text-anchor="middle">a</text>
<line x1="679.36" y1="102.50" x2="679.36" y2="105.20" stroke="#888" stroke-width="0.8"/>
<text x="680.86" y="112.70" font-size="10.6" text-anchor="end" transform="rotate(-45 680.86 112.70)">STMP4</text>
<line x1="550.70" y1="126.00" x2="655.00" y2="126.00" stroke="#888" stroke-width="0.9"/>
<text x="606.00" y="138.20" font-size="10" text-anchor="middle">SCOOP</text>
<text x="196.80" y="228.50" font-size="11.5" fill="#000" font-weight="bold">e</text>
<rect x="208.20" y="249.20" width="22.80" height="56.60" fill="#dadade"/>
<text x="219.90" y="244.10" font-size="10" text-anchor="middle">H<tspan font-size="7" dy="2.8">2</tspan><tspan dy="-2.8">O</tspan></text>
<rect x="233.10" y="249.20" width="25.80" height="56.60" fill="#dadade"/>
<text x="246.70" y="246.70" font-size="10" text-anchor="middle">10<tspan font-size="6.5" dy="-3.6">B</tspan></text>
<rect x="261.00" y="249.20" width="23.20" height="56.60" fill="#dadade"/>
<text x="273.10" y="246.70" font-size="10" text-anchor="middle">12</text>
<rect x="286.60" y="249.20" width="22.30" height="56.60" fill="#dadade"/>
<text x="298.25" y="246.70" font-size="10" text-anchor="middle">13</text>
<rect x="311.40" y="249.20" width="23.00" height="56.60" fill="#dadade"/>
<text x="323.40" y="246.70" font-size="10" text-anchor="middle">14</text>
<rect x="208.20" y="249.20" width="22.80" height="56.60" fill="#c6c8c8"/>
<path d="M214,249.2 L224,249.2 L223.5,294 Q219.5,305 215,294 Z" fill="#cdcecc" opacity="0.9"/>
<defs><linearGradient id="e10bg" x1="0" y1="0" x2="1" y2="0"><stop offset="0" stop-color="#b8bccc"/><stop offset="0.6" stop-color="#ccced8"/><stop offset="1" stop-color="#dcdce2"/></linearGradient><linearGradient id="e10" x1="0" y1="0" x2="0" y2="1"><stop offset="0" stop-color="#c4c2aa"/><stop offset="0.7" stop-color="#b8b08c"/><stop offset="1" stop-color="#948050"/></linearGradient></defs>
<rect x="233.10" y="249.20" width="25.80" height="56.60" fill="url(#e10bg)"/>
<path d="M236,249.2 L240,249.2 L243,268 L238,270 Z" fill="#7880b8" opacity="0.6"/>
<path d="M242,249.2 L252,249.2 L252,276 L253,283 L249,289 L246,296 L236,300 L234.5,294 L241,285 L244,277 Z" fill="url(#e10)"/>
<ellipse cx="241" cy="299.5" rx="5.5" ry="4.2" fill="#5a3418"/>
<ellipse cx="243" cy="300" rx="3" ry="2.6" fill="#3a1a30"/>
<rect x="261.00" y="249.20" width="23.20" height="56.60" fill="#d0d2d4"/>
<path d="M268,249.2 L278,249.2 L278.5,292 Q275,305 270.5,300 L269,270 Z" fill="#dcdcdc"/>
<ellipse cx="273" cy="286.5" rx="3" ry="2.4" fill="#c8b46a" opacity="0.7"/>
<rect x="286.60" y="249.20" width="22.30" height="56.60" fill="#d0d2d6"/>
<defs><linearGradient id="e13" x1="0" y1="0" x2="0" y2="1"><stop offset="0" stop-color="#bcb89c"/><stop offset="0.45" stop-color="#a89e76"/><stop offset="0.55" stop-color="#76602a"/><stop offset="0.85" stop-color="#4a2a10"/><stop offset="1" stop-color="#7a5a38"/></linearGradient></defs>
<path d="M295,249.2 L305,249.2 L301,270 L301,297 Q298,303 294.5,299 L292.2,278 L294,262 Z" fill="url(#e13)"/>
<line x1="292.40" y1="279.00" x2="293.80" y2="299.00" stroke="#c8c040" stroke-width="0.8"/>
<rect x="311.40" y="249.20" width="23.00" height="56.60" fill="#d4d4d8"/>
<path d="M313,249.2 L333,249.2 L331,262 L328,278 L312,278 Z" fill="#c8c6d0" opacity="0.6"/>
<path d="M319.5,249.2 L330,249.2 L327.5,285 L327,300 Q324,305 320,300 L318,280 Z" fill="#d8d8dc"/>
<ellipse cx="323" cy="296" rx="3" ry="4" fill="#c8c090" opacity="0.6"/>
<circle cx="324.5" cy="302.2" r="1" fill="#302050"/>
<line x1="227.70" y1="293.80" x2="227.70" y2="302.80" stroke="#555" stroke-width="0.9"/>
<line x1="255.60" y1="293.80" x2="255.60" y2="302.80" stroke="#555" stroke-width="0.9"/>
<line x1="280.90" y1="293.80" x2="280.90" y2="302.80" stroke="#555" stroke-width="0.9"/>
<line x1="305.60" y1="293.80" x2="305.60" y2="302.80" stroke="#555" stroke-width="0.9"/>
<line x1="331.10" y1="293.80" x2="331.10" y2="302.80" stroke="#555" stroke-width="0.9"/>
<path d="M250.5,291.0 L247.2,292.3 L250.5,293.6 Z" fill="#000"/>
<path d="M265.7,284.1 L269.0,285.4 L265.7,286.7 Z" fill="#000"/>
<path d="M289.7,289.0 L293.0,290.3 L289.7,291.6 Z" fill="#000"/>
<path d="M316.9,294.0 L320.2,295.3 L316.9,296.6 Z" fill="#000"/>
<line x1="236.00" y1="235.40" x2="331.00" y2="235.40" stroke="#777" stroke-width="0.8"/>
<text x="285.30" y="233.40" font-size="10" text-anchor="middle">SCOOP</text>
<text x="349.00" y="228.60" font-size="11.5" fill="#000" font-weight="bold">f</text>
<defs><radialGradient id="fr" cx="0.5" cy="0.4" r="0.65"><stop offset="0" stop-color="#280000"/><stop offset="0.7" stop-color="#480000"/><stop offset="1" stop-color="#900000"/></radialGradient><pattern id="cells" width="3" height="4" patternUnits="userSpaceOnUse"><rect width="3" height="4" fill="none" stroke="#d00000" stroke-width="0.4" opacity="0.75"/></pattern></defs>
<rect x="358.40" y="248.50" width="23.60" height="55.80" fill="#030000"/>
<clipPath id="fc0"><rect x="358.40" y="248.5" width="23.60" height="55.80"/></clipPath>
<g clip-path="url(#fc0)">
<path d="M358.9,246.5 L381.5,246.5 L380.5,286.3 Q378.0,303.3 369.2,303.8 Q361.4,301.3 359.4,284.3 Z" fill="url(#fr)"/>
<path d="M358.9,246.5 L381.5,246.5 L380.5,286.3 Q378.0,303.3 369.2,303.8 Q361.4,301.3 359.4,284.3 Z" fill="url(#cells)"/>
<path d="M358.9,246.5 L381.5,246.5 L380.5,286.3 Q378.0,303.3 369.2,303.8 Q361.4,301.3 359.4,284.3 Z" fill="none" stroke="#ff1414" stroke-width="1.4"/>
<path d="M358.9,246.5 L381.5,246.5 L380.5,286.3 Q378.0,303.3 369.2,303.8 Q361.4,301.3 359.4,284.3 Z" fill="none" stroke="#c00000" stroke-width="0.8" transform="translate(370.2 248.5) scale(0.78 0.9) translate(-370.2 -248.5)" opacity="0.9"/>
</g>
<text x="371.20" y="244.30" font-size="10" text-anchor="middle">H<tspan font-size="7" dy="2.8">2</tspan><tspan dy="-2.8">O</tspan></text>
<rect x="383.90" y="248.50" width="23.60" height="55.80" fill="#030000"/>
<clipPath id="fc1"><rect x="383.90" y="248.5" width="23.60" height="55.80"/></clipPath>
<g clip-path="url(#fc1)">
<path d="M384.9,250.5 Q391.9,247.5 400.5,246.5 L404.5,256.5 L405.5,288.3 Q402.5,303.8 395.7,303.8 Q386.9,300.3 384.9,282.3 Z" fill="url(#fr)"/>
<path d="M384.9,250.5 Q391.9,247.5 400.5,246.5 L404.5,256.5 L405.5,288.3 Q402.5,303.8 395.7,303.8 Q386.9,300.3 384.9,282.3 Z" fill="url(#cells)"/>
<path d="M384.9,250.5 Q391.9,247.5 400.5,246.5 L404.5,256.5 L405.5,288.3 Q402.5,303.8 395.7,303.8 Q386.9,300.3 384.9,282.3 Z" fill="none" stroke="#ff1414" stroke-width="1.4"/>
<path d="M384.9,250.5 Q391.9,247.5 400.5,246.5 L404.5,256.5 L405.5,288.3 Q402.5,303.8 395.7,303.8 Q386.9,300.3 384.9,282.3 Z" fill="none" stroke="#c00000" stroke-width="0.8" transform="translate(395.7 248.5) scale(0.78 0.9) translate(-395.7 -248.5)" opacity="0.9"/>
</g>
<text x="397.20" y="246.70" font-size="10" text-anchor="middle">10<tspan font-size="6.5" dy="-3.6">B</tspan></text>
<rect x="409.80" y="248.50" width="22.50" height="55.80" fill="#030000"/>
<clipPath id="fc2"><rect x="409.80" y="248.5" width="22.50" height="55.80"/></clipPath>
<g clip-path="url(#fc2)">
<path d="M410.3,246.5 L431.3,246.5 L430.8,286.3 Q428.3,303.3 421.1,303.8 Q412.8,301.3 410.8,284.3 Z" fill="url(#fr)"/>
<path d="M410.3,246.5 L431.3,246.5 L430.8,286.3 Q428.3,303.3 421.1,303.8 Q412.8,301.3 410.8,284.3 Z" fill="url(#cells)"/>
<path d="M410.3,246.5 L431.3,246.5 L430.8,286.3 Q428.3,303.3 421.1,303.8 Q412.8,301.3 410.8,284.3 Z" fill="none" stroke="#ff1414" stroke-width="1.4"/>
<path d="M410.3,246.5 L431.3,246.5 L430.8,286.3 Q428.3,303.3 421.1,303.8 Q412.8,301.3 410.8,284.3 Z" fill="none" stroke="#c00000" stroke-width="0.8" transform="translate(421.1 248.5) scale(0.78 0.9) translate(-421.1 -248.5)" opacity="0.9"/>
</g>
<text x="420.55" y="246.70" font-size="10" text-anchor="middle">12</text>
<rect x="434.30" y="248.50" width="25.30" height="55.80" fill="#030000"/>
<clipPath id="fc3"><rect x="434.30" y="248.5" width="25.30" height="55.80"/></clipPath>
<g clip-path="url(#fc3)">
<path d="M440.3,246.5 L459.1,246.5 L457.6,268.5 L456.6,292.3 Q453.6,303.8 450.0,303.8 Q436.3,296.3 434.8,276.3 Q435.3,258.5 440.3,246.5 Z" fill="url(#fr)"/>
<path d="M440.3,246.5 L459.1,246.5 L457.6,268.5 L456.6,292.3 Q453.6,303.8 450.0,303.8 Q436.3,296.3 434.8,276.3 Q435.3,258.5 440.3,246.5 Z" fill="url(#cells)"/>
<path d="M440.3,246.5 L459.1,246.5 L457.6,268.5 L456.6,292.3 Q453.6,303.8 450.0,303.8 Q436.3,296.3 434.8,276.3 Q435.3,258.5 440.3,246.5 Z" fill="none" stroke="#ff1414" stroke-width="1.4"/>
<path d="M440.3,246.5 L459.1,246.5 L457.6,268.5 L456.6,292.3 Q453.6,303.8 450.0,303.8 Q436.3,296.3 434.8,276.3 Q435.3,258.5 440.3,246.5 Z" fill="none" stroke="#c00000" stroke-width="0.8" transform="translate(447.0 248.5) scale(0.78 0.9) translate(-447.0 -248.5)" opacity="0.9"/>
</g>
<text x="447.55" y="246.70" font-size="10" text-anchor="middle">13</text>
<rect x="462.00" y="248.50" width="22.00" height="55.80" fill="#030000"/>
<clipPath id="fc4"><rect x="462.00" y="248.5" width="22.00" height="55.80"/></clipPath>
<g clip-path="url(#fc4)">
<path d="M463.0,246.5 L483.0,246.5 L482.5,286.3 Q480.0,303.3 474.0,303.8 Q465.0,301.3 463.5,284.3 Z" fill="url(#fr)"/>
<path d="M463.0,246.5 L483.0,246.5 L482.5,286.3 Q480.0,303.3 474.0,303.8 Q465.0,301.3 463.5,284.3 Z" fill="url(#cells)"/>
<path d="M463.0,246.5 L483.0,246.5 L482.5,286.3 Q480.0,303.3 474.0,303.8 Q465.0,301.3 463.5,284.3 Z" fill="none" stroke="#ff1414" stroke-width="1.4"/>
<path d="M463.0,246.5 L483.0,246.5 L482.5,286.3 Q480.0,303.3 474.0,303.8 Q465.0,301.3 463.5,284.3 Z" fill="none" stroke="#c00000" stroke-width="0.8" transform="translate(473.0 248.5) scale(0.78 0.9) translate(-473.0 -248.5)" opacity="0.9"/>
</g>
<text x="473.60" y="246.70" font-size="10" text-anchor="middle">14</text>
<ellipse cx="474" cy="301.5" rx="3.6" ry="2.6" fill="#ff2020"/>
<path d="M381.6,250.1 L379.0,251.5 L381.6,252.9 Z" fill="#fff"/>
<path d="M406.9,254.1 L404.3,255.5 L406.9,256.9 Z" fill="#fff"/>
<path d="M431.9,260.1 L429.3,261.5 L431.9,262.9 Z" fill="#fff"/>
<path d="M437.4,266.6 L440.0,268.0 L437.4,269.4 Z" fill="#fff"/>
<path d="M483.4,259.6 L480.8,261.0 L483.4,262.4 Z" fill="#fff"/>
<line x1="390.90" y1="234.40" x2="483.40" y2="234.40" stroke="#777" stroke-width="0.8"/>
<text x="439.20" y="233.40" font-size="10" text-anchor="middle">SCOOP</text>
<text x="502.30" y="142.80" font-size="11.5" fill="#000" font-weight="bold">g</text>
<text x="516.00" y="154.20" font-size="10">×10<tspan font-size="7" dy="-4.2">4</tspan></text>
<line x1="539.40" y1="162.60" x2="539.40" y2="236.00" stroke="#888" stroke-width="0.8"/>
<line x1="536.40" y1="162.60" x2="539.40" y2="162.60" stroke="#888" stroke-width="0.8"/>
<text x="534.00" y="166.80" font-size="10" text-anchor="end">40</text>
<line x1="536.40" y1="180.95" x2="539.40" y2="180.95" stroke="#888" stroke-width="0.8"/>
<text x="534.00" y="185.15" font-size="10" text-anchor="end">30</text>
<line x1="536.40" y1="199.30" x2="539.40" y2="199.30" stroke="#888" stroke-width="0.8"/>
<text x="534.00" y="203.50" font-size="10" text-anchor="end">20</text>
<line x1="536.40" y1="217.65" x2="539.40" y2="217.65" stroke="#888" stroke-width="0.8"/>
<text x="534.00" y="221.85" font-size="10" text-anchor="end">10</text>
<line x1="536.40" y1="236.00" x2="539.40" y2="236.00" stroke="#888" stroke-width="0.8"/>
<text x="534.00" y="240.20" font-size="10" text-anchor="end">0</text>
<line x1="539.40" y1="236.00" x2="636.00" y2="236.00" stroke="#888" stroke-width="0.8"/>
<line x1="539.40" y1="236.00" x2="539.40" y2="238.80" stroke="#888" stroke-width="0.8"/>
<text x="543.40" y="245.00" font-size="10" text-anchor="end" transform="rotate(-45 543.40 245.00)">20</text>
<line x1="555.50" y1="236.00" x2="555.50" y2="238.80" stroke="#888" stroke-width="0.8"/>
<text x="559.50" y="245.00" font-size="10" text-anchor="end" transform="rotate(-45 559.50 245.00)">80</text>
<line x1="571.60" y1="236.00" x2="571.60" y2="238.80" stroke="#888" stroke-width="0.8"/>
<text x="575.60" y="245.00" font-size="10" text-anchor="end" transform="rotate(-45 575.60 245.00)">140</text>
<line x1="587.70" y1="236.00" x2="587.70" y2="238.80" stroke="#888" stroke-width="0.8"/>
<text x="591.70" y="245.00" font-size="10" text-anchor="end" transform="rotate(-45 591.70 245.00)">200</text>
<line x1="603.80" y1="236.00" x2="603.80" y2="238.80" stroke="#888" stroke-width="0.8"/>
<text x="607.80" y="245.00" font-size="10" text-anchor="end" transform="rotate(-45 607.80 245.00)">260</text>
<line x1="619.90" y1="236.00" x2="619.90" y2="238.80" stroke="#888" stroke-width="0.8"/>
<text x="623.90" y="245.00" font-size="10" text-anchor="end" transform="rotate(-45 623.90 245.00)">320</text>
<line x1="636.00" y1="236.00" x2="636.00" y2="238.80" stroke="#888" stroke-width="0.8"/>
<text x="640.00" y="245.00" font-size="10" text-anchor="end" transform="rotate(-45 640.00 245.00)">380</text>
<text x="589.40" y="269.70" font-size="10" text-anchor="middle">Time (s)</text>
<text x="517.20" y="199.80" font-size="10.4" text-anchor="middle" transform="rotate(-90 517.20 199.80)">Ca<tspan font-size="6.8" dy="-3.9">2+</tspan><tspan dy="3.9"> burst (RLU)</tspan></text>
<polygon points="539.4,227.3 542.9,202.7 545.5,185.1 548.2,182.5 550.8,185.1 552.6,187.8 554.3,183.4 557.0,176.3 561.3,175.5 564.9,178.1 567.5,183.4 570.1,192.1 572.8,202.7 577.1,213.2 584.2,222.0 596.5,227.3 636.0,230.8 636.0,232.5 596.5,229.9 580.7,223.7 573.6,216.7 568.4,208.0 563.1,202.7 557.8,202.7 554.3,206.2 550.8,208.0 547.3,208.0 543.8,216.7 539.4,230.8" fill="#d4ebb4" opacity="0.75"/>
<polygon points="539.4,226.0 544.7,208.0 548.2,198.0 551.7,201.0 555.2,198.0 560.5,197.0 564.9,199.0 570.1,203.0 577.1,211.0 585.9,218.0 596.5,224.0 636.0,229.5 636.0,232.5 587.7,230.8 575.4,229.0 570.1,223.7 561.3,215.0 552.6,218.5 548.2,214.0 544.7,218.0 539.4,231.0" fill="#f2b8bc" opacity="0.55"/>
<polygon points="539.4,223.0 552.0,223.0 561.3,220.0 570.1,209.7 577.1,204.4 582.4,203.6 587.7,206.2 593.0,216.7 600.0,223.7 614.0,228.1 636.0,229.9 636.0,232.2 596.5,229.0 587.7,225.5 578.9,220.2 570.1,220.2 561.3,227.0 552.0,229.0 539.4,229.0" fill="#d2c0e6" opacity="0.6"/>
<polygon points="539.4,220.2 552.6,220.2 564.9,216.7 571.9,209.7 577.1,208.8 584.2,220.2 596.5,226.0 636.0,229.5 636.0,232.2 596.5,229.9 584.2,227.3 573.6,220.2 564.9,227.3 552.6,229.9 539.4,230.8" fill="#b4e0f0" opacity="0.6"/>
<polygon points="539.4,229.9 549.0,231.0 561.3,232.6 587.7,234.0 636.0,234.6 636.0,236.0 587.7,236.0 561.3,235.4 549.0,234.2 539.4,233.5" fill="#9a9a9a" opacity="0.6"/>
<polyline points="539.4,228.1 543.8,211.5 547.3,199.2 549.0,197.4 552.6,200.9 557.8,193.9 560.5,191.3 564.0,193.0 568.4,199.2 571.9,206.2 577.1,215.0 584.2,222.0 593.0,227.3 605.2,229.9 636.0,231.1" fill="none" stroke="#8cc46a" stroke-width="0.8" opacity="1"/>
<polyline points="539.4,228.1 544.7,213.2 548.2,202.7 551.7,205.3 555.2,202.7 560.5,201.8 564.9,204.4 570.1,209.7 577.1,216.7 585.9,222.0 596.5,226.4 636.0,230.8" fill="none" stroke="#e06868" stroke-width="0.8" opacity="1"/>
<polyline points="539.4,225.5 552.6,226.4 561.3,223.7 568.4,216.7 572.8,211.5 577.1,210.6 580.7,212.3 584.2,215.0 587.7,218.5 593.0,223.7 601.7,228.1 614.0,229.9 636.0,231.1" fill="none" stroke="#a070c8" stroke-width="0.8" opacity="1"/>
<polyline points="539.4,226.4 545.5,224.6 552.6,227.3 559.6,226.4 564.9,222.0 570.1,215.0 573.6,211.5 576.3,212.3 580.7,218.5 587.7,225.5 596.5,228.1 636.0,231.1" fill="none" stroke="#40b4e4" stroke-width="0.8" opacity="1"/>
<polyline points="539.4,231.1 549.0,232.5 561.3,234.0 587.7,235.2 636.0,235.7" fill="none" stroke="#444" stroke-width="0.8" opacity="1"/>
<line x1="584.50" y1="157.90" x2="593.00" y2="157.90" stroke="#666" stroke-width="0.9"/>
<text x="594.30" y="161.70" font-size="10.5">H<tspan font-size="6.5" dy="1.8">2</tspan><tspan dy="-1.8">O</tspan></text>
<line x1="584.50" y1="169.00" x2="593.00" y2="169.00" stroke="#e06060" stroke-width="0.9"/>
<text x="594.30" y="172.80" font-size="10.5">SCOOP10<tspan font-size="7" dy="-3.8">B</tspan></text>
<line x1="584.50" y1="180.10" x2="593.00" y2="180.10" stroke="#90c070" stroke-width="0.9"/>
<text x="594.30" y="183.90" font-size="10.5">SCOOP12</text>
<line x1="584.50" y1="191.20" x2="593.00" y2="191.20" stroke="#a070c8" stroke-width="0.9"/>
<text x="594.30" y="195.00" font-size="10.5">SCOOP13</text>
<line x1="584.50" y1="202.30" x2="593.00" y2="202.30" stroke="#40b0e0" stroke-width="0.9"/>
<text x="594.30" y="206.10" font-size="10.5">SCOOP14</text>
<text x="0.50" y="358.30" font-size="11.5" fill="#000" font-weight="bold">h</text>
<text x="15.40" y="362.90" font-size="10">×10<tspan font-size="7" dy="-4.2">6</tspan></text>
<line x1="42.90" y1="370.00" x2="42.90" y2="469.50" stroke="#888" stroke-width="0.8"/>
<line x1="37.60" y1="369.90" x2="42.90" y2="369.90" stroke="#888" stroke-width="0.8"/>
<text x="27.30" y="374.40" font-size="10" text-anchor="middle">12</text>
<line x1="37.60" y1="403.10" x2="42.90" y2="403.10" stroke="#888" stroke-width="0.8"/>
<text x="27.30" y="407.60" font-size="10" text-anchor="middle">8</text>
<line x1="37.60" y1="436.30" x2="42.90" y2="436.30" stroke="#888" stroke-width="0.8"/>
<text x="27.30" y="440.80" font-size="10" text-anchor="middle">4</text>
<line x1="37.60" y1="469.50" x2="42.90" y2="469.50" stroke="#888" stroke-width="0.8"/>
<text x="32.10" y="474.00" font-size="10" text-anchor="middle">0</text>
<text x="19.00" y="421.80" font-size="10.5" text-anchor="middle" transform="rotate(-90 19.00 421.80)">Total ROS (RLU)</text>
<line x1="53.50" y1="474.10" x2="155.40" y2="474.10" stroke="#888" stroke-width="0.8"/>
<line x1="53.50" y1="474.10" x2="53.50" y2="479.60" stroke="#888" stroke-width="0.8"/>
<line x1="70.40" y1="474.10" x2="70.40" y2="479.60" stroke="#888" stroke-width="0.8"/>
<line x1="87.70" y1="474.10" x2="87.70" y2="479.60" stroke="#888" stroke-width="0.8"/>
<line x1="104.80" y1="474.10" x2="104.80" y2="479.60" stroke="#888" stroke-width="0.8"/>
<line x1="121.70" y1="474.10" x2="121.70" y2="479.60" stroke="#888" stroke-width="0.8"/>
<line x1="138.80" y1="474.10" x2="138.80" y2="479.60" stroke="#888" stroke-width="0.8"/>
<line x1="155.40" y1="474.10" x2="155.40" y2="479.60" stroke="#888" stroke-width="0.8"/>
<line x1="47.00" y1="469.30" x2="60.00" y2="469.30" stroke="#666" stroke-width="0.6"/>
<circle cx="48.1" cy="469.3" r="2.8" fill="none" stroke="#777" stroke-width="0.6"/><line x1="45.3" y1="469.3" x2="50.9" y2="469.3" stroke="#777" stroke-width="0.5"/>
<circle cx="53.5" cy="469.3" r="2.8" fill="none" stroke="#777" stroke-width="0.6"/><line x1="50.7" y1="469.3" x2="56.3" y2="469.3" stroke="#777" stroke-width="0.5"/>
<circle cx="59.0" cy="469.3" r="2.8" fill="none" stroke="#777" stroke-width="0.6"/><line x1="56.2" y1="469.3" x2="61.8" y2="469.3" stroke="#777" stroke-width="0.5"/>
<text x="54.00" y="463.50" font-size="10.5" text-anchor="middle">d</text>
<line x1="70.40" y1="382.10" x2="70.40" y2="388.40" stroke="#555" stroke-width="0.6"/>
<line x1="70.40" y1="401.50" x2="70.40" y2="409.00" stroke="#555" stroke-width="0.6"/>
<line x1="66.40" y1="382.10" x2="74.40" y2="382.10" stroke="#555" stroke-width="0.6"/>
<line x1="66.40" y1="409.00" x2="74.40" y2="409.00" stroke="#555" stroke-width="0.6"/>
<rect x="62.40" y="388.40" width="16.00" height="13.10" fill="#fff" stroke="#555" stroke-width="0.6"/>
<line x1="62.40" y1="394.10" x2="78.40" y2="394.10" stroke="#333" stroke-width="0.84"/>
<circle cx="70.4" cy="382.1" r="2.8" fill="none" stroke="#777" stroke-width="0.6"/><line x1="67.6" y1="382.1" x2="73.2" y2="382.1" stroke="#777" stroke-width="0.5"/>
<circle cx="71.6" cy="394.0" r="2.8" fill="none" stroke="#777" stroke-width="0.6"/><line x1="68.8" y1="394.0" x2="74.4" y2="394.0" stroke="#777" stroke-width="0.5"/>
<circle cx="70.4" cy="409.0" r="2.8" fill="none" stroke="#777" stroke-width="0.6"/><line x1="67.6" y1="409.0" x2="73.2" y2="409.0" stroke="#777" stroke-width="0.5"/>
<text x="70.40" y="376.20" font-size="10.5" text-anchor="middle">a</text>
<line x1="87.70" y1="412.50" x2="87.70" y2="419.70" stroke="#555" stroke-width="0.6"/>
<line x1="87.70" y1="430.00" x2="87.70" y2="433.50" stroke="#555" stroke-width="0.6"/>
<line x1="83.70" y1="412.50" x2="91.70" y2="412.50" stroke="#555" stroke-width="0.6"/>
<line x1="83.70" y1="433.50" x2="91.70" y2="433.50" stroke="#555" stroke-width="0.6"/>
<rect x="79.70" y="419.70" width="16.00" height="10.30" fill="#fff" stroke="#555" stroke-width="0.6"/>
<line x1="79.70" y1="427.50" x2="95.70" y2="427.50" stroke="#333" stroke-width="0.84"/>
<circle cx="87.7" cy="413.0" r="2.8" fill="none" stroke="#777" stroke-width="0.6"/><line x1="84.9" y1="413.0" x2="90.5" y2="413.0" stroke="#777" stroke-width="0.5"/>
<circle cx="88.9" cy="424.0" r="2.8" fill="none" stroke="#777" stroke-width="0.6"/><line x1="86.1" y1="424.0" x2="91.7" y2="424.0" stroke="#777" stroke-width="0.5"/>
<circle cx="87.7" cy="433.0" r="2.8" fill="none" stroke="#777" stroke-width="0.6"/><line x1="84.9" y1="433.0" x2="90.5" y2="433.0" stroke="#777" stroke-width="0.5"/>
<text x="87.70" y="406.00" font-size="10.5" text-anchor="middle">b</text>
<line x1="104.80" y1="455.50" x2="104.80" y2="457.30" stroke="#555" stroke-width="0.6"/>
<line x1="104.80" y1="461.70" x2="104.80" y2="463.50" stroke="#555" stroke-width="0.6"/>
<line x1="100.80" y1="455.50" x2="108.80" y2="455.50" stroke="#555" stroke-width="0.6"/>
<line x1="100.80" y1="463.50" x2="108.80" y2="463.50" stroke="#555" stroke-width="0.6"/>
<rect x="96.80" y="457.30" width="16.00" height="4.40" fill="#fff" stroke="#555" stroke-width="0.6"/>
<line x1="96.80" y1="459.50" x2="112.80" y2="459.50" stroke="#333" stroke-width="0.84"/>
<circle cx="104.8" cy="456.5" r="2.8" fill="none" stroke="#777" stroke-width="0.6"/><line x1="102.0" y1="456.5" x2="107.6" y2="456.5" stroke="#777" stroke-width="0.5"/>
<circle cx="106.0" cy="459.5" r="2.8" fill="none" stroke="#777" stroke-width="0.6"/><line x1="103.2" y1="459.5" x2="108.8" y2="459.5" stroke="#777" stroke-width="0.5"/>
<circle cx="104.8" cy="463.0" r="2.8" fill="none" stroke="#777" stroke-width="0.6"/><line x1="102.0" y1="463.0" x2="107.6" y2="463.0" stroke="#777" stroke-width="0.5"/>
<text x="104.80" y="450.50" font-size="10.5" text-anchor="middle">cd</text>
<line x1="121.70" y1="456.50" x2="121.70" y2="458.50" stroke="#555" stroke-width="0.6"/>
<line x1="121.70" y1="462.00" x2="121.70" y2="463.50" stroke="#555" stroke-width="0.6"/>
<line x1="117.70" y1="456.50" x2="125.70" y2="456.50" stroke="#555" stroke-width="0.6"/>
<line x1="117.70" y1="463.50" x2="125.70" y2="463.50" stroke="#555" stroke-width="0.6"/>
<rect x="113.70" y="458.50" width="16.00" height="3.50" fill="#fff" stroke="#555" stroke-width="0.6"/>
<line x1="113.70" y1="460.50" x2="129.70" y2="460.50" stroke="#333" stroke-width="0.84"/>
<circle cx="121.7" cy="456.5" r="2.8" fill="none" stroke="#777" stroke-width="0.6"/><line x1="118.9" y1="456.5" x2="124.5" y2="456.5" stroke="#777" stroke-width="0.5"/>
<circle cx="122.9" cy="461.0" r="2.8" fill="none" stroke="#777" stroke-width="0.6"/><line x1="120.1" y1="461.0" x2="125.7" y2="461.0" stroke="#777" stroke-width="0.5"/>
<circle cx="121.7" cy="463.0" r="2.8" fill="none" stroke="#777" stroke-width="0.6"/><line x1="118.9" y1="463.0" x2="124.5" y2="463.0" stroke="#777" stroke-width="0.5"/>
<text x="121.70" y="451.50" font-size="10.5" text-anchor="middle">c</text>
<line x1="138.80" y1="424.50" x2="138.80" y2="434.50" stroke="#555" stroke-width="0.6"/>
<line x1="138.80" y1="444.30" x2="138.80" y2="446.00" stroke="#555" stroke-width="0.6"/>
<line x1="134.80" y1="424.50" x2="142.80" y2="424.50" stroke="#555" stroke-width="0.6"/>
<line x1="134.80" y1="446.00" x2="142.80" y2="446.00" stroke="#555" stroke-width="0.6"/>
<rect x="130.80" y="434.50" width="16.00" height="9.80" fill="#fff" stroke="#555" stroke-width="0.6"/>
<line x1="130.80" y1="441.50" x2="146.80" y2="441.50" stroke="#333" stroke-width="0.84"/>
<circle cx="138.8" cy="424.5" r="2.8" fill="none" stroke="#777" stroke-width="0.6"/><line x1="136.0" y1="424.5" x2="141.6" y2="424.5" stroke="#777" stroke-width="0.5"/>
<circle cx="140.0" cy="440.0" r="2.8" fill="none" stroke="#777" stroke-width="0.6"/><line x1="137.2" y1="440.0" x2="142.8" y2="440.0" stroke="#777" stroke-width="0.5"/>
<circle cx="138.8" cy="445.5" r="2.8" fill="none" stroke="#777" stroke-width="0.6"/><line x1="136.0" y1="445.5" x2="141.6" y2="445.5" stroke="#777" stroke-width="0.5"/>
<text x="138.80" y="420.00" font-size="10.5" text-anchor="middle">c</text>
<line x1="155.40" y1="452.00" x2="155.40" y2="453.80" stroke="#555" stroke-width="0.6"/>
<line x1="155.40" y1="457.50" x2="155.40" y2="459.50" stroke="#555" stroke-width="0.6"/>
<line x1="151.40" y1="452.00" x2="159.40" y2="452.00" stroke="#555" stroke-width="0.6"/>
<line x1="151.40" y1="459.50" x2="159.40" y2="459.50" stroke="#555" stroke-width="0.6"/>
<rect x="147.40" y="453.80" width="16.00" height="3.70" fill="#fff" stroke="#555" stroke-width="0.6"/>
<line x1="147.40" y1="456.00" x2="163.40" y2="456.00" stroke="#333" stroke-width="0.84"/>
<circle cx="155.4" cy="452.0" r="2.8" fill="none" stroke="#777" stroke-width="0.6"/><line x1="152.6" y1="452.0" x2="158.2" y2="452.0" stroke="#777" stroke-width="0.5"/>
<circle cx="156.6" cy="455.0" r="2.8" fill="none" stroke="#777" stroke-width="0.6"/><line x1="153.8" y1="455.0" x2="159.4" y2="455.0" stroke="#777" stroke-width="0.5"/>
<circle cx="155.4" cy="459.0" r="2.8" fill="none" stroke="#777" stroke-width="0.6"/><line x1="152.6" y1="459.0" x2="158.2" y2="459.0" stroke="#777" stroke-width="0.5"/>
<text x="155.40" y="445.50" font-size="10.5" text-anchor="middle">bc</text>
<text x="56.50" y="487.10" font-size="10.5" text-anchor="end" transform="rotate(-45 56.50 487.10)">H<tspan font-size="7" dy="2.8">2</tspan><tspan dy="-2.8">O</tspan></text>
<text x="74.20" y="487.10" font-size="10.5" text-anchor="end" transform="rotate(-45 74.20 487.10)">10<tspan font-size="6.0" dy="-3.4">B</tspan></text>
<text x="91.50" y="487.10" font-size="10.5" text-anchor="end" transform="rotate(-45 91.50 487.10)">12</text>
<text x="108.60" y="487.10" font-size="10.5" text-anchor="end" transform="rotate(-45 108.60 487.10)">13</text>
<text x="125.50" y="487.10" font-size="10.5" text-anchor="end" transform="rotate(-45 125.50 487.10)">14</text>
<text x="142.60" y="487.10" font-size="10.5" text-anchor="end" transform="rotate(-45 142.60 487.10)">20</text>
<text x="159.20" y="487.10" font-size="10.5" text-anchor="end" transform="rotate(-45 159.20 487.10)">23</text>
<line x1="60.80" y1="499.80" x2="152.30" y2="499.80" stroke="#888" stroke-width="0.9"/>
<text x="106.20" y="511.70" font-size="10" text-anchor="middle">SCOOP</text>
<text x="197.00" y="320.00" font-size="11.5" fill="#000" font-weight="bold">i</text>
<text x="256.10" y="325.40" font-size="10" text-anchor="middle">SCOOP10<tspan font-size="6.5" dy="-3.6">B</tspan></text>
<line x1="226.80" y1="327.40" x2="288.00" y2="327.40" stroke="#777" stroke-width="0.8"/>
<text x="320.30" y="325.40" font-size="10" text-anchor="middle">SCOOP12</text>
<line x1="291.30" y1="327.40" x2="352.60" y2="327.40" stroke="#777" stroke-width="0.8"/>
<text x="393.20" y="325.40" font-size="10" text-anchor="middle">SCOOP13</text>
<line x1="361.80" y1="327.40" x2="422.60" y2="327.40" stroke="#777" stroke-width="0.8"/>
<text x="452.90" y="325.40" font-size="10" text-anchor="middle">SCOOP14</text>
<line x1="426.80" y1="327.40" x2="487.60" y2="327.40" stroke="#777" stroke-width="0.8"/>
<text x="231.80" y="338.20" font-size="10" text-anchor="middle">0</text>
<text x="247.70" y="338.20" font-size="10" text-anchor="middle">5</text>
<text x="263.70" y="338.20" font-size="10" text-anchor="middle">15</text>
<text x="279.90" y="338.20" font-size="10" text-anchor="middle">30</text>
<text x="295.50" y="338.20" font-size="10" text-anchor="middle">0</text>
<text x="312.90" y="338.20" font-size="10" text-anchor="middle">5</text>
<text x="327.80" y="338.20" font-size="10" text-anchor="middle">15</text>
<text x="345.10" y="338.20" font-size="10" text-anchor="middle">30</text>
<text x="366.80" y="338.20" font-size="10" text-anchor="middle">0</text>
<text x="381.70" y="338.20" font-size="10" text-anchor="middle">5</text>
<text x="396.60" y="338.20" font-size="10" text-anchor="middle">15</text>
<text x="412.70" y="338.20" font-size="10" text-anchor="middle">30</text>
<text x="429.30" y="338.20" font-size="10" text-anchor="middle">0</text>
<text x="446.20" y="338.20" font-size="10" text-anchor="middle">5</text>
<text x="460.30" y="338.20" font-size="10" text-anchor="middle">15</text>
<text x="477.70" y="338.20" font-size="10" text-anchor="middle">30</text>
<text x="488.90" y="338.20" font-size="10">min</text>
<text x="205.30" y="335.40" font-size="8.3">kDa</text>
<text x="193.30" y="344.60" font-size="10.5">IB:</text>
<text x="210.80" y="344.60" font-size="8.8">46</text>
<line x1="221.00" y1="341.40" x2="223.40" y2="341.40" stroke="#333" stroke-width="0.7"/>
<text x="181.00" y="356.30" font-size="10.5">α-pERK</text>
<text x="187.70" y="370.00" font-size="10.5">CBB</text>
<text x="211.40" y="366.50" font-size="8.8">50</text>
<line x1="221.00" y1="363.80" x2="223.40" y2="363.80" stroke="#333" stroke-width="0.7"/>
<defs><filter id="bl" x="-20%" y="-50%" width="140%" height="200%"><feGaussianBlur stdDeviation="0.8"/></filter></defs>
<rect x="223.40" y="339.60" width="131.60" height="18.70" fill="#e6e6e6" stroke="#777" stroke-width="0.8"/>
<rect x="223.40" y="359.00" width="131.60" height="12.50" fill="#e2e2e2" stroke="#777" stroke-width="0.8"/>
<rect x="356.10" y="339.60" width="131.50" height="18.70" fill="#e6e6e6" stroke="#777" stroke-width="0.8"/>
<rect x="356.10" y="359.00" width="131.50" height="12.50" fill="#e2e2e2" stroke="#777" stroke-width="0.8"/>
<rect x="224.6" y="346.1" width="14.4" height="3.4" rx="1.5" fill="rgb(182,182,182)" filter="url(#bl)"/>
<rect x="224.6" y="350.9" width="14.4" height="3.0" rx="1.5" fill="rgb(214,214,214)" filter="url(#bl)"/>
<rect x="224.8" y="360.2" width="14.0" height="10.2" fill="#acacac" filter="url(#bl)"/>
<rect x="240.5" y="346.1" width="14.4" height="3.4" rx="1.5" fill="rgb(0,0,0)" filter="url(#bl)"/>
<rect x="240.5" y="350.9" width="14.4" height="3.0" rx="1.5" fill="rgb(57,57,57)" filter="url(#bl)"/>
<rect x="241.2" y="349" width="13" height="7" fill="#000" opacity="0.19" filter="url(#bl)"/>
<rect x="240.7" y="360.2" width="14.0" height="10.2" fill="#acacac" filter="url(#bl)"/>
<rect x="256.5" y="346.1" width="14.4" height="3.4" rx="1.5" fill="rgb(0,0,0)" filter="url(#bl)"/>
<rect x="256.5" y="350.9" width="14.4" height="3.0" rx="1.5" fill="rgb(11,11,11)" filter="url(#bl)"/>
<rect x="257.2" y="349" width="13" height="7" fill="#000" opacity="0.24" filter="url(#bl)"/>
<rect x="256.7" y="360.2" width="14.0" height="10.2" fill="#acacac" filter="url(#bl)"/>
<rect x="272.7" y="346.1" width="14.4" height="3.4" rx="1.5" fill="rgb(0,0,0)" filter="url(#bl)"/>
<rect x="272.7" y="350.9" width="14.4" height="3.0" rx="1.5" fill="rgb(57,57,57)" filter="url(#bl)"/>
<rect x="273.4" y="349" width="13" height="7" fill="#000" opacity="0.19" filter="url(#bl)"/>
<rect x="272.9" y="360.2" width="14.0" height="10.2" fill="#acacac" filter="url(#bl)"/>
<rect x="288.3" y="346.1" width="14.4" height="3.4" rx="1.5" fill="rgb(200,200,200)" filter="url(#bl)"/>
<rect x="288.3" y="350.9" width="14.4" height="3.0" rx="1.5" fill="rgb(216,216,216)" filter="url(#bl)"/>
<rect x="288.5" y="360.2" width="14.0" height="10.2" fill="#acacac" filter="url(#bl)"/>
<rect x="305.7" y="346.1" width="14.4" height="3.4" rx="1.5" fill="rgb(11,11,11)" filter="url(#bl)"/>
<rect x="305.7" y="350.9" width="14.4" height="3.0" rx="1.5" fill="rgb(114,114,114)" filter="url(#bl)"/>
<rect x="306.4" y="349" width="13" height="7" fill="#000" opacity="0.12" filter="url(#bl)"/>
<rect x="305.9" y="360.2" width="14.0" height="10.2" fill="#acacac" filter="url(#bl)"/>
<rect x="320.6" y="346.1" width="14.4" height="3.4" rx="1.5" fill="rgb(11,11,11)" filter="url(#bl)"/>
<rect x="320.6" y="350.9" width="14.4" height="3.0" rx="1.5" fill="rgb(102,102,102)" filter="url(#bl)"/>
<rect x="321.3" y="349" width="13" height="7" fill="#000" opacity="0.14" filter="url(#bl)"/>
<rect x="320.8" y="360.2" width="14.0" height="10.2" fill="#acacac" filter="url(#bl)"/>
<rect x="337.9" y="346.1" width="14.4" height="3.4" rx="1.5" fill="rgb(22,22,22)" filter="url(#bl)"/>
<rect x="337.9" y="350.9" width="14.4" height="3.0" rx="1.5" fill="rgb(114,114,114)" filter="url(#bl)"/>
<rect x="338.6" y="349" width="13" height="7" fill="#000" opacity="0.12" filter="url(#bl)"/>
<rect x="338.1" y="360.2" width="14.0" height="10.2" fill="#acacac" filter="url(#bl)"/>
<rect x="359.6" y="346.1" width="14.4" height="3.4" rx="1.5" fill="rgb(182,182,182)" filter="url(#bl)"/>
<rect x="359.6" y="350.9" width="14.4" height="3.0" rx="1.5" fill="rgb(200,200,200)" filter="url(#bl)"/>
<rect x="359.8" y="360.2" width="14.0" height="10.2" fill="#acacac" filter="url(#bl)"/>
<rect x="374.5" y="346.1" width="14.4" height="3.4" rx="1.5" fill="rgb(193,193,193)" filter="url(#bl)"/>
<rect x="374.5" y="350.9" width="14.4" height="3.0" rx="1.5" fill="rgb(205,205,205)" filter="url(#bl)"/>
<rect x="374.7" y="360.2" width="14.0" height="10.2" fill="#acacac" filter="url(#bl)"/>
<rect x="389.4" y="346.1" width="14.4" height="3.4" rx="1.5" fill="rgb(0,0,0)" filter="url(#bl)"/>
<rect x="389.4" y="350.9" width="14.4" height="3.0" rx="1.5" fill="rgb(68,68,68)" filter="url(#bl)"/>
<rect x="390.1" y="349" width="13" height="7" fill="#000" opacity="0.17" filter="url(#bl)"/>
<rect x="389.6" y="360.2" width="14.0" height="10.2" fill="#acacac" filter="url(#bl)"/>
<rect x="405.5" y="346.1" width="14.4" height="3.4" rx="1.5" fill="rgb(11,11,11)" filter="url(#bl)"/>
<rect x="405.5" y="350.9" width="14.4" height="3.0" rx="1.5" fill="rgb(91,91,91)" filter="url(#bl)"/>
<rect x="406.2" y="349" width="13" height="7" fill="#000" opacity="0.15" filter="url(#bl)"/>
<rect x="405.7" y="360.2" width="14.0" height="10.2" fill="#acacac" filter="url(#bl)"/>
<rect x="422.1" y="346.1" width="14.4" height="3.4" rx="1.5" fill="rgb(186,186,186)" filter="url(#bl)"/>
<rect x="422.1" y="350.9" width="14.4" height="3.0" rx="1.5" fill="rgb(205,205,205)" filter="url(#bl)"/>
<rect x="422.3" y="360.2" width="14.0" height="10.2" fill="#acacac" filter="url(#bl)"/>
<rect x="439.0" y="346.1" width="14.4" height="3.4" rx="1.5" fill="rgb(205,205,205)" filter="url(#bl)"/>
<rect x="439.0" y="350.9" width="14.4" height="3.0" rx="1.5" fill="rgb(214,214,214)" filter="url(#bl)"/>
<rect x="439.2" y="360.2" width="14.0" height="10.2" fill="#acacac" filter="url(#bl)"/>
<rect x="453.1" y="346.1" width="14.4" height="3.4" rx="1.5" fill="rgb(114,114,114)" filter="url(#bl)"/>
<rect x="453.1" y="350.9" width="14.4" height="3.0" rx="1.5" fill="rgb(159,159,159)" filter="url(#bl)"/>
<rect x="453.3" y="360.2" width="14.0" height="10.2" fill="#acacac" filter="url(#bl)"/>
<rect x="470.5" y="346.1" width="14.4" height="3.4" rx="1.5" fill="rgb(148,148,148)" filter="url(#bl)"/>
<rect x="470.5" y="350.9" width="14.4" height="3.0" rx="1.5" fill="rgb(182,182,182)" filter="url(#bl)"/>
<rect x="470.7" y="360.2" width="14.0" height="10.2" fill="#acacac" filter="url(#bl)"/>
<text x="488.90" y="348.40" font-size="8.8">pMPK6</text>
<text x="488.90" y="357.00" font-size="8.8">pMPK3</text>
<text x="489.00" y="369.60" font-size="10">RBC</text>
<text x="523.50" y="281.50" font-size="11.5" fill="#000" font-weight="bold">j</text>
<line x1="566.20" y1="295.70" x2="566.20" y2="358.40" stroke="#888" stroke-width="0.8"/>
<line x1="563.20" y1="295.70" x2="566.20" y2="295.70" stroke="#888" stroke-width="0.8"/>
<text x="558.80" y="300.00" font-size="10.2" text-anchor="end">2.5</text>
<line x1="563.20" y1="316.60" x2="566.20" y2="316.60" stroke="#888" stroke-width="0.8"/>
<text x="558.80" y="320.90" font-size="10.2" text-anchor="end">2.0</text>
<line x1="563.20" y1="337.50" x2="566.20" y2="337.50" stroke="#888" stroke-width="0.8"/>
<text x="558.80" y="341.80" font-size="10.2" text-anchor="end">1.5</text>
<line x1="563.20" y1="358.40" x2="566.20" y2="358.40" stroke="#888" stroke-width="0.8"/>
<text x="558.80" y="362.70" font-size="10.2" text-anchor="end">1.0</text>
<text x="539.50" y="327.70" font-size="10.5" text-anchor="middle" transform="rotate(-90 539.50 327.70)">Ethylene (ppm)</text>
<line x1="577.00" y1="360.60" x2="635.00" y2="360.60" stroke="#888" stroke-width="0.8"/>
<line x1="577.00" y1="360.60" x2="577.00" y2="363.80" stroke="#888" stroke-width="0.8"/>
<line x1="596.00" y1="360.60" x2="596.00" y2="363.80" stroke="#888" stroke-width="0.8"/>
<line x1="615.70" y1="360.60" x2="615.70" y2="363.80" stroke="#888" stroke-width="0.8"/>
<line x1="635.00" y1="360.60" x2="635.00" y2="363.80" stroke="#888" stroke-width="0.8"/>
<line x1="569.00" y1="353.50" x2="586.00" y2="353.50" stroke="#666" stroke-width="0.6"/>
<circle cx="570.8" cy="353.5" r="2.8" fill="none" stroke="#777" stroke-width="0.6"/><line x1="568.0" y1="353.5" x2="573.6" y2="353.5" stroke="#777" stroke-width="0.5"/>
<circle cx="577.0" cy="353.5" r="2.8" fill="none" stroke="#777" stroke-width="0.6"/><line x1="574.2" y1="353.5" x2="579.8" y2="353.5" stroke="#777" stroke-width="0.5"/>
<circle cx="583.4" cy="353.5" r="2.8" fill="none" stroke="#777" stroke-width="0.6"/><line x1="580.6" y1="353.5" x2="586.2" y2="353.5" stroke="#777" stroke-width="0.5"/>
<text x="577.60" y="348.90" font-size="10.5" text-anchor="middle">b</text>
<line x1="596.00" y1="313.80" x2="596.00" y2="317.60" stroke="#555" stroke-width="0.6"/>
<line x1="596.00" y1="329.40" x2="596.00" y2="337.30" stroke="#555" stroke-width="0.6"/>
<line x1="591.25" y1="313.80" x2="600.75" y2="313.80" stroke="#555" stroke-width="0.6"/>
<line x1="591.25" y1="337.30" x2="600.75" y2="337.30" stroke="#555" stroke-width="0.6"/>
<rect x="586.50" y="317.60" width="19.00" height="11.80" fill="#fff" stroke="#555" stroke-width="0.6"/>
<line x1="586.50" y1="321.20" x2="605.50" y2="321.20" stroke="#333" stroke-width="0.84"/>
<circle cx="596.0" cy="314.5" r="2.8" fill="none" stroke="#777" stroke-width="0.6"/><line x1="593.2" y1="314.5" x2="598.8" y2="314.5" stroke="#777" stroke-width="0.5"/>
<circle cx="596.0" cy="320.5" r="2.8" fill="none" stroke="#777" stroke-width="0.6"/><line x1="593.2" y1="320.5" x2="598.8" y2="320.5" stroke="#777" stroke-width="0.5"/>
<circle cx="596.0" cy="324.0" r="2.8" fill="none" stroke="#777" stroke-width="0.6"/><line x1="593.2" y1="324.0" x2="598.8" y2="324.0" stroke="#777" stroke-width="0.5"/>
<circle cx="596.0" cy="337.5" r="2.8" fill="none" stroke="#777" stroke-width="0.6"/><line x1="593.2" y1="337.5" x2="598.8" y2="337.5" stroke="#777" stroke-width="0.5"/>
<text x="596.00" y="309.70" font-size="10.5" text-anchor="middle">a</text>
<line x1="615.70" y1="338.50" x2="615.70" y2="339.20" stroke="#555" stroke-width="0.6"/>
<line x1="615.70" y1="340.20" x2="615.70" y2="341.00" stroke="#555" stroke-width="0.6"/>
<line x1="611.45" y1="338.50" x2="619.95" y2="338.50" stroke="#555" stroke-width="0.6"/>
<line x1="611.45" y1="341.00" x2="619.95" y2="341.00" stroke="#555" stroke-width="0.6"/>
<rect x="607.20" y="339.20" width="17.00" height="1.00" fill="#fff" stroke="#555" stroke-width="0.6"/>
<line x1="607.20" y1="339.60" x2="624.20" y2="339.60" stroke="#333" stroke-width="0.84"/>
<circle cx="612.7" cy="338.5" r="2.8" fill="none" stroke="#777" stroke-width="0.6"/><line x1="609.9" y1="338.5" x2="615.5" y2="338.5" stroke="#777" stroke-width="0.5"/>
<circle cx="618.7" cy="340.5" r="2.8" fill="none" stroke="#777" stroke-width="0.6"/><line x1="615.9" y1="340.5" x2="621.5" y2="340.5" stroke="#777" stroke-width="0.5"/>
<circle cx="615.7" cy="341.5" r="2.8" fill="none" stroke="#777" stroke-width="0.6"/><line x1="612.9" y1="341.5" x2="618.5" y2="341.5" stroke="#777" stroke-width="0.5"/>
<text x="615.70" y="332.70" font-size="10.5" text-anchor="middle">a</text>
<line x1="635.00" y1="326.00" x2="635.00" y2="329.40" stroke="#555" stroke-width="0.6"/>
<line x1="635.00" y1="335.40" x2="635.00" y2="337.50" stroke="#555" stroke-width="0.6"/>
<line x1="630.75" y1="326.00" x2="639.25" y2="326.00" stroke="#555" stroke-width="0.6"/>
<line x1="630.75" y1="337.50" x2="639.25" y2="337.50" stroke="#555" stroke-width="0.6"/>
<rect x="626.50" y="329.40" width="17.00" height="6.00" fill="#fff" stroke="#555" stroke-width="0.6"/>
<line x1="626.50" y1="332.00" x2="643.50" y2="332.00" stroke="#333" stroke-width="0.84"/>
<circle cx="635.0" cy="326.5" r="2.8" fill="none" stroke="#777" stroke-width="0.6"/><line x1="632.2" y1="326.5" x2="637.8" y2="326.5" stroke="#777" stroke-width="0.5"/>
<circle cx="637.0" cy="333.0" r="2.8" fill="none" stroke="#777" stroke-width="0.6"/><line x1="634.2" y1="333.0" x2="639.8" y2="333.0" stroke="#777" stroke-width="0.5"/>
<circle cx="635.0" cy="337.5" r="2.8" fill="none" stroke="#777" stroke-width="0.6"/><line x1="632.2" y1="337.5" x2="637.8" y2="337.5" stroke="#777" stroke-width="0.5"/>
<text x="635.00" y="320.50" font-size="10.5" text-anchor="middle">a</text>
<text x="578.50" y="372.50" font-size="10" text-anchor="end" transform="rotate(-45 578.50 372.50)">H<tspan font-size="7" dy="2.8">2</tspan><tspan dy="-2.8">O</tspan></text>
<text x="595.20" y="372.50" font-size="10" text-anchor="end" transform="rotate(-45 595.20 372.50)">SCOOP10<tspan font-size="6.0" dy="-3.4">B</tspan></text>
<text x="614.90" y="372.50" font-size="10" text-anchor="end" transform="rotate(-45 614.90 372.50)">SCOOP12</text>
<text x="636.50" y="374.00" font-size="10" text-anchor="end" transform="rotate(-45 636.50 374.00)">flg22</text>
<text x="197.20" y="389.00" font-size="11.5" fill="#000" font-weight="bold">k</text>
<text x="223.30" y="396.80" font-size="10">×10<tspan font-size="7" dy="-4.2">5</tspan></text>
<line x1="238.50" y1="403.30" x2="238.50" y2="463.40" stroke="#888" stroke-width="0.8"/>
<line x1="235.50" y1="403.40" x2="238.50" y2="403.40" stroke="#888" stroke-width="0.8"/>
<text x="225.60" y="407.70" font-size="10" text-anchor="middle">6</text>
<line x1="235.50" y1="423.40" x2="238.50" y2="423.40" stroke="#888" stroke-width="0.8"/>
<text x="225.60" y="427.70" font-size="10" text-anchor="middle">4</text>
<line x1="235.50" y1="443.40" x2="238.50" y2="443.40" stroke="#888" stroke-width="0.8"/>
<text x="225.60" y="447.70" font-size="10" text-anchor="middle">2</text>
<line x1="235.50" y1="463.40" x2="238.50" y2="463.40" stroke="#888" stroke-width="0.8"/>
<text x="231.80" y="467.70" font-size="10" text-anchor="middle">0</text>
<text x="218.30" y="443.00" font-size="10.5" text-anchor="middle" transform="rotate(-90 218.30 443.00)">Total ROS (RLU)</text>
<line x1="248.00" y1="464.60" x2="284.40" y2="464.60" stroke="#888" stroke-width="0.8"/>
<line x1="248.00" y1="464.60" x2="248.00" y2="468.10" stroke="#888" stroke-width="0.8"/>
<line x1="266.30" y1="464.60" x2="266.30" y2="468.10" stroke="#888" stroke-width="0.8"/>
<line x1="284.40" y1="464.60" x2="284.40" y2="468.10" stroke="#888" stroke-width="0.8"/>
<line x1="248.00" y1="454.20" x2="248.00" y2="454.40" stroke="#555" stroke-width="0.6"/>
<line x1="248.00" y1="454.80" x2="248.00" y2="455.00" stroke="#555" stroke-width="0.6"/>
<line x1="244.00" y1="454.20" x2="252.00" y2="454.20" stroke="#555" stroke-width="0.6"/>
<line x1="244.00" y1="455.00" x2="252.00" y2="455.00" stroke="#555" stroke-width="0.6"/>
<rect x="240.00" y="454.40" width="16.00" height="0.40" fill="#fff" stroke="#555" stroke-width="0.6"/>
<line x1="240.00" y1="454.60" x2="256.00" y2="454.60" stroke="#333" stroke-width="0.84"/>
<circle cx="245.0" cy="454.6" r="1.6" fill="none" stroke="#777" stroke-width="0.6"/><line x1="243.4" y1="454.6" x2="246.6" y2="454.6" stroke="#777" stroke-width="0.5"/>
<circle cx="248.0" cy="454.6" r="1.6" fill="none" stroke="#777" stroke-width="0.6"/><line x1="246.4" y1="454.6" x2="249.6" y2="454.6" stroke="#777" stroke-width="0.5"/>
<circle cx="251.0" cy="454.6" r="1.6" fill="none" stroke="#777" stroke-width="0.6"/><line x1="249.4" y1="454.6" x2="252.6" y2="454.6" stroke="#777" stroke-width="0.5"/>
<text x="248.30" y="449.40" font-size="10.5" text-anchor="middle">c</text>
<line x1="266.30" y1="440.50" x2="266.30" y2="441.70" stroke="#555" stroke-width="0.6"/>
<line x1="266.30" y1="446.00" x2="266.30" y2="447.00" stroke="#555" stroke-width="0.6"/>
<line x1="262.30" y1="440.50" x2="270.30" y2="440.50" stroke="#555" stroke-width="0.6"/>
<line x1="262.30" y1="447.00" x2="270.30" y2="447.00" stroke="#555" stroke-width="0.6"/>
<rect x="258.30" y="441.70" width="16.00" height="4.30" fill="#fff" stroke="#555" stroke-width="0.6"/>
<line x1="258.30" y1="443.50" x2="274.30" y2="443.50" stroke="#333" stroke-width="0.84"/>
<circle cx="264.0" cy="441.5" r="1.8" fill="none" stroke="#777" stroke-width="0.6"/><line x1="262.2" y1="441.5" x2="265.8" y2="441.5" stroke="#777" stroke-width="0.5"/>
<circle cx="268.0" cy="443.0" r="1.8" fill="none" stroke="#777" stroke-width="0.6"/><line x1="266.2" y1="443.0" x2="269.8" y2="443.0" stroke="#777" stroke-width="0.5"/>
<circle cx="266.0" cy="446.0" r="1.8" fill="none" stroke="#777" stroke-width="0.6"/><line x1="264.2" y1="446.0" x2="267.8" y2="446.0" stroke="#777" stroke-width="0.5"/>
<text x="266.30" y="437.00" font-size="10.5" text-anchor="middle">b</text>
<line x1="284.40" y1="415.00" x2="284.40" y2="416.80" stroke="#555" stroke-width="0.6"/>
<line x1="284.40" y1="422.20" x2="284.40" y2="425.30" stroke="#555" stroke-width="0.6"/>
<line x1="280.15" y1="415.00" x2="288.65" y2="415.00" stroke="#555" stroke-width="0.6"/>
<line x1="280.15" y1="425.30" x2="288.65" y2="425.30" stroke="#555" stroke-width="0.6"/>
<rect x="275.90" y="416.80" width="17.00" height="5.40" fill="#fff" stroke="#555" stroke-width="0.6"/>
<line x1="275.90" y1="419.50" x2="292.90" y2="419.50" stroke="#333" stroke-width="0.84"/>
<circle cx="284.4" cy="416.0" r="1.8" fill="none" stroke="#777" stroke-width="0.6"/><line x1="282.6" y1="416.0" x2="286.2" y2="416.0" stroke="#777" stroke-width="0.5"/>
<circle cx="282.0" cy="419.5" r="1.8" fill="none" stroke="#777" stroke-width="0.6"/><line x1="280.2" y1="419.5" x2="283.8" y2="419.5" stroke="#777" stroke-width="0.5"/>
<circle cx="284.4" cy="425.0" r="1.8" fill="none" stroke="#777" stroke-width="0.6"/><line x1="282.6" y1="425.0" x2="286.2" y2="425.0" stroke="#777" stroke-width="0.5"/>
<text x="284.40" y="411.60" font-size="10.5" text-anchor="middle">a</text>
<text x="249.90" y="475.20" font-size="10.6" text-anchor="end" transform="rotate(-45 249.90 475.20)">H<tspan font-size="7" dy="2.8">2</tspan><tspan dy="-2.8">O</tspan></text>
<text x="268.40" y="476.50" font-size="10.6" text-anchor="end" transform="rotate(-45 268.40 476.50)">flg22</text>
<text x="289.90" y="474.30" font-size="10.6" text-anchor="end" transform="rotate(-45 289.90 474.30)">SCOOP12</text>
<text x="321.50" y="389.00" font-size="11.5" fill="#000" font-weight="bold">l</text>
<defs><linearGradient id="gus" x1="0" y1="0" x2="0" y2="1"><stop offset="0" stop-color="#90c8d4"/><stop offset="0.45" stop-color="#48a8c4"/><stop offset="0.75" stop-color="#1c88b8"/><stop offset="1" stop-color="#1058a8"/></linearGradient><linearGradient id="gus0" x1="0" y1="0" x2="0" y2="1"><stop offset="0" stop-color="#c8ccc6"/><stop offset="0.35" stop-color="#b4c4c0"/><stop offset="0.65" stop-color="#5aa0a8"/><stop offset="0.85" stop-color="#8ab0a0"/><stop offset="1" stop-color="#c8c4a0"/></linearGradient></defs>
<rect x="347.20" y="422.00" width="26.70" height="57.00" fill="#c6c6c6"/>
<path d="M356,422 L364,422 L364.5,468 Q360.5,480 356.5,468 Z" fill="url(#gus0)" opacity="0.85"/>
<text x="360.55" y="418.90" font-size="10" text-anchor="middle">H<tspan font-size="7" dy="2.8">2</tspan><tspan dy="-2.8">O</tspan></text>
<line x1="370.40" y1="469.00" x2="370.40" y2="477.00" stroke="#333" stroke-width="0.8"/>
<rect x="376.20" y="422.00" width="25.40" height="57.00" fill="#c6c6c6"/>
<path d="M377.3,422 L388.5,422 Q393.5,438 393.8,466 Q392.5,478 389,477.5 Q385.5,477 385.2,466 Q384.5,440 377.3,422 Z" fill="url(#gus)" opacity="1"/>
<text x="387.40" y="418.90" font-size="10" text-anchor="middle">10<tspan font-size="6.5" dy="-3.6">B</tspan></text>
<line x1="398.10" y1="469.00" x2="398.10" y2="477.00" stroke="#333" stroke-width="0.8"/>
<rect x="404.20" y="422.00" width="24.60" height="57.00" fill="#c6c6c6"/>
<path d="M413.4,422 L422.4,422 L424.2,466 Q422,478.5 419,478 Q414.5,477 414,466 Z" fill="url(#gus)" opacity="1"/>
<text x="416.50" y="418.90" font-size="10" text-anchor="middle">12</text>
<line x1="425.30" y1="469.00" x2="425.30" y2="477.00" stroke="#333" stroke-width="0.8"/>
<rect x="432.00" y="422.00" width="25.30" height="57.00" fill="#c6c6c6"/>
<path d="M441,422 L449.5,422 L450,466 Q448,478.5 445,478 Q441,477 440.6,466 Z" fill="url(#gus)" opacity="1"/>
<text x="444.65" y="418.90" font-size="10" text-anchor="middle">13</text>
<line x1="453.80" y1="469.00" x2="453.80" y2="477.00" stroke="#333" stroke-width="0.8"/>
<rect x="460.70" y="422.00" width="25.10" height="57.00" fill="#c6c6c6"/>
<path d="M468.5,422 L478,422 L480,466 Q477.5,478.5 474,478 Q469,477 468.5,466 Z" fill="url(#gus)" opacity="1"/>
<text x="473.25" y="418.90" font-size="10" text-anchor="middle">14</text>
<line x1="482.30" y1="469.00" x2="482.30" y2="477.00" stroke="#333" stroke-width="0.8"/>
<line x1="380.90" y1="407.20" x2="482.70" y2="407.20" stroke="#777" stroke-width="0.8"/>
<text x="427.80" y="405.60" font-size="10" text-anchor="middle">SCOOP</text>
<text x="341.50" y="447.40" font-size="10" text-anchor="middle" font-style="italic" transform="rotate(-90 341.50 447.40)">pMYB51::GUS</text>
</svg></body></html>
